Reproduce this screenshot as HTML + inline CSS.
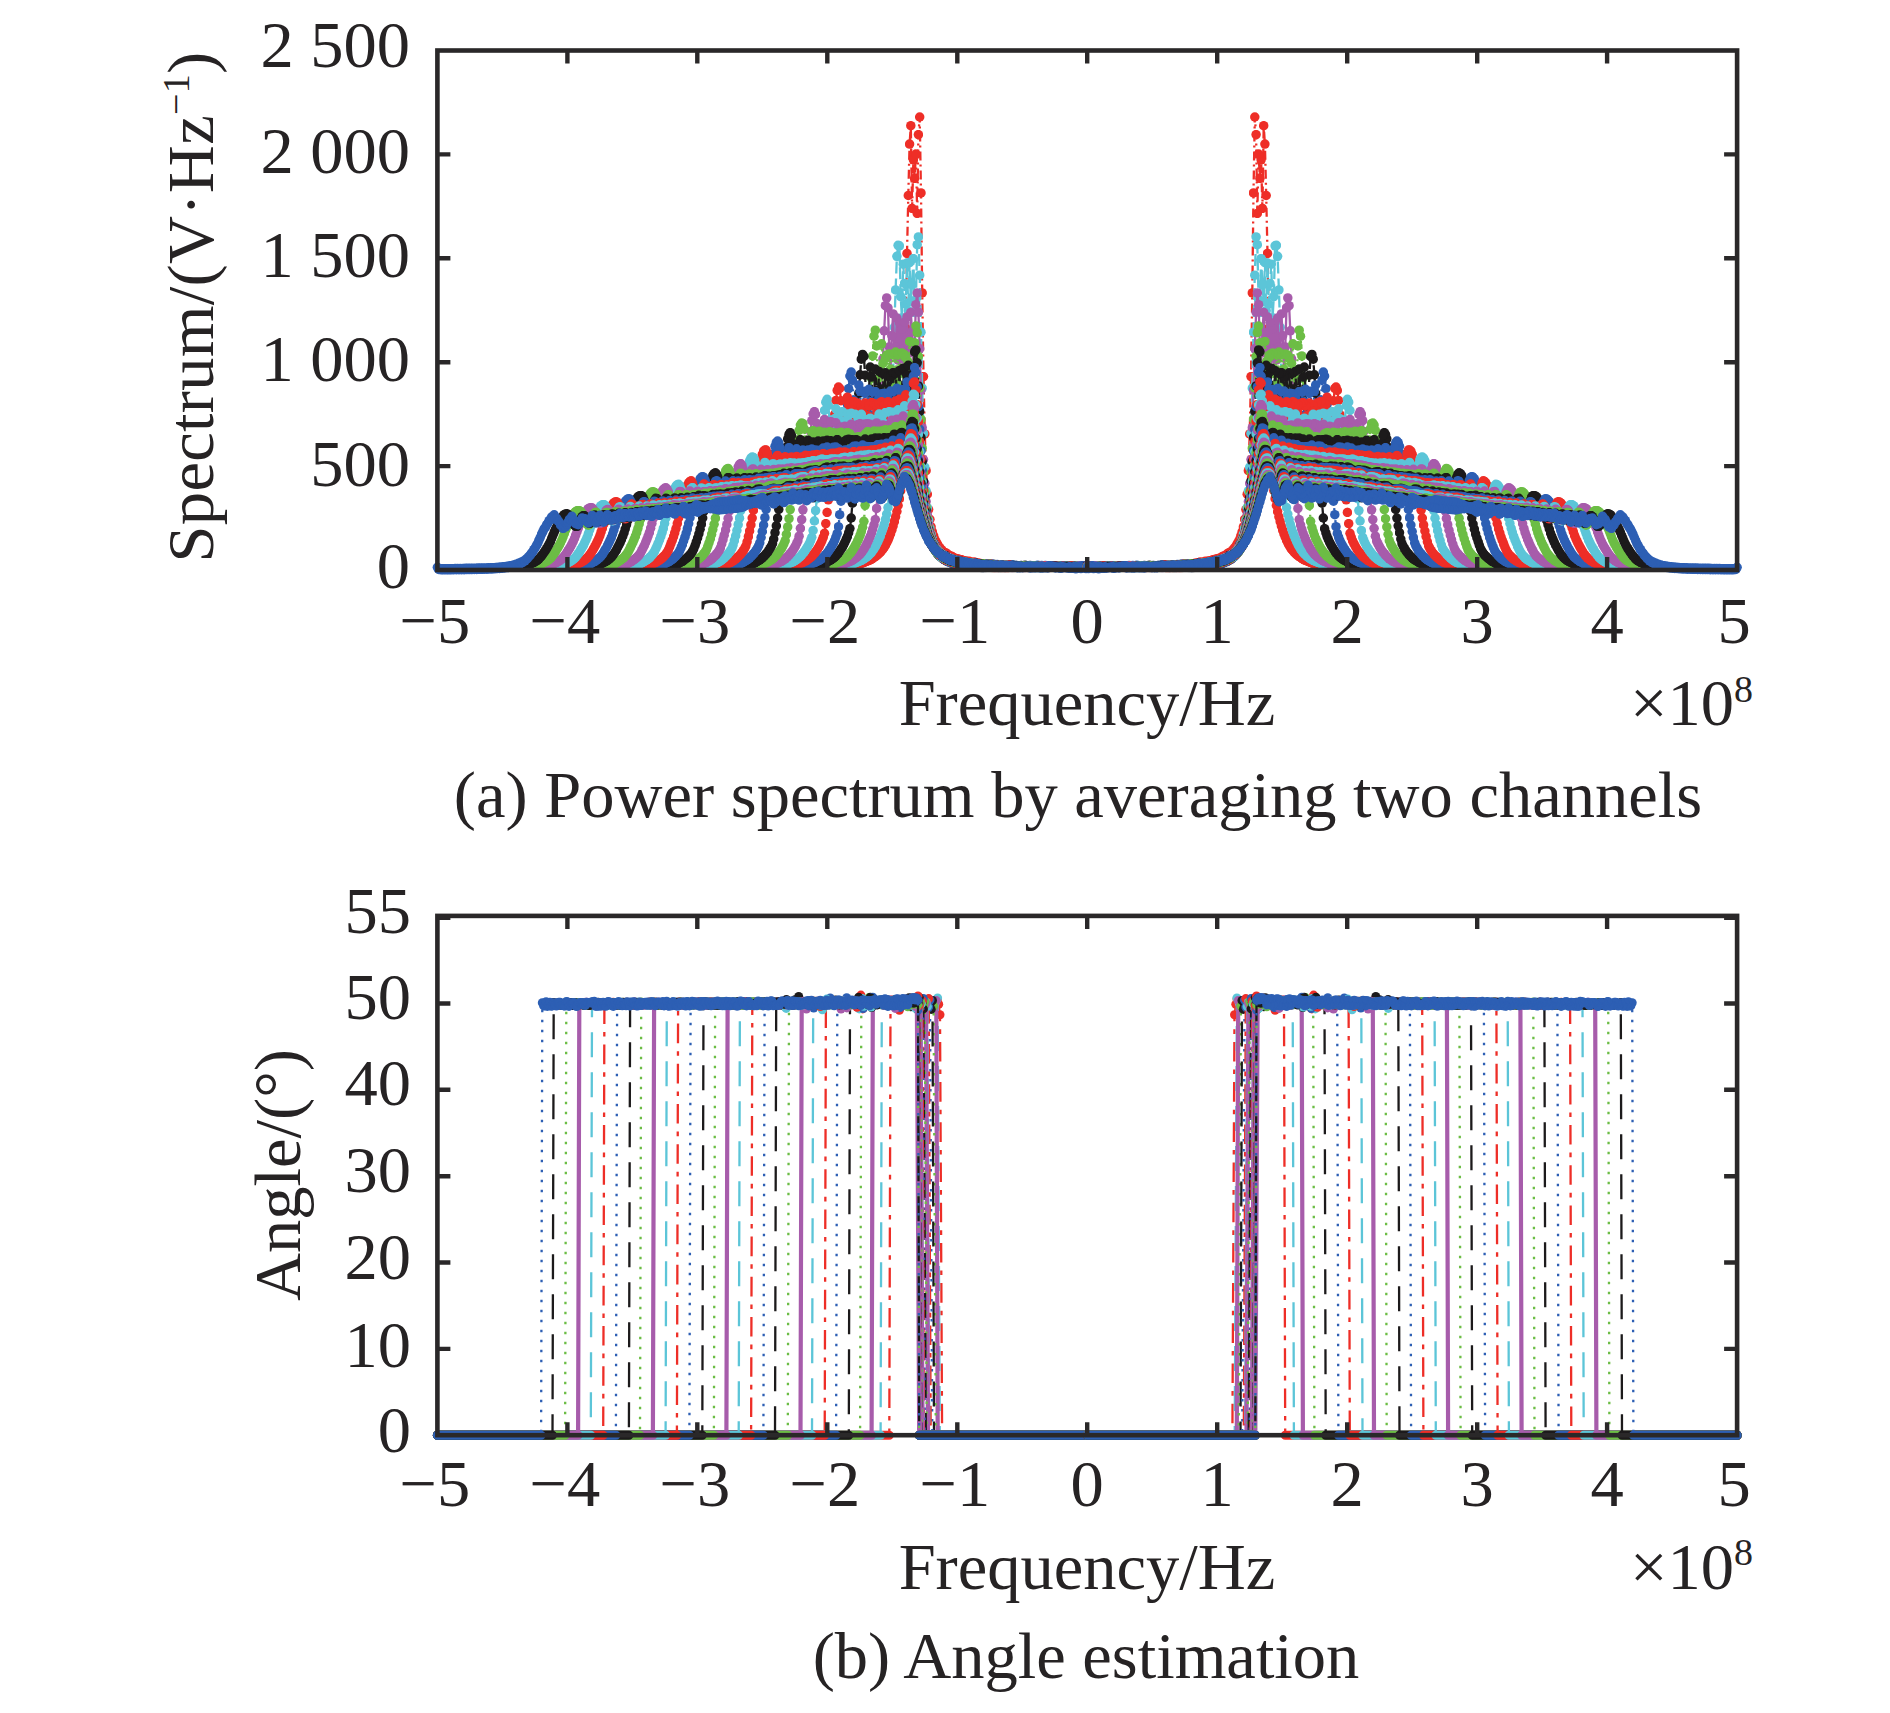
<!DOCTYPE html>
<html><head><meta charset="utf-8"><title>Figure</title>
<style>html,body{margin:0;padding:0;background:#fff}svg{display:block}</style></head>
<body>
<svg width="1890" height="1713" viewBox="0 0 1890 1713">
<rect width="1890" height="1713" fill="#fff"/>
<defs>
<marker id="m0" markerUnits="userSpaceOnUse" markerWidth="10" markerHeight="10" refX="5" refY="5" viewBox="0 0 10 10"><circle cx="5" cy="5" r="4.75" fill="#ee2e27"/></marker>
<marker id="m1" markerUnits="userSpaceOnUse" markerWidth="10" markerHeight="10" refX="5" refY="5" viewBox="0 0 10 10"><circle cx="5" cy="5" r="4.75" fill="#5cc5d8"/></marker>
<marker id="m2" markerUnits="userSpaceOnUse" markerWidth="10" markerHeight="10" refX="5" refY="5" viewBox="0 0 10 10"><circle cx="5" cy="5" r="4.75" fill="#a75cab"/></marker>
<marker id="m3" markerUnits="userSpaceOnUse" markerWidth="10" markerHeight="10" refX="5" refY="5" viewBox="0 0 10 10"><circle cx="5" cy="5" r="4.75" fill="#6cbd45"/></marker>
<marker id="m4" markerUnits="userSpaceOnUse" markerWidth="10" markerHeight="10" refX="5" refY="5" viewBox="0 0 10 10"><circle cx="5" cy="5" r="4.75" fill="#1c1a1b"/></marker>
<marker id="m5" markerUnits="userSpaceOnUse" markerWidth="10" markerHeight="10" refX="5" refY="5" viewBox="0 0 10 10"><circle cx="5" cy="5" r="4.75" fill="#2d5fb4"/></marker>
<clipPath id="ctop"><rect x="429.4" y="50.5" width="1315.6999999999998" height="527.5"/></clipPath>
<clipPath id="ctop2"><rect x="429.4" y="50.5" width="1315.6999999999998" height="521.8"/></clipPath>
</defs>
<g clip-path="url(#ctop)">
<g id="tl" fill="none" stroke-width="2.3" stroke-linejoin="round">
<g clip-path="url(#ctop2)">
<polyline points="843.6,567.1 844.8,566.9 846.1,566.8 847.4,566.6 848.6,566.4 849.9,566.1 851.2,565.9 852.4,565.7 853.7,565.4 855.0,565.1 856.2,564.8 857.5,564.5 858.8,564.1 860.1,563.7 861.3,563.4 862.6,562.9 863.9,562.5 865.1,562.0 866.4,561.5 867.7,561.0 868.9,560.4 870.2,559.8 871.5,559.1 872.7,558.3 874.0,557.5 875.3,556.6 876.6,555.7 877.8,554.6 879.1,553.4 880.4,552.1 881.6,550.7 882.9,549.1 884.2,547.3 885.4,545.2 886.7,542.8 888.0,540.2 889.2,537.2 890.5,533.9 891.8,530.2 893.1,526.1 894.3,521.7 895.6,516.8 896.9,511.5 898.1,505.5 899.4,498.7 900.7,490.7 901.9,477.7 903.2,438.5 904.5,390.9 905.7,328.0 907.0,253.4 908.3,195.5 909.6,144.1 910.8,125.7 912.1,208.4 913.4,159.8 914.6,178.4 915.9,154.0 917.2,213.4 918.4,134.6 919.7,117.0 921.0,192.9 922.2,292.9 923.5,376.6 924.8,433.9 926.1,470.7 927.3,494.2 928.6,509.6 929.9,519.3 931.1,526.9 932.4,531.8 933.7,535.9 934.9,539.6 936.2,541.9 937.5,544.2 938.7,546.5 940.0,547.9 941.3,549.7 942.6,551.2 943.8,552.0 945.1,552.6 946.4,553.2 947.6,554.4 948.9,555.3 950.2,555.9 951.4,556.2 952.7,557.1 954.0,558.0 955.2,558.2 956.5,558.7 957.8,559.0 959.1,559.3 960.3,559.7 961.6,559.7 962.9,560.4 964.1,561.0 965.4,561.1 966.7,561.2 967.9,562.2 969.2,561.3 970.5,562.2 971.7,562.3 973.0,562.6 974.3,562.1 975.6,562.9 976.8,562.9 978.1,563.2 979.4,563.2 980.6,563.5 981.9,563.7 983.2,563.6 984.4,563.7 985.7,564.1 987.0,564.1 988.2,564.5 989.5,564.4 990.8,564.3 992.1,565.1 993.3,565.0 994.6,565.2 995.9,565.1 997.1,564.9 998.4,565.6 999.7,565.7 1000.9,565.6 1002.2,565.7 1003.5,565.9 1004.7,566.2 1006.0,566.2 1007.3,566.4 1008.6,565.8 1009.8,566.3 1011.1,566.2 1012.4,566.3 1013.6,566.2 1014.9,566.6 1016.2,566.9 1017.4,566.8 1018.7,566.5 1020.0,566.7 1021.2,566.8 1022.5,566.8 1023.8,567.8 1025.1,567.1 1026.3,566.6 1027.6,567.7" stroke="#ee2e27" stroke-dasharray="9 4 2 4" marker-start="url(#m0)" marker-mid="url(#m0)" marker-end="url(#m0)"/>
<polyline points="834.7,567.2 835.9,567.0 837.2,566.9 838.5,566.7 839.7,566.5 841.0,566.3 842.3,566.1 843.6,565.8 844.8,565.6 846.1,565.3 847.4,565.0 848.6,564.8 849.9,564.4 851.2,564.1 852.4,563.7 853.7,563.4 855.0,562.9 856.2,562.5 857.5,562.0 858.8,561.5 860.1,560.9 861.3,560.3 862.6,559.6 863.9,558.8 865.1,558.0 866.4,557.1 867.7,556.1 868.9,555.0 870.2,553.7 871.5,552.3 872.7,550.6 874.0,548.8 875.3,546.7 876.6,544.3 877.8,541.7 879.1,538.9 880.4,535.7 881.6,532.3 882.9,528.6 884.2,524.4 885.4,519.6 886.7,514.1 888.0,507.5 889.2,486.5 890.5,457.4 891.8,421.9 893.1,374.4 894.3,327.3 895.6,289.9 896.9,256.3 898.1,245.3 899.4,245.8 900.7,296.6 901.9,317.7 903.2,264.2 904.5,283.4 905.7,304.1 907.0,263.1 908.3,310.7 909.6,262.6 910.8,301.7 912.1,284.3 913.4,258.6 914.6,312.5 915.9,299.7 917.2,244.7 918.4,236.9 919.7,275.2 921.0,332.2 922.2,388.2 923.5,433.4 924.8,467.2 926.1,490.9 927.3,507.6 928.6,519.9 929.9,528.0 931.1,534.0 932.4,538.8 933.7,542.8 934.9,545.2 936.2,547.6 937.5,549.5 938.7,551.2 940.0,552.5 941.3,553.7 942.6,554.6 943.8,556.2 945.1,556.7 946.4,557.4 947.6,557.5 948.9,558.2 950.2,558.7 951.4,559.7 952.7,560.1 954.0,560.1 955.2,560.7 956.5,560.6 957.8,561.2 959.1,561.4 960.3,561.7 961.6,562.3 962.9,562.4 964.1,562.5 965.4,563.1 966.7,563.4 967.9,563.4 969.2,563.7 970.5,563.7 971.7,563.6 973.0,564.2 974.3,564.6 975.6,564.7 976.8,564.6 978.1,564.6 979.4,564.6 980.6,564.8 981.9,565.6 983.2,565.3 984.4,565.0 985.7,565.3 987.0,565.5 988.2,565.3 989.5,565.2 990.8,565.6 992.1,566.0 993.3,566.1 994.6,565.9 995.9,566.6 997.1,566.2 998.4,566.5 999.7,566.2 1000.9,566.1 1002.2,566.1 1003.5,566.5 1004.7,566.2 1006.0,566.5 1007.3,566.7 1008.6,566.5 1009.8,566.7 1011.1,566.5 1012.4,566.8 1013.6,567.2 1014.9,566.6 1016.2,567.0 1017.4,566.6 1018.7,566.8 1020.0,567.3" stroke="#5cc5d8" stroke-dasharray="12 5" marker-start="url(#m1)" marker-mid="url(#m1)" marker-end="url(#m1)"/>
<polyline points="825.8,567.1 827.1,567.0 828.3,566.8 829.6,566.6 830.9,566.4 832.1,566.2 833.4,566.0 834.7,565.8 835.9,565.6 837.2,565.3 838.5,565.0 839.7,564.7 841.0,564.4 842.3,564.1 843.6,563.7 844.8,563.3 846.1,562.9 847.4,562.4 848.6,561.9 849.9,561.4 851.2,560.8 852.4,560.1 853.7,559.4 855.0,558.5 856.2,557.6 857.5,556.6 858.8,555.5 860.1,554.2 861.3,552.7 862.6,551.0 863.9,549.1 865.1,547.0 866.4,544.7 867.7,542.1 868.9,539.4 870.2,536.3 871.5,533.0 872.7,529.2 874.0,524.8 875.3,519.6 876.6,508.4 877.8,487.3 879.1,462.7 880.4,431.9 881.6,392.6 882.9,358.9 884.2,330.8 885.4,305.7 886.7,297.9 888.0,307.9 889.2,346.9 890.5,370.7 891.8,335.6 893.1,313.9 894.3,353.4 895.6,347.2 896.9,318.1 898.1,360.1 899.4,322.7 900.7,349.3 901.9,328.9 903.2,349.3 904.5,322.3 905.7,360.1 907.0,316.9 908.3,344.9 909.6,352.9 910.8,312.4 912.1,331.7 913.4,368.7 914.6,345.7 915.9,304.7 917.2,293.0 918.4,312.2 919.7,348.8 921.0,390.1 922.2,427.7 923.5,459.6 924.8,483.3 926.1,501.6 927.3,514.7 928.6,524.7 929.9,532.3 931.1,538.3 932.4,542.0 933.7,545.4 934.9,548.1 936.2,550.6 937.5,552.1 938.7,553.7 940.0,555.5 941.3,555.7 942.6,557.2 943.8,557.8 945.1,558.1 946.4,558.7 947.6,560.0 948.9,559.9 950.2,561.0 951.4,561.7 952.7,562.0 954.0,562.0 955.2,561.9 956.5,562.8 957.8,563.1 959.1,563.0 960.3,563.3 961.6,563.7 962.9,564.2 964.1,564.1 965.4,564.0 966.7,564.3 967.9,564.4 969.2,564.2 970.5,564.9 971.7,565.3 973.0,565.3 974.3,565.2 975.6,565.1 976.8,565.2 978.1,565.6 979.4,565.6 980.6,566.1 981.9,565.6 983.2,566.2 984.4,566.5 985.7,566.0 987.0,566.7 988.2,566.4 989.5,566.5 990.8,567.1 992.1,566.6 993.3,566.7 994.6,566.7 995.9,567.0 997.1,566.7 998.4,566.9 999.7,566.9 1000.9,566.9 1002.2,567.0 1003.5,567.0 1004.7,567.2 1006.0,566.9 1007.3,566.6 1008.6,566.7 1009.8,566.3 1011.1,566.7 1012.4,567.9" stroke="#a75cab" marker-start="url(#m2)" marker-mid="url(#m2)" marker-end="url(#m2)"/>
<polyline points="815.6,567.2 816.9,567.0 818.2,566.8 819.4,566.7 820.7,566.5 822.0,566.3 823.2,566.1 824.5,565.9 825.8,565.6 827.1,565.4 828.3,565.1 829.6,564.8 830.9,564.5 832.1,564.2 833.4,563.8 834.7,563.4 835.9,563.0 837.2,562.5 838.5,562.0 839.7,561.4 841.0,560.8 842.3,560.1 843.6,559.3 844.8,558.5 846.1,557.5 847.4,556.4 848.6,555.1 849.9,553.7 851.2,552.1 852.4,550.3 853.7,548.4 855.0,546.2 856.2,543.8 857.5,541.2 858.8,538.4 860.1,535.2 861.3,531.5 862.6,527.3 863.9,521.3 865.1,505.3 866.4,486.7 867.7,464.7 868.9,436.4 870.2,404.2 871.5,378.3 872.7,355.9 874.0,336.2 875.3,330.2 876.6,346.0 877.8,378.9 879.1,396.6 880.4,370.4 881.6,343.8 882.9,363.4 884.2,390.2 885.4,358.6 886.7,355.0 888.0,387.8 889.2,354.0 890.5,369.1 891.8,373.6 893.1,355.1 894.3,382.2 895.6,352.0 896.9,382.3 898.1,354.6 899.4,373.6 900.7,369.2 901.9,352.9 903.2,387.4 904.5,354.6 905.7,357.6 907.0,389.7 908.3,362.3 909.6,341.5 910.8,368.0 912.1,394.3 913.4,376.6 914.6,342.7 915.9,326.0 917.2,332.7 918.4,356.3 919.7,387.8 921.0,419.2 922.2,448.2 923.5,472.7 924.8,491.9 926.1,506.9 927.3,518.9 928.6,527.1 929.9,533.9 931.1,539.3 932.4,543.2 933.7,546.8 934.9,549.6 936.2,551.8 937.5,553.5 938.7,554.8 940.0,555.8 941.3,556.9 942.6,558.4 943.8,559.0 945.1,559.3 946.4,560.2 947.6,561.1 948.9,561.3 950.2,562.0 951.4,562.2 952.7,562.5 954.0,563.1 955.2,563.5 956.5,563.6 957.8,563.6 959.1,564.3 960.3,564.4 961.6,564.7 962.9,564.7 964.1,565.3 965.4,565.5 966.7,565.6 967.9,565.4 969.2,565.4 970.5,566.0 971.7,565.9 973.0,565.7 974.3,566.6 975.6,566.5 976.8,566.6 978.1,566.3 979.4,566.3 980.6,566.4 981.9,566.9 983.2,566.8 984.4,566.6 985.7,566.9 987.0,567.2 988.2,567.1 989.5,566.8 990.8,567.3 992.1,567.5 993.3,567.0 994.6,567.1 995.9,567.4" stroke="#6cbd45" stroke-dasharray="2 4" marker-start="url(#m3)" marker-mid="url(#m3)" marker-end="url(#m3)"/>
<polyline points="804.2,567.1 805.5,567.0 806.7,566.8 808.0,566.6 809.3,566.5 810.6,566.3 811.8,566.1 813.1,565.8 814.4,565.6 815.6,565.4 816.9,565.1 818.2,564.8 819.4,564.5 820.7,564.1 822.0,563.7 823.2,563.3 824.5,562.9 825.8,562.4 827.1,561.8 828.3,561.2 829.6,560.6 830.9,559.8 832.1,559.0 833.4,558.1 834.7,557.0 835.9,555.8 837.2,554.4 838.5,552.8 839.7,551.1 841.0,549.2 842.3,547.2 843.6,544.9 844.8,542.4 846.1,539.7 847.4,536.6 848.6,532.9 849.9,528.6 851.2,518.0 852.4,503.2 853.7,486.3 855.0,466.0 856.2,440.0 857.5,414.2 858.8,393.4 860.1,374.8 861.3,359.2 862.6,354.4 863.9,356.5 865.1,375.2 866.4,403.8 867.7,413.6 868.9,390.7 870.2,367.1 871.5,377.1 872.7,405.2 874.0,394.5 875.3,369.1 876.6,390.3 877.8,401.4 879.1,371.4 880.4,392.8 881.6,393.3 882.9,373.7 884.2,403.5 885.4,372.8 886.7,399.4 888.0,376.4 889.2,396.5 890.5,376.5 891.8,399.4 893.1,372.6 894.3,403.3 895.6,373.3 896.9,393.0 898.1,392.2 899.4,370.6 900.7,400.5 901.9,389.4 903.2,368.2 904.5,393.6 905.7,405.0 907.0,375.3 908.3,365.3 909.6,388.6 910.8,411.6 912.1,400.9 913.4,372.5 914.6,351.8 915.9,349.9 917.2,362.8 918.4,385.9 919.7,411.4 921.0,437.5 922.2,461.5 923.5,481.1 924.8,497.5 926.1,510.1 927.3,520.8 928.6,528.9 929.9,534.9 931.1,539.9 932.4,543.9 933.7,546.9 934.9,549.5 936.2,551.7 937.5,553.6 938.7,555.0 940.0,556.4 941.3,557.2 942.6,558.5 943.8,559.5 945.1,560.2 946.4,560.3 947.6,561.6 948.9,561.6 950.2,562.5 951.4,562.9 952.7,563.2 954.0,563.3 955.2,563.5 956.5,564.4 957.8,563.9 959.1,565.0 960.3,564.8 961.6,565.2 962.9,565.4 964.1,565.2 965.4,565.6 966.7,565.9 967.9,566.1 969.2,566.0 970.5,565.9 971.7,566.5 973.0,566.9 974.3,566.6 975.6,566.9 976.8,566.7 978.1,567.2 979.4,567.2 980.6,567.0 981.9,567.8 983.2,567.5 984.4,566.7 985.7,567.6" stroke="#1c1a1b" stroke-dasharray="8 5" marker-start="url(#m4)" marker-mid="url(#m4)" marker-end="url(#m4)"/>
<polyline points="792.8,567.2 794.1,567.1 795.3,566.9 796.6,566.7 797.9,566.6 799.1,566.4 800.4,566.2 801.7,566.0 802.9,565.8 804.2,565.5 805.5,565.2 806.7,565.0 808.0,564.6 809.3,564.3 810.6,563.9 811.8,563.5 813.1,563.1 814.4,562.6 815.6,562.1 816.9,561.5 818.2,560.8 819.4,560.1 820.7,559.3 822.0,558.3 823.2,557.3 824.5,556.1 825.8,554.7 827.1,553.2 828.3,551.5 829.6,549.7 830.9,547.6 832.1,545.4 833.4,543.0 834.7,540.3 835.9,537.1 837.2,533.4 838.5,526.7 839.7,514.7 841.0,501.2 842.3,485.4 843.6,466.1 844.8,442.6 846.1,421.9 847.4,404.5 848.6,388.6 849.9,376.0 851.2,372.0 852.4,380.2 853.7,400.3 855.0,422.4 856.2,425.4 857.5,403.7 858.8,384.9 860.1,391.2 861.3,416.1 862.6,416.2 863.9,391.2 865.1,393.4 866.4,417.9 867.7,403.0 868.9,389.3 870.2,415.2 871.5,402.1 872.7,392.1 874.0,417.0 875.3,391.5 876.6,408.0 877.8,402.5 879.1,398.1 880.4,410.0 881.6,393.8 882.9,412.1 884.2,393.3 885.4,410.2 886.7,397.4 888.0,401.7 889.2,407.5 890.5,391.0 891.8,416.1 893.1,391.6 894.3,401.5 895.6,414.1 896.9,388.3 898.1,401.9 899.4,417.2 900.7,391.7 901.9,389.4 903.2,414.8 904.5,414.8 905.7,389.1 907.0,381.9 908.3,401.2 909.6,422.7 910.8,420.4 912.1,396.9 913.4,376.2 914.6,367.6 915.9,372.3 917.2,386.9 918.4,406.6 919.7,429.3 921.0,450.7 922.2,470.2 923.5,487.0 924.8,500.9 926.1,512.8 927.3,522.3 928.6,529.0 929.9,534.6 931.1,540.1 932.4,543.6 933.7,546.5 934.9,549.4 936.2,551.2 937.5,553.3 938.7,554.7 940.0,556.2 941.3,557.1 942.6,558.6 943.8,559.3 945.1,559.8 946.4,560.1 947.6,561.6 948.9,561.5 950.2,562.4 951.4,563.1 952.7,562.6 954.0,563.5 955.2,563.7 956.5,564.3 957.8,563.8 959.1,564.1 960.3,564.7 961.6,564.9 962.9,565.1 964.1,565.1 965.4,565.2 966.7,565.1 967.9,565.5 969.2,566.3 970.5,566.2 971.7,566.6 973.0,566.4 974.3,566.6 975.6,566.9 976.8,567.2 978.1,566.8 979.4,567.3 980.6,566.9 981.9,566.7 983.2,567.8" stroke="#2d5fb4" stroke-dasharray="2 4" marker-start="url(#m5)" marker-mid="url(#m5)" marker-end="url(#m5)"/>
<polyline points="781.4,567.1 782.6,567.0 783.9,566.8 785.2,566.7 786.4,566.5 787.7,566.3 789.0,566.1 790.2,565.9 791.5,565.6 792.8,565.4 794.1,565.1 795.3,564.8 796.6,564.5 797.9,564.1 799.1,563.7 800.4,563.3 801.7,562.8 802.9,562.3 804.2,561.7 805.5,561.1 806.7,560.3 808.0,559.5 809.3,558.5 810.6,557.5 811.8,556.3 813.1,554.9 814.4,553.4 815.6,551.8 816.9,550.0 818.2,548.0 819.4,545.8 820.7,543.4 822.0,540.6 823.2,537.4 824.5,533.3 825.8,523.6 827.1,512.4 828.3,499.8 829.6,485.0 830.9,466.5 832.1,446.0 833.4,429.1 834.7,414.4 835.9,400.5 837.2,390.4 838.5,387.0 839.7,388.5 841.0,400.7 842.3,419.8 843.6,435.9 844.8,431.2 846.1,411.9 847.4,397.2 848.6,404.4 849.9,424.6 851.2,428.7 852.4,407.4 853.7,401.4 855.0,421.4 856.2,424.9 857.5,403.1 858.8,411.1 860.1,427.0 861.3,405.5 862.6,410.6 863.9,425.0 865.1,403.1 866.4,419.0 867.7,415.7 868.9,405.7 870.2,424.8 871.5,402.5 872.7,424.6 874.0,403.6 875.3,422.3 876.6,404.8 877.8,422.3 879.1,403.4 880.4,424.1 881.6,401.7 882.9,424.2 884.2,405.1 885.4,414.6 886.7,418.2 888.0,401.8 889.2,424.6 890.5,409.3 891.8,404.3 893.1,426.0 894.3,409.5 895.6,401.1 896.9,423.1 898.1,420.4 899.4,399.3 900.7,405.2 901.9,426.6 903.2,423.0 904.5,401.6 905.7,394.8 907.0,409.1 908.3,429.0 909.6,433.2 910.8,416.9 912.1,396.6 913.4,383.3 914.6,381.9 915.9,389.9 917.2,404.6 918.4,421.5 919.7,441.6 921.0,459.1 922.2,476.3 923.5,490.9 924.8,503.4 926.1,514.2 927.3,522.2 928.6,528.7 929.9,534.5 931.1,538.9 932.4,542.8 933.7,545.5 934.9,548.9 936.2,550.7 937.5,552.3 938.7,554.5 940.0,555.4 941.3,556.1 942.6,557.8 943.8,558.1 945.1,559.7 946.4,559.8 947.6,560.6 948.9,560.8 950.2,561.3 951.4,562.2 952.7,561.6 954.0,562.9 955.2,563.0 956.5,563.2 957.8,563.4 959.1,564.1 960.3,563.8 961.6,564.3 962.9,565.0 964.1,564.5 965.4,565.1 966.7,565.0 967.9,565.2 969.2,565.7 970.5,566.2 971.7,565.7 973.0,566.1 974.3,566.4 975.6,566.1 976.8,566.1 978.1,566.6 979.4,566.6 980.6,566.6 981.9,566.7 983.2,566.6 984.4,566.8 985.7,567.0 987.0,566.8 988.2,567.4 989.5,567.2 990.8,567.3 992.1,567.6 993.3,567.4 994.6,567.9 995.9,567.1 997.1,567.2 998.4,567.8 999.7,567.4 1000.9,567.7 1002.2,567.6 1003.5,567.6 1004.7,567.6 1006.0,567.0 1007.3,568.1" stroke="#ee2e27" stroke-dasharray="9 4 2 4" marker-start="url(#m0)" marker-mid="url(#m0)" marker-end="url(#m0)"/>
<polyline points="769.9,567.2 771.2,567.0 772.5,566.9 773.7,566.7 775.0,566.6 776.3,566.4 777.6,566.2 778.8,566.0 780.1,565.7 781.4,565.5 782.6,565.2 783.9,564.9 785.2,564.6 786.4,564.2 787.7,563.8 789.0,563.4 790.2,562.9 791.5,562.4 792.8,561.8 794.1,561.2 795.3,560.4 796.6,559.6 797.9,558.6 799.1,557.5 800.4,556.3 801.7,555.0 802.9,553.5 804.2,551.9 805.5,550.1 806.7,548.1 808.0,546.0 809.3,543.5 810.6,540.7 811.8,537.3 813.1,530.5 814.4,521.0 815.6,510.6 816.9,498.7 818.2,484.5 819.4,467.0 820.7,449.6 822.0,435.4 823.2,422.7 824.5,410.5 825.8,402.2 827.1,399.3 828.3,405.5 829.6,420.1 830.9,436.8 832.1,445.3 833.4,436.5 834.7,418.6 835.9,408.8 837.2,416.8 838.5,434.7 839.7,437.9 841.0,420.7 842.3,411.6 843.6,426.8 844.8,436.7 846.1,420.3 847.4,414.1 848.6,432.3 849.9,429.4 851.2,413.3 852.4,429.0 853.7,429.7 855.0,414.2 856.2,431.7 857.5,423.6 858.8,417.6 860.1,433.9 861.3,414.3 862.6,430.7 863.9,419.7 865.1,423.7 866.4,425.5 867.7,419.6 868.9,428.0 870.2,418.2 871.5,428.2 872.7,419.8 874.0,425.3 875.3,423.9 876.6,419.1 877.8,430.4 879.1,414.1 880.4,432.5 881.6,416.6 882.9,422.2 884.2,430.7 885.4,412.5 886.7,428.0 888.0,427.5 889.2,411.6 890.5,427.4 891.8,430.8 893.1,412.2 894.3,418.3 895.6,434.9 896.9,424.1 898.1,409.8 899.4,418.0 900.7,435.5 901.9,432.4 903.2,414.3 904.5,405.8 905.7,415.3 907.0,433.4 908.3,442.2 909.6,433.2 910.8,416.4 912.1,401.1 913.4,394.2 914.6,395.6 915.9,404.8 917.2,418.3 918.4,434.0 919.7,451.4 921.0,466.9 922.2,481.6 923.5,494.9 924.8,505.6 926.1,514.8 927.3,522.7 928.6,528.9 929.9,534.0 931.1,538.5 932.4,542.5 933.7,545.3 934.9,547.9 936.2,549.9 937.5,551.1 938.7,553.4 940.0,554.5 941.3,555.4 942.6,556.8 943.8,557.0 945.1,558.0 946.4,558.7 947.6,559.8 948.9,560.4 950.2,560.8 951.4,561.4 952.7,561.5 954.0,561.6 955.2,562.0 956.5,562.3 957.8,562.6 959.1,563.1 960.3,563.5 961.6,563.7 962.9,563.3 964.1,563.9 965.4,564.2 966.7,564.0 967.9,564.5 969.2,565.0 970.5,564.6 971.7,565.2 973.0,565.0 974.3,565.3 975.6,565.2 976.8,565.6 978.1,565.3 979.4,565.2 980.6,565.3 981.9,565.9 983.2,566.0 984.4,566.0 985.7,566.3 987.0,565.5 988.2,565.8 989.5,566.2 990.8,566.2 992.1,566.4 993.3,566.3 994.6,566.4 995.9,566.5 997.1,566.5 998.4,566.5 999.7,567.1 1000.9,566.5 1002.2,566.5 1003.5,566.4 1004.7,567.1 1006.0,567.0 1007.3,566.6 1008.6,566.7 1009.8,567.2 1011.1,567.0 1012.4,567.2 1013.6,566.7 1014.9,566.7 1016.2,567.2 1017.4,566.9 1018.7,567.3 1020.0,567.5 1021.2,566.8 1022.5,567.4 1023.8,567.5 1025.1,567.4 1026.3,567.1 1027.6,567.3 1028.9,567.0 1030.1,567.3 1031.4,567.3 1032.7,567.0 1033.9,567.6 1035.2,567.4 1036.5,568.1 1037.7,567.5 1039.0,567.2 1040.3,567.9 1041.6,568.0 1042.8,567.3 1044.1,567.1 1045.4,567.0 1046.6,567.7 1047.9,567.5 1049.2,566.9 1050.4,567.4 1051.7,567.0 1053.0,567.6" stroke="#5cc5d8" stroke-dasharray="12 5" marker-start="url(#m1)" marker-mid="url(#m1)" marker-end="url(#m1)"/>
<polyline points="758.5,567.1 759.8,567.0 761.1,566.8 762.3,566.6 763.6,566.5 764.9,566.3 766.1,566.0 767.4,565.8 768.7,565.6 769.9,565.3 771.2,565.0 772.5,564.7 773.7,564.4 775.0,564.0 776.3,563.5 777.6,563.1 778.8,562.6 780.1,562.0 781.4,561.3 782.6,560.6 783.9,559.7 785.2,558.8 786.4,557.7 787.7,556.5 789.0,555.1 790.2,553.7 791.5,552.1 792.8,550.3 794.1,548.4 795.3,546.2 796.6,543.7 797.9,540.8 799.1,536.2 800.4,528.3 801.7,519.6 802.9,509.8 804.2,498.6 805.5,484.9 806.7,469.0 808.0,454.6 809.3,442.5 810.6,431.5 811.8,420.7 813.1,414.0 814.4,411.6 815.6,414.4 816.9,423.5 818.2,437.6 819.4,450.6 820.7,451.7 822.0,440.0 823.2,425.1 824.5,419.4 825.8,428.0 827.1,443.7 828.3,445.0 829.6,430.0 830.9,421.6 832.1,432.5 833.4,444.4 834.7,433.8 835.9,422.8 837.2,433.8 838.5,442.6 839.7,427.6 841.0,427.1 842.3,441.9 843.6,430.3 844.8,426.3 846.1,441.9 847.4,427.9 848.6,429.4 849.9,440.3 851.2,424.2 852.4,437.4 853.7,430.5 855.0,429.3 856.2,437.9 857.5,424.7 858.8,440.2 860.1,423.6 861.3,440.0 862.6,424.7 863.9,439.5 865.1,424.1 866.4,439.4 867.7,423.8 868.9,440.0 870.2,424.3 871.5,437.1 872.7,428.6 874.0,430.2 875.3,436.8 876.6,422.9 877.8,438.9 879.1,428.3 880.4,427.3 881.6,440.0 882.9,424.9 884.2,428.7 885.4,440.4 886.7,425.4 888.0,425.7 889.2,440.7 890.5,431.5 891.8,420.2 893.1,432.2 894.3,441.9 895.6,429.7 896.9,419.2 898.1,427.5 899.4,442.1 900.7,440.3 901.9,425.4 903.2,416.1 904.5,421.5 905.7,436.2 907.0,447.4 908.3,445.0 909.6,432.3 910.8,417.3 912.1,406.9 913.4,404.5 914.6,408.2 915.9,417.6 917.2,430.2 918.4,444.9 919.7,458.8 921.0,473.3 922.2,486.3 923.5,497.8 924.8,507.6 926.1,516.1 927.3,522.8 928.6,529.4 929.9,533.8 931.1,538.1 932.4,541.4 933.7,544.5 934.9,547.2 936.2,548.6 937.5,550.6 938.7,551.9 940.0,553.9 941.3,554.9 942.6,555.3 943.8,556.3 945.1,557.4 946.4,557.7 947.6,558.6 948.9,559.1 950.2,559.7 951.4,560.3 952.7,560.6 954.0,560.8 955.2,560.7 956.5,561.3 957.8,561.8 959.1,562.1 960.3,562.6 961.6,562.8 962.9,562.4 964.1,562.5 965.4,563.2 966.7,563.5 967.9,563.8 969.2,563.3 970.5,563.8 971.7,564.3 973.0,563.9 974.3,563.9 975.6,564.6 976.8,564.7 978.1,564.5 979.4,565.0 980.6,564.6 981.9,564.7 983.2,565.0 984.4,564.8 985.7,564.9 987.0,565.0 988.2,565.4 989.5,565.6 990.8,565.4 992.1,565.6 993.3,565.2 994.6,565.5 995.9,565.3 997.1,565.4 998.4,565.8 999.7,565.9 1000.9,565.9 1002.2,565.4 1003.5,565.7 1004.7,566.4 1006.0,566.1 1007.3,566.2 1008.6,566.4 1009.8,565.7 1011.1,566.2 1012.4,566.0 1013.6,565.8 1014.9,566.2 1016.2,566.1 1017.4,566.4 1018.7,566.5 1020.0,565.6 1021.2,566.3 1022.5,566.5 1023.8,566.5 1025.1,566.5 1026.3,566.4 1027.6,566.3 1028.9,566.5 1030.1,566.5 1031.4,567.0 1032.7,566.6 1033.9,566.5 1035.2,566.5 1036.5,566.8 1037.7,566.8 1039.0,566.6 1040.3,566.8 1041.6,566.6 1042.8,566.5 1044.1,567.0 1045.4,566.8 1046.6,566.9 1047.9,566.8 1049.2,566.0 1050.4,566.4 1051.7,566.9 1053.0,567.0 1054.2,566.4 1055.5,566.6 1056.8,567.0 1058.1,566.8 1059.3,566.9 1060.6,567.0 1061.9,566.9 1063.1,566.7 1064.4,566.2 1065.7,566.7 1066.9,566.5 1068.2,566.8 1069.5,566.9 1070.7,566.9 1072.0,567.4 1073.3,566.8 1074.6,566.9 1075.8,567.1 1077.1,566.8 1078.4,566.8 1079.6,566.9 1080.9,566.8 1082.2,566.8 1083.4,566.6 1084.7,566.9 1086.0,566.7 1087.2,566.8" stroke="#a75cab" marker-start="url(#m2)" marker-mid="url(#m2)" marker-end="url(#m2)"/>
<polyline points="745.8,567.2 747.1,567.0 748.4,566.9 749.6,566.7 750.9,566.5 752.2,566.3 753.4,566.1 754.7,565.9 756.0,565.7 757.2,565.4 758.5,565.1 759.8,564.8 761.1,564.5 762.3,564.1 763.6,563.7 764.9,563.2 766.1,562.7 767.4,562.1 768.7,561.4 769.9,560.7 771.2,559.8 772.5,558.9 773.7,557.8 775.0,556.6 776.3,555.3 777.6,553.8 778.8,552.3 780.1,550.5 781.4,548.6 782.6,546.4 783.9,543.8 785.2,540.7 786.4,534.3 787.7,526.9 789.0,518.7 790.2,509.6 791.5,499.0 792.8,485.9 794.1,471.9 795.3,459.9 796.6,449.5 797.9,439.9 799.1,430.5 800.4,425.0 801.7,423.0 802.9,423.6 804.2,428.9 805.5,439.9 806.7,452.2 808.0,459.8 809.3,456.0 810.6,443.5 811.8,432.6 813.1,430.6 814.4,440.5 815.6,452.4 816.9,451.9 818.2,438.5 819.4,431.2 820.7,439.1 822.0,450.8 823.2,444.8 824.5,432.3 825.8,436.8 827.1,449.4 828.3,441.3 829.6,431.7 830.9,443.2 832.1,446.1 833.4,432.8 834.7,439.8 835.9,446.4 837.2,432.9 838.5,440.9 839.7,444.7 841.0,432.2 842.3,445.3 843.6,438.1 844.8,436.4 846.1,445.6 847.4,432.5 848.6,445.8 849.9,433.8 851.2,442.4 852.4,437.5 853.7,438.9 855.0,440.6 856.2,437.2 857.5,440.6 858.8,436.6 860.1,439.7 861.3,438.6 862.6,437.8 863.9,441.6 865.1,434.1 866.4,445.4 867.7,431.5 868.9,444.7 870.2,435.9 871.5,436.9 872.7,444.0 874.0,431.1 875.3,442.6 876.6,439.5 877.8,431.3 879.1,445.2 880.4,438.1 881.6,431.1 882.9,444.5 884.2,440.7 885.4,429.7 886.7,439.1 888.0,446.3 889.2,434.7 890.5,429.6 891.8,441.7 893.1,447.4 894.3,435.7 895.6,426.6 896.9,434.7 898.1,447.3 899.4,446.9 900.7,435.0 901.9,425.0 903.2,426.9 904.5,438.8 905.7,450.1 907.0,453.5 908.3,444.8 909.6,431.4 910.8,420.4 912.1,414.2 913.4,414.2 914.6,419.2 915.9,428.0 917.2,440.2 918.4,452.9 919.7,466.2 921.0,478.4 922.2,490.5 923.5,500.2 924.8,509.3 926.1,516.9 927.3,523.8 928.6,529.2 929.9,533.9 931.1,537.3 932.4,541.1 933.7,543.9 934.9,546.2 936.2,548.3 937.5,549.8 938.7,551.8 940.0,553.0 941.3,553.9 942.6,554.3 943.8,556.2 945.1,556.4 946.4,557.6 947.6,557.5 948.9,558.1 950.2,558.7 951.4,559.3 952.7,560.0 954.0,560.2 955.2,560.5 956.5,561.1 957.8,561.3 959.1,561.6 960.3,561.6 961.6,561.6 962.9,562.3 964.1,562.0 965.4,562.7 966.7,562.9 967.9,562.5 969.2,563.3 970.5,563.3 971.7,563.4 973.0,563.8 974.3,563.6 975.6,564.0 976.8,563.9 978.1,564.2 979.4,564.0 980.6,564.1 981.9,564.2 983.2,564.1 984.4,563.9 985.7,564.4 987.0,564.6 988.2,564.6 989.5,564.7 990.8,564.9 992.1,564.7 993.3,565.2 994.6,564.8 995.9,564.7 997.1,564.9 998.4,565.5 999.7,565.2 1000.9,565.1 1002.2,565.6 1003.5,565.1 1004.7,565.5 1006.0,564.9 1007.3,565.5 1008.6,565.5 1009.8,565.9 1011.1,565.5 1012.4,565.4 1013.6,565.4 1014.9,565.6 1016.2,565.5 1017.4,566.0 1018.7,565.7 1020.0,565.5 1021.2,565.7 1022.5,565.9 1023.8,566.1 1025.1,565.9 1026.3,565.9 1027.6,565.9 1028.9,565.5 1030.1,566.2 1031.4,566.3 1032.7,565.8 1033.9,566.2 1035.2,565.5 1036.5,565.8 1037.7,566.2 1039.0,566.7 1040.3,566.5 1041.6,565.9 1042.8,566.1 1044.1,566.3 1045.4,565.9 1046.6,566.0 1047.9,565.9 1049.2,566.1 1050.4,566.0 1051.7,566.4 1053.0,566.7 1054.2,566.3 1055.5,566.5 1056.8,566.0 1058.1,566.2 1059.3,566.3 1060.6,566.4 1061.9,565.9 1063.1,566.3 1064.4,566.4 1065.7,566.1 1066.9,566.7 1068.2,566.5 1069.5,565.9 1070.7,566.1 1072.0,567.2 1073.3,566.0 1074.6,566.4 1075.8,566.4 1077.1,566.2 1078.4,566.1 1079.6,566.3 1080.9,566.4 1082.2,566.2 1083.4,566.4 1084.7,566.4 1086.0,566.4 1087.2,566.6" stroke="#6cbd45" stroke-dasharray="2 4" marker-start="url(#m3)" marker-mid="url(#m3)" marker-end="url(#m3)"/>
<polyline points="734.4,567.2 735.7,567.1 736.9,566.9 738.2,566.8 739.5,566.6 740.7,566.4 742.0,566.2 743.3,566.0 744.6,565.8 745.8,565.5 747.1,565.2 748.4,564.9 749.6,564.6 750.9,564.2 752.2,563.8 753.4,563.3 754.7,562.8 756.0,562.2 757.2,561.5 758.5,560.7 759.8,559.9 761.1,558.9 762.3,557.8 763.6,556.6 764.9,555.3 766.1,553.9 767.4,552.4 768.7,550.6 769.9,548.7 771.2,546.4 772.5,543.7 773.7,539.1 775.0,532.7 776.3,525.8 777.6,518.1 778.8,509.5 780.1,499.2 781.4,487.0 782.6,474.8 783.9,464.7 785.2,455.6 786.4,447.2 787.7,438.9 789.0,434.3 790.2,432.6 791.5,435.5 792.8,443.5 794.1,454.6 795.3,463.8 796.6,465.8 797.9,458.3 799.1,447.4 800.4,439.6 801.7,441.4 802.9,450.6 804.2,459.5 805.5,457.5 806.7,445.8 808.0,440.3 809.3,446.8 810.6,457.6 811.8,453.6 813.1,441.9 814.4,443.0 815.6,454.1 816.9,451.7 818.2,441.1 819.4,444.7 820.7,454.7 822.0,445.5 823.2,440.9 824.5,452.2 825.8,447.8 827.1,440.3 828.3,450.7 829.6,446.8 830.9,440.7 832.1,452.4 833.4,442.5 834.7,444.7 835.9,450.9 837.2,439.5 838.5,451.0 839.7,442.5 841.0,445.9 842.3,447.5 843.6,441.6 844.8,450.3 846.1,440.0 847.4,451.2 848.6,439.2 849.9,450.8 851.2,439.5 852.4,450.6 853.7,440.1 855.0,450.6 856.2,439.6 857.5,450.2 858.8,440.9 860.1,447.2 861.3,444.9 862.6,442.0 863.9,449.5 865.1,439.1 866.4,449.2 867.7,442.7 868.9,442.0 870.2,450.4 871.5,439.0 872.7,445.5 874.0,448.5 875.3,438.0 876.6,446.1 877.8,449.2 879.1,438.0 880.4,443.0 881.6,450.8 882.9,440.8 884.2,437.6 885.4,448.7 886.7,449.3 888.0,438.0 889.2,437.6 890.5,449.1 891.8,451.7 893.1,440.8 894.3,434.2 895.6,441.0 896.9,451.6 898.1,452.9 899.4,442.7 900.7,433.1 901.9,432.4 903.2,440.7 904.5,452.1 905.7,458.4 907.0,454.6 908.3,444.0 909.6,432.6 910.8,424.5 912.1,421.4 913.4,422.7 914.6,428.9 915.9,438.6 917.2,448.8 918.4,460.6 919.7,471.8 921.0,483.4 922.2,493.9 923.5,503.2 924.8,511.0 926.1,518.4 927.3,524.2 928.6,529.7 929.9,534.3 931.1,537.6 932.4,540.8 933.7,543.7 934.9,545.7 936.2,548.0 937.5,549.8 938.7,551.5 940.0,552.9 941.3,553.6 942.6,554.1 943.8,555.4 945.1,556.0 946.4,556.1 947.6,557.4 948.9,557.9 950.2,559.1 951.4,559.2 952.7,559.8 954.0,559.8 955.2,560.2 956.5,560.3 957.8,560.8 959.1,560.8 960.3,560.9 961.6,561.6 962.9,561.9 964.1,562.2 965.4,561.9 966.7,562.5 967.9,562.6 969.2,562.7 970.5,563.0 971.7,563.0 973.0,562.9 974.3,563.5 975.6,563.1 976.8,563.6 978.1,563.7 979.4,563.9 980.6,563.5 981.9,564.1 983.2,564.3 984.4,564.2 985.7,564.7 987.0,564.5 988.2,564.2 989.5,564.2 990.8,564.5 992.1,564.7 993.3,564.4 994.6,564.4 995.9,564.7 997.1,565.2 998.4,564.5 999.7,564.8 1000.9,564.7 1002.2,565.3 1003.5,565.2 1004.7,565.1 1006.0,565.0 1007.3,564.8 1008.6,564.8 1009.8,565.4 1011.1,565.4 1012.4,564.9 1013.6,565.5 1014.9,565.6 1016.2,565.4 1017.4,566.0 1018.7,565.6 1020.0,565.7 1021.2,565.4 1022.5,565.5 1023.8,565.6 1025.1,565.3 1026.3,565.6 1027.6,565.7 1028.9,565.6 1030.1,565.4 1031.4,566.1 1032.7,566.1 1033.9,565.8 1035.2,566.2 1036.5,565.9 1037.7,565.7 1039.0,565.6 1040.3,565.7 1041.6,565.9 1042.8,565.8 1044.1,565.6 1045.4,566.0 1046.6,565.6 1047.9,566.0 1049.2,565.7 1050.4,566.0 1051.7,565.9 1053.0,566.4 1054.2,565.7 1055.5,565.8 1056.8,565.8 1058.1,565.9 1059.3,565.6 1060.6,566.2 1061.9,565.9 1063.1,565.6 1064.4,566.5 1065.7,566.7 1066.9,566.3 1068.2,566.3 1069.5,566.0 1070.7,566.1 1072.0,566.6 1073.3,566.3 1074.6,566.2 1075.8,566.1 1077.1,566.2 1078.4,566.0 1079.6,565.9 1080.9,566.1 1082.2,565.9 1083.4,566.0 1084.7,566.0 1086.0,566.0 1087.2,565.7" stroke="#1c1a1b" stroke-dasharray="8 5" marker-start="url(#m4)" marker-mid="url(#m4)" marker-end="url(#m4)"/>
<polyline points="723.0,567.1 724.2,567.0 725.5,566.8 726.8,566.6 728.1,566.5 729.3,566.3 730.6,566.0 731.9,565.8 733.1,565.6 734.4,565.3 735.7,565.0 736.9,564.6 738.2,564.2 739.5,563.8 740.7,563.4 742.0,562.8 743.3,562.2 744.6,561.5 745.8,560.7 747.1,559.9 748.4,558.9 749.6,557.8 750.9,556.6 752.2,555.3 753.4,553.9 754.7,552.4 756.0,550.6 757.2,548.6 758.5,546.2 759.8,542.8 761.1,537.5 762.3,531.5 763.6,525.0 764.9,517.7 766.1,509.5 767.4,499.5 768.7,488.3 769.9,477.9 771.2,469.2 772.5,461.2 773.7,453.7 775.0,446.3 776.3,442.6 777.6,441.1 778.8,442.8 780.1,447.9 781.4,456.6 782.6,465.8 783.9,471.4 785.2,469.2 786.4,461.1 787.7,451.8 789.0,447.6 790.2,451.2 791.5,460.0 792.8,466.3 794.1,462.2 795.3,452.9 796.6,448.8 797.9,454.8 799.1,462.8 800.4,460.1 801.7,450.8 802.9,450.0 804.2,459.1 805.5,460.5 806.7,451.5 808.0,449.9 809.3,458.7 810.6,456.9 811.8,449.0 813.1,453.6 814.4,458.4 815.6,449.9 816.9,450.8 818.2,458.3 819.4,450.2 820.7,450.4 822.0,457.0 823.2,448.1 824.5,451.9 825.8,455.0 827.1,447.1 828.3,455.2 829.6,450.0 830.9,449.9 832.1,454.1 833.4,447.2 834.7,455.7 835.9,447.0 837.2,454.5 838.5,448.7 839.7,452.1 841.0,450.8 842.3,450.7 843.6,450.9 844.8,450.1 846.1,451.6 847.4,449.9 848.6,450.2 849.9,451.5 851.2,448.3 852.4,453.4 853.7,446.3 855.0,454.6 856.2,445.9 857.5,453.6 858.8,448.9 860.1,448.9 861.3,453.8 862.6,445.1 863.9,453.4 865.1,449.5 866.4,446.4 867.7,455.0 868.9,446.6 870.2,447.5 871.5,454.6 872.7,446.5 874.0,446.8 875.3,454.8 876.6,448.5 877.8,444.5 879.1,453.6 880.4,452.6 881.6,444.2 882.9,446.4 884.2,455.3 885.4,451.5 886.7,443.2 888.0,445.2 889.2,454.9 890.5,455.4 891.8,446.4 893.1,440.2 894.3,446.0 895.6,455.2 896.9,457.7 898.1,450.0 899.4,440.4 900.7,437.8 901.9,443.6 903.2,454.0 904.5,461.3 905.7,461.6 907.0,454.6 908.3,443.4 909.6,434.2 910.8,428.7 912.1,427.9 913.4,431.4 914.6,437.3 915.9,446.0 917.2,455.9 918.4,467.3 919.7,477.7 921.0,487.6 922.2,497.2 923.5,505.2 924.8,513.4 926.1,520.0 927.3,525.0 928.6,530.5 929.9,534.7 931.1,538.0 932.4,541.1 933.7,543.9 934.9,545.7 936.2,548.1 937.5,549.7 938.7,551.0 940.0,552.2 941.3,553.4 942.6,554.4 943.8,555.3 945.1,556.0 946.4,556.8 947.6,557.0 948.9,557.9 950.2,558.2 951.4,559.1 952.7,559.3 954.0,559.7 955.2,559.8 956.5,560.5 957.8,560.3 959.1,560.9 960.3,561.5 961.6,562.0 962.9,561.7 964.1,562.2 965.4,561.7 966.7,562.6 967.9,562.6 969.2,562.8 970.5,563.1 971.7,562.9 973.0,563.4 974.3,563.2 975.6,563.4 976.8,563.7 978.1,563.8 979.4,563.8 980.6,564.4 981.9,564.1 983.2,564.1 984.4,564.0 985.7,564.2 987.0,563.8 988.2,564.4 989.5,564.2 990.8,564.6 992.1,564.1 993.3,564.8 994.6,564.5 995.9,564.6 997.1,564.4 998.4,564.9 999.7,565.3 1000.9,565.0 1002.2,565.7 1003.5,565.3 1004.7,565.1 1006.0,564.9 1007.3,565.3 1008.6,565.2 1009.8,565.5 1011.1,565.2 1012.4,565.3 1013.6,565.2 1014.9,565.7 1016.2,565.4 1017.4,565.6 1018.7,565.6 1020.0,565.9 1021.2,565.8 1022.5,566.0 1023.8,565.8 1025.1,565.9 1026.3,566.2 1027.6,565.5 1028.9,566.2 1030.1,565.7 1031.4,566.1 1032.7,566.1 1033.9,565.6 1035.2,565.8 1036.5,566.0 1037.7,565.3 1039.0,565.8 1040.3,566.2 1041.6,565.4 1042.8,566.0 1044.1,566.1 1045.4,565.4 1046.6,566.4 1047.9,565.8 1049.2,566.2 1050.4,566.2 1051.7,565.9 1053.0,566.1 1054.2,566.4 1055.5,565.9 1056.8,566.1 1058.1,565.6 1059.3,565.8 1060.6,566.2 1061.9,566.1 1063.1,566.1 1064.4,566.0 1065.7,566.6 1066.9,566.6 1068.2,566.3 1069.5,566.2 1070.7,566.7 1072.0,566.4 1073.3,566.5 1074.6,566.2 1075.8,565.9 1077.1,566.1 1078.4,566.0 1079.6,565.9 1080.9,565.8 1082.2,566.1 1083.4,566.0 1084.7,566.0 1086.0,565.9 1087.2,565.8" stroke="#2d5fb4" stroke-dasharray="2 4" marker-start="url(#m5)" marker-mid="url(#m5)" marker-end="url(#m5)"/>
<polyline points="710.3,567.2 711.6,567.0 712.8,566.9 714.1,566.7 715.4,566.5 716.6,566.3 717.9,566.1 719.2,565.9 720.4,565.6 721.7,565.4 723.0,565.1 724.2,564.7 725.5,564.3 726.8,563.9 728.1,563.4 729.3,562.9 730.6,562.3 731.9,561.6 733.1,560.8 734.4,559.9 735.7,559.0 736.9,557.9 738.2,556.7 739.5,555.5 740.7,554.1 742.0,552.5 743.3,550.7 744.6,548.6 745.8,546.1 747.1,541.8 748.4,536.6 749.6,531.0 750.9,524.9 752.2,518.1 753.4,510.2 754.7,500.8 756.0,490.8 757.2,482.1 758.5,474.4 759.8,467.4 761.1,460.8 762.3,454.4 763.6,451.2 764.9,450.0 766.1,450.0 767.4,453.7 768.7,460.4 769.9,467.8 771.2,474.1 772.5,475.4 773.7,471.3 775.0,463.2 776.3,457.0 777.6,455.4 778.8,460.4 780.1,467.8 781.4,471.0 782.6,466.1 783.9,458.2 785.2,456.7 786.4,462.1 787.7,468.1 789.0,465.3 790.2,458.6 791.5,457.1 792.8,463.6 794.1,465.8 795.3,459.8 796.6,456.4 797.9,462.3 799.1,464.6 800.4,457.8 801.7,457.0 802.9,463.4 804.2,460.5 805.5,455.2 806.7,461.0 808.0,461.3 809.3,455.6 810.6,459.4 811.8,460.9 813.1,455.0 814.4,459.8 815.6,458.9 816.9,454.4 818.2,460.2 819.4,455.8 820.7,456.1 822.0,459.0 823.2,453.5 824.5,459.2 825.8,454.7 827.1,456.2 828.3,456.2 829.6,454.1 830.9,458.0 832.1,453.3 833.4,458.8 834.7,453.2 835.9,458.6 837.2,452.9 838.5,458.5 839.7,451.9 841.0,458.2 842.3,452.4 843.6,458.3 844.8,452.0 846.1,458.0 847.4,453.1 848.6,456.2 849.9,455.0 851.2,453.4 852.4,457.6 853.7,451.5 855.0,458.0 856.2,453.1 857.5,454.1 858.8,457.5 860.1,451.0 861.3,457.0 862.6,455.5 863.9,450.8 865.1,457.8 866.4,454.0 867.7,450.7 868.9,458.5 870.2,454.3 871.5,450.1 872.7,456.9 874.0,457.0 875.3,449.6 876.6,453.1 877.8,459.3 879.1,453.7 880.4,448.4 881.6,454.7 882.9,459.6 884.2,454.0 885.4,447.2 886.7,451.4 888.0,460.0 889.2,458.5 890.5,450.6 891.8,446.1 893.1,450.9 894.3,459.5 895.6,462.1 896.9,455.4 898.1,447.2 899.4,443.4 900.7,446.6 901.9,455.3 903.2,463.5 904.5,466.8 905.7,462.6 907.0,453.1 908.3,443.9 909.6,436.9 910.8,433.5 912.1,434.6 913.4,438.7 914.6,444.9 915.9,453.6 917.2,463.0 918.4,472.9 919.7,482.9 921.0,492.0 922.2,500.8 923.5,508.3 924.8,515.6 926.1,521.6 927.3,526.9 928.6,531.2 929.9,534.8 931.1,538.6 932.4,541.1 933.7,544.3 934.9,546.1 936.2,547.9 937.5,549.2 938.7,551.3 940.0,552.5 941.3,553.1 942.6,554.2 943.8,555.8 945.1,556.4 946.4,556.8 947.6,556.9 948.9,557.7 950.2,558.8 951.4,559.3 952.7,559.9 954.0,559.7 955.2,560.5 956.5,560.0 957.8,560.9 959.1,560.6 960.3,561.6 961.6,561.4 962.9,561.9 964.1,562.2 965.4,562.3 966.7,562.3 967.9,562.6 969.2,562.9 970.5,562.8 971.7,563.4 973.0,563.1 974.3,563.3 975.6,564.0 976.8,564.1 978.1,564.1 979.4,564.1 980.6,564.0 981.9,564.4 983.2,564.3 984.4,564.5 985.7,564.9 987.0,564.4 988.2,564.4 989.5,564.8 990.8,564.3 992.1,564.7 993.3,565.1 994.6,565.2 995.9,565.7 997.1,564.9 998.4,565.4 999.7,565.2 1000.9,565.3 1002.2,565.3 1003.5,565.6 1004.7,565.5 1006.0,565.2 1007.3,565.4 1008.6,565.3 1009.8,565.2 1011.1,565.6 1012.4,565.6 1013.6,565.8 1014.9,566.0 1016.2,565.6 1017.4,565.8 1018.7,565.8 1020.0,566.3 1021.2,566.0 1022.5,566.3 1023.8,566.2 1025.1,565.8 1026.3,566.2 1027.6,566.2 1028.9,566.1 1030.1,566.0 1031.4,566.0 1032.7,566.3 1033.9,566.6 1035.2,566.0 1036.5,565.9 1037.7,566.1 1039.0,566.3 1040.3,565.7 1041.6,566.5 1042.8,566.5 1044.1,565.8 1045.4,566.8 1046.6,566.5 1047.9,566.5 1049.2,566.9 1050.4,566.6 1051.7,566.8 1053.0,566.6 1054.2,566.7 1055.5,566.2 1056.8,566.6 1058.1,566.2 1059.3,566.9 1060.6,566.7 1061.9,566.7 1063.1,566.2 1064.4,567.0 1065.7,567.1 1066.9,566.8 1068.2,566.8 1069.5,566.2 1070.7,566.4 1072.0,566.0 1073.3,566.8 1074.6,566.5 1075.8,566.5 1077.1,566.7 1078.4,566.9 1079.6,566.9 1080.9,566.6 1082.2,567.1 1083.4,566.7 1084.7,566.4 1086.0,566.8 1087.2,566.7" stroke="#ee2e27" stroke-dasharray="9 4 2 4" marker-start="url(#m0)" marker-mid="url(#m0)" marker-end="url(#m0)"/>
<polyline points="697.6,567.2 698.9,567.1 700.1,566.9 701.4,566.8 702.7,566.6 703.9,566.4 705.2,566.2 706.5,565.9 707.7,565.7 709.0,565.4 710.3,565.1 711.6,564.8 712.8,564.4 714.1,564.0 715.4,563.5 716.6,562.9 717.9,562.3 719.2,561.6 720.4,560.8 721.7,559.9 723.0,558.9 724.2,557.9 725.5,556.7 726.8,555.4 728.1,554.0 729.3,552.4 730.6,550.6 731.9,548.4 733.1,545.1 734.4,540.6 735.7,535.8 736.9,530.5 738.2,524.7 739.5,518.2 740.7,510.6 742.0,501.7 743.3,492.9 744.6,485.4 745.8,478.7 747.1,472.5 748.4,466.5 749.6,460.9 750.9,458.2 752.2,457.1 753.4,457.4 754.7,459.9 756.0,464.4 757.2,471.2 758.5,477.0 759.8,480.3 761.1,478.3 762.3,472.4 763.6,466.1 764.9,462.4 766.1,464.2 767.4,469.5 768.7,474.2 769.9,474.2 771.2,469.4 772.5,464.1 773.7,464.1 775.0,469.2 776.3,472.3 777.6,469.5 778.8,464.5 780.1,464.1 781.4,468.7 782.6,470.8 783.9,466.0 785.2,463.3 786.4,466.8 787.7,469.1 789.0,465.2 790.2,462.7 791.5,466.9 792.8,467.1 794.1,463.1 795.3,464.4 796.6,466.9 797.9,464.0 799.1,462.9 800.4,466.1 801.7,463.6 802.9,462.8 804.2,465.5 805.5,462.6 806.7,462.2 808.0,464.4 809.3,461.5 810.6,462.6 811.8,463.2 813.1,460.5 814.4,463.5 815.6,461.3 816.9,461.5 818.2,462.5 819.4,459.9 820.7,462.4 822.0,459.1 823.2,461.8 824.5,459.8 825.8,460.6 827.1,459.9 828.3,459.8 829.6,460.4 830.9,459.1 832.1,460.8 833.4,458.9 834.7,460.8 835.9,459.1 837.2,460.3 838.5,460.1 839.7,459.1 841.0,460.3 842.3,457.8 843.6,461.2 844.8,457.3 846.1,461.2 847.4,457.7 848.6,459.3 849.9,460.2 851.2,456.4 852.4,461.8 853.7,457.2 855.0,458.7 856.2,461.2 857.5,456.0 858.8,460.1 860.1,460.1 861.3,455.3 862.6,461.0 863.9,460.6 865.1,455.0 866.4,460.4 867.7,461.1 868.9,454.4 870.2,458.0 871.5,462.6 872.7,457.0 874.0,454.5 875.3,460.3 876.6,462.0 877.8,455.0 879.1,453.9 880.4,461.0 881.6,463.6 882.9,456.4 884.2,452.2 885.4,456.9 886.7,464.1 888.0,462.4 889.2,454.3 890.5,450.2 891.8,455.0 893.1,463.0 894.3,466.4 895.6,461.0 896.9,452.5 898.1,448.4 899.4,449.7 900.7,457.0 901.9,464.8 903.2,469.9 904.5,468.2 905.7,461.5 907.0,452.3 908.3,444.1 909.6,439.8 910.8,438.1 912.1,440.2 913.4,445.0 914.6,452.1 915.9,460.3 917.2,469.3 918.4,478.8 919.7,487.5 921.0,496.3 922.2,503.9 923.5,511.6 924.8,517.7 926.1,522.9 927.3,527.8 928.6,532.2 929.9,535.8 931.1,539.4 932.4,542.3 933.7,544.6 934.9,547.0 936.2,548.5 937.5,550.3 938.7,551.6 940.0,552.9 941.3,553.9 942.6,554.6 943.8,555.6 945.1,556.9 946.4,557.0 947.6,557.4 948.9,557.8 950.2,558.9 951.4,558.9 952.7,559.8 954.0,559.7 955.2,560.7 956.5,561.1 957.8,561.4 959.1,561.4 960.3,561.5 961.6,562.2 962.9,562.4 964.1,562.4 965.4,562.1 966.7,562.6 967.9,562.8 969.2,563.3 970.5,563.5 971.7,563.2 973.0,563.8 974.3,563.7 975.6,563.9 976.8,564.1 978.1,564.5 979.4,564.6 980.6,564.7 981.9,564.4 983.2,564.8 984.4,564.9 985.7,565.5 987.0,565.0 988.2,565.0 989.5,565.1 990.8,564.7 992.1,565.4 993.3,565.2 994.6,565.1 995.9,565.7 997.1,565.7 998.4,565.6 999.7,565.6 1000.9,565.2 1002.2,566.2 1003.5,566.4 1004.7,566.1 1006.0,566.0 1007.3,566.6 1008.6,565.7 1009.8,566.4 1011.1,566.2 1012.4,566.8 1013.6,566.5 1014.9,566.4 1016.2,566.2 1017.4,566.6 1018.7,566.7 1020.0,566.8 1021.2,566.9 1022.5,566.2 1023.8,566.6 1025.1,566.7 1026.3,566.7 1027.6,566.7 1028.9,566.9 1030.1,567.3 1031.4,566.4 1032.7,567.0 1033.9,566.5 1035.2,566.8 1036.5,567.0 1037.7,566.9 1039.0,566.4 1040.3,566.8 1041.6,566.8 1042.8,567.1 1044.1,567.5 1045.4,566.7 1046.6,567.5 1047.9,566.8 1049.2,567.5 1050.4,567.4 1051.7,567.2 1053.0,567.0 1054.2,567.1 1055.5,567.1 1056.8,567.2 1058.1,566.9 1059.3,567.3 1060.6,566.8 1061.9,567.1 1063.1,567.2 1064.4,567.3 1065.7,567.3 1066.9,567.2 1068.2,567.0 1069.5,567.7 1070.7,567.3 1072.0,567.3 1073.3,567.5 1074.6,567.6 1075.8,567.9 1077.1,567.6 1078.4,567.4 1079.6,567.8 1080.9,567.3 1082.2,567.2 1083.4,566.8 1084.7,567.2" stroke="#5cc5d8" stroke-dasharray="12 5" marker-start="url(#m1)" marker-mid="url(#m1)" marker-end="url(#m1)"/>
<polyline points="687.4,567.1 688.7,566.9 690.0,566.8 691.2,566.6 692.5,566.4 693.8,566.2 695.1,566.0 696.3,565.7 697.6,565.4 698.9,565.1 700.1,564.8 701.4,564.4 702.7,564.0 703.9,563.5 705.2,562.9 706.5,562.3 707.7,561.5 709.0,560.8 710.3,559.9 711.6,558.9 712.8,557.8 714.1,556.7 715.4,555.4 716.6,553.9 717.9,552.3 719.2,550.4 720.4,547.8 721.7,544.0 723.0,539.7 724.2,535.2 725.5,530.2 726.8,524.7 728.1,518.4 729.3,511.0 730.6,502.9 731.9,495.2 733.1,488.6 734.4,482.7 735.7,477.1 736.9,471.7 738.2,466.8 739.5,464.5 740.7,463.5 742.0,465.3 743.3,469.7 744.6,475.3 745.8,481.1 747.1,483.9 748.4,483.4 749.6,479.1 750.9,473.1 752.2,469.3 753.4,469.1 754.7,471.9 756.0,477.4 757.2,479.3 758.5,476.9 759.8,471.9 761.1,469.3 762.3,471.2 763.6,475.3 764.9,476.9 766.1,473.2 767.4,469.8 768.7,470.4 769.9,473.9 771.2,474.6 772.5,471.0 773.7,469.4 775.0,472.3 776.3,473.4 777.6,470.4 778.8,469.1 780.1,471.7 781.4,471.9 782.6,469.0 783.9,469.5 785.2,471.6 786.4,469.8 787.7,468.2 789.0,470.4 790.2,469.9 791.5,467.8 792.8,469.3 794.1,468.9 795.3,468.2 796.6,469.2 797.9,468.1 799.1,467.8 800.4,467.9 801.7,467.6 802.9,467.3 804.2,467.4 805.5,466.5 806.7,466.6 808.0,466.9 809.3,465.9 810.6,465.6 811.8,466.1 813.1,465.0 814.4,466.1 815.6,465.1 816.9,465.8 818.2,464.6 819.4,465.4 820.7,463.8 822.0,464.6 823.2,464.5 824.5,464.1 825.8,464.3 827.1,463.7 828.3,463.6 829.6,463.9 830.9,462.9 832.1,465.1 833.4,462.0 834.7,465.1 835.9,461.6 837.2,465.0 838.5,461.9 839.7,463.9 841.0,463.3 842.3,461.7 843.6,465.0 844.8,460.6 846.1,464.5 847.4,463.1 848.6,461.4 849.9,465.3 851.2,460.9 852.4,462.2 853.7,465.2 855.0,459.8 856.2,463.4 857.5,464.8 858.8,459.2 860.1,463.0 861.3,464.8 862.6,459.5 863.9,461.3 865.1,466.3 866.4,460.8 867.7,459.1 868.9,465.4 870.2,464.3 871.5,457.6 872.7,460.4 874.0,466.8 875.3,463.2 876.6,456.6 877.8,459.3 879.1,466.4 880.4,465.7 881.6,457.9 882.9,456.0 884.2,461.7 885.4,467.7 886.7,465.8 888.0,457.8 889.2,454.1 890.5,457.9 891.8,466.0 893.1,469.9 894.3,465.8 895.6,457.5 896.9,452.3 898.1,452.7 899.4,458.4 900.7,465.8 901.9,472.9 903.2,473.2 904.5,468.4 905.7,460.3 907.0,452.0 908.3,446.2 909.6,443.2 910.8,442.3 912.1,445.6 913.4,451.4 914.6,458.8 915.9,466.2 917.2,474.6 918.4,483.6 919.7,492.0 921.0,499.8 922.2,507.2 923.5,514.1 924.8,519.6 926.1,525.2 927.3,529.5 928.6,533.6 929.9,537.2 931.1,540.4 932.4,543.2 933.7,545.4 934.9,547.1 936.2,548.6 937.5,550.4 938.7,552.5 940.0,552.9 941.3,554.8 942.6,555.5 943.8,555.6 945.1,557.1 946.4,557.6 947.6,558.0 948.9,558.5 950.2,559.8 951.4,559.6 952.7,560.3 954.0,560.8 955.2,560.9 956.5,561.7 957.8,561.5 959.1,561.9 960.3,562.2 961.6,562.1 962.9,562.3 964.1,563.0 965.4,563.5 966.7,563.3 967.9,563.2 969.2,563.4 970.5,564.2 971.7,564.0 973.0,564.2 974.3,563.9 975.6,564.2 976.8,564.6 978.1,564.5 979.4,564.5 980.6,564.9 981.9,564.9 983.2,564.7 984.4,565.2 985.7,565.1 987.0,565.4 988.2,565.1 989.5,565.2 990.8,565.8 992.1,566.0 993.3,566.0 994.6,566.1 995.9,566.3 997.1,566.2 998.4,566.0 999.7,566.1 1000.9,566.7 1002.2,566.3 1003.5,566.9 1004.7,566.3 1006.0,566.6 1007.3,566.7 1008.6,566.7 1009.8,566.8 1011.1,567.0 1012.4,566.7 1013.6,566.6 1014.9,567.1 1016.2,566.7 1017.4,566.9 1018.7,566.9 1020.0,567.0 1021.2,567.3 1022.5,567.4 1023.8,567.3 1025.1,566.9 1026.3,567.4" stroke="#a75cab" marker-start="url(#m2)" marker-mid="url(#m2)" marker-end="url(#m2)"/>
<polyline points="674.7,567.1 676.0,567.0 677.3,566.8 678.6,566.6 679.8,566.4 681.1,566.2 682.4,566.0 683.6,565.7 684.9,565.4 686.2,565.1 687.4,564.8 688.7,564.4 690.0,563.9 691.2,563.4 692.5,562.8 693.8,562.1 695.1,561.4 696.3,560.6 697.6,559.7 698.9,558.7 700.1,557.6 701.4,556.5 702.7,555.1 703.9,553.6 705.2,551.9 706.5,549.8 707.7,546.6 709.0,542.8 710.3,538.8 711.6,534.4 712.8,529.6 714.1,524.3 715.4,518.2 716.6,511.0 717.9,503.5 719.2,496.8 720.4,491.0 721.7,485.6 723.0,480.5 724.2,475.5 725.5,471.2 726.8,469.2 728.1,468.4 729.3,470.4 730.6,473.8 731.9,479.2 733.1,484.5 734.4,488.2 735.7,488.8 736.9,485.0 738.2,479.8 739.5,474.9 740.7,473.2 742.0,475.7 743.3,480.0 744.6,484.0 745.8,483.6 747.1,478.7 748.4,474.4 749.6,473.9 750.9,478.3 752.2,481.6 753.4,480.8 754.7,476.3 756.0,473.6 757.2,476.9 758.5,479.8 759.8,478.4 761.1,474.7 762.3,474.3 763.6,478.2 764.9,478.6 766.1,474.0 767.4,473.9 768.7,477.0 769.9,477.1 771.2,473.2 772.5,474.6 773.7,476.6 775.0,474.2 776.3,472.6 777.6,475.7 778.8,474.5 780.1,472.1 781.4,474.4 782.6,474.0 783.9,471.7 785.2,473.9 786.4,473.3 787.7,471.1 789.0,474.1 790.2,472.1 791.5,471.7 792.8,473.3 794.1,470.3 795.3,472.4 796.6,471.7 797.9,470.5 799.1,472.6 800.4,469.5 801.7,471.3 802.9,469.7 804.2,470.5 805.5,471.0 806.7,468.7 808.0,471.4 809.3,468.1 810.6,470.9 811.8,468.0 813.1,470.6 814.4,467.3 815.6,470.3 816.9,467.1 818.2,469.7 819.4,466.5 820.7,469.5 822.0,466.0 823.2,469.6 824.5,465.0 825.8,469.6 827.1,464.6 828.3,468.8 829.6,465.7 830.9,467.5 832.1,467.2 833.4,465.1 834.7,468.7 835.9,463.7 837.2,468.8 838.5,465.2 839.7,466.3 841.0,468.6 842.3,463.5 843.6,468.6 844.8,465.6 846.1,464.0 847.4,469.4 848.6,464.2 849.9,465.5 851.2,469.2 852.4,463.1 853.7,465.5 855.0,469.6 856.2,463.0 857.5,464.4 858.8,469.6 860.1,464.5 861.3,462.3 862.6,469.5 863.9,467.2 865.1,461.5 866.4,465.7 867.7,470.1 868.9,464.4 870.2,461.0 871.5,466.8 872.7,470.3 874.0,464.4 875.3,459.6 876.6,464.3 877.8,470.9 879.1,467.9 880.4,460.8 881.6,459.7 882.9,466.2 884.2,472.0 885.4,469.1 886.7,461.1 888.0,457.5 889.2,461.5 890.5,468.9 891.8,473.4 893.1,470.4 894.3,462.6 895.6,456.3 896.9,455.0 898.1,459.7 899.4,467.2 900.7,474.2 901.9,477.1 903.2,474.1 904.5,467.7 905.7,459.2 907.0,452.6 908.3,447.9 909.6,446.1 910.8,447.2 912.1,451.2 913.4,456.6 914.6,463.8 915.9,471.9 917.2,480.0 918.4,488.2 919.7,496.1 921.0,503.5 922.2,510.2 923.5,516.8 924.8,521.9 926.1,526.7 927.3,531.0 928.6,535.3 929.9,538.2 931.1,540.8 932.4,544.0 933.7,546.3 934.9,548.0 936.2,550.3 937.5,551.1 938.7,552.3 940.0,553.7 941.3,555.0 942.6,555.6 943.8,556.4 945.1,557.2 946.4,558.0 947.6,558.8 948.9,559.3 950.2,559.7 951.4,560.3 952.7,560.5 954.0,561.3 955.2,561.4 956.5,561.4 957.8,561.9 959.1,562.4 960.3,562.5 961.6,562.9 962.9,562.7 964.1,563.3 965.4,563.2 966.7,563.7 967.9,564.2 969.2,564.0 970.5,564.0 971.7,564.1 973.0,564.5 974.3,564.6 975.6,564.9 976.8,565.0 978.1,565.1 979.4,565.7 980.6,565.5 981.9,565.5 983.2,565.3 984.4,565.9 985.7,566.1 987.0,565.7 988.2,566.4 989.5,566.0 990.8,566.3 992.1,566.0 993.3,566.6 994.6,566.4 995.9,566.5 997.1,566.8 998.4,566.4 999.7,566.7 1000.9,567.1 1002.2,567.0 1003.5,567.0 1004.7,566.7 1006.0,566.9 1007.3,566.7 1008.6,567.5 1009.8,567.1 1011.1,567.1 1012.4,567.4 1013.6,567.0 1014.9,567.5" stroke="#6cbd45" stroke-dasharray="2 4" marker-start="url(#m3)" marker-mid="url(#m3)" marker-end="url(#m3)"/>
<polyline points="662.1,567.1 663.3,566.9 664.6,566.8 665.9,566.6 667.1,566.4 668.4,566.2 669.7,565.9 670.9,565.7 672.2,565.4 673.5,565.1 674.7,564.7 676.0,564.3 677.3,563.8 678.6,563.3 679.8,562.7 681.1,562.0 682.4,561.3 683.6,560.4 684.9,559.5 686.2,558.5 687.4,557.4 688.7,556.2 690.0,554.8 691.2,553.3 692.5,551.4 693.8,548.8 695.1,545.5 696.3,541.8 697.6,538.0 698.9,533.8 700.1,529.2 701.4,524.0 702.7,518.0 703.9,511.2 705.2,504.4 706.5,498.5 707.7,493.2 709.0,488.3 710.3,483.7 711.6,479.1 712.8,475.4 714.1,473.6 715.4,472.8 716.6,474.2 717.9,477.6 719.2,482.8 720.4,488.4 721.7,492.7 723.0,493.9 724.2,491.0 725.5,485.6 726.8,480.1 728.1,477.5 729.3,477.9 730.6,482.2 731.9,487.5 733.1,489.2 734.4,486.3 735.7,480.6 736.9,477.9 738.2,479.5 739.5,484.4 740.7,486.9 742.0,484.3 743.3,478.8 744.6,477.6 745.8,481.6 747.1,485.5 748.4,482.7 749.6,477.8 750.9,478.8 752.2,483.0 753.4,483.2 754.7,478.3 756.0,477.0 757.2,481.8 758.5,482.5 759.8,477.5 761.1,477.3 762.3,481.8 763.6,480.2 764.9,475.6 766.1,479.0 767.4,481.3 768.7,476.2 769.9,476.6 771.2,481.3 772.5,476.1 773.7,475.8 775.0,480.3 776.3,476.0 777.6,475.3 778.8,479.2 780.1,474.7 781.4,475.7 782.6,478.4 783.9,473.3 785.2,477.4 786.4,475.8 787.7,474.3 789.0,478.1 790.2,472.8 791.5,476.6 792.8,474.8 794.1,473.2 795.3,477.1 796.6,471.5 797.9,476.7 799.1,471.9 800.4,475.7 801.7,472.8 802.9,473.8 804.2,473.6 805.5,472.1 806.7,474.5 808.0,471.1 809.3,474.5 810.6,470.2 811.8,474.3 813.1,470.3 814.4,473.6 815.6,469.8 816.9,472.7 818.2,470.4 819.4,471.7 820.7,471.0 822.0,469.7 823.2,472.3 824.5,468.0 825.8,473.4 827.1,466.9 828.3,472.4 829.6,468.7 830.9,469.2 832.1,471.8 833.4,466.5 834.7,473.3 835.9,467.6 837.2,469.1 838.5,472.1 839.7,466.2 841.0,472.3 842.3,470.0 843.6,466.1 844.8,472.8 846.1,468.0 847.4,467.0 848.6,473.3 849.9,467.3 851.2,466.7 852.4,473.0 853.7,468.0 855.0,465.3 856.2,472.4 857.5,470.4 858.8,464.3 860.1,469.5 861.3,474.0 862.6,466.4 863.9,464.7 865.1,471.6 866.4,472.0 867.7,465.0 868.9,464.9 870.2,472.4 871.5,473.1 872.7,465.2 874.0,462.7 875.3,468.9 876.6,474.5 877.8,470.5 879.1,463.3 880.4,462.4 881.6,469.6 882.9,475.2 884.2,472.4 885.4,464.8 886.7,460.4 888.0,463.4 889.2,471.1 890.5,476.7 891.8,474.9 893.1,467.5 894.3,460.6 895.6,457.5 896.9,460.8 898.1,467.2 899.4,475.0 900.7,479.8 901.9,479.7 903.2,473.9 904.5,466.6 905.7,458.7 907.0,452.8 908.3,449.7 909.6,449.4 910.8,451.7 912.1,456.6 913.4,461.8 914.6,469.3 915.9,476.6 917.2,484.4 918.4,491.9 919.7,499.5 921.0,505.9 922.2,512.8 923.5,518.3 924.8,523.6 926.1,528.2 927.3,532.3 928.6,536.3 929.9,539.2 931.1,542.3 932.4,544.5 933.7,546.6 934.9,549.1 936.2,550.3 937.5,551.6 938.7,553.4 940.0,554.0 941.3,555.1 942.6,556.4 943.8,557.0 945.1,557.6 946.4,558.2 947.6,559.4 948.9,559.3 950.2,560.3 951.4,560.6 952.7,561.1 954.0,561.7 955.2,561.4 956.5,562.0 957.8,561.7 959.1,562.9 960.3,563.1 961.6,563.3 962.9,563.1 964.1,563.8 965.4,563.8 966.7,564.0 967.9,564.1 969.2,564.4 970.5,564.9 971.7,564.4 973.0,565.4 974.3,565.0 975.6,565.1 976.8,565.3 978.1,565.5 979.4,565.1 980.6,565.8 981.9,565.8 983.2,565.5 984.4,566.3 985.7,566.1 987.0,566.2 988.2,566.4 989.5,566.1 990.8,566.8 992.1,566.8 993.3,567.1 994.6,566.6 995.9,567.3 997.1,567.1 998.4,567.0 999.7,567.3 1000.9,566.9 1002.2,567.1 1003.5,567.2 1004.7,566.8 1006.0,567.4" stroke="#1c1a1b" stroke-dasharray="8 5" marker-start="url(#m4)" marker-mid="url(#m4)" marker-end="url(#m4)"/>
<polyline points="648.1,567.2 649.4,567.1 650.6,566.9 651.9,566.8 653.2,566.6 654.4,566.4 655.7,566.2 657.0,565.9 658.2,565.6 659.5,565.3 660.8,565.0 662.1,564.6 663.3,564.2 664.6,563.7 665.9,563.1 667.1,562.5 668.4,561.8 669.7,561.1 670.9,560.2 672.2,559.3 673.5,558.3 674.7,557.1 676.0,555.9 677.3,554.4 678.6,552.8 679.8,550.6 681.1,547.7 682.4,544.4 683.6,541.0 684.9,537.2 686.2,533.1 687.4,528.7 688.7,523.6 690.0,517.7 691.2,511.3 692.5,505.2 693.8,499.9 695.1,495.2 696.3,490.7 697.6,486.4 698.9,482.1 700.1,478.9 701.4,477.3 702.7,476.6 703.9,477.5 705.2,480.5 706.5,485.3 707.7,491.1 709.0,495.9 710.3,498.4 711.6,497.3 712.8,492.4 714.1,486.1 715.4,481.5 716.6,480.7 717.9,483.5 719.2,488.8 720.4,493.9 721.7,493.4 723.0,488.5 724.2,482.8 725.5,481.0 726.8,484.2 728.1,489.9 729.3,491.9 730.6,487.2 731.9,482.1 733.1,480.8 734.4,486.7 735.7,490.4 736.9,487.0 738.2,481.1 739.5,481.7 740.7,487.1 742.0,488.6 743.3,482.7 744.6,479.7 745.8,485.0 747.1,488.1 748.4,482.4 749.6,479.7 750.9,485.4 752.2,486.4 753.4,480.1 754.7,480.5 756.0,486.1 757.2,482.4 758.5,478.3 759.8,484.0 761.1,484.0 762.3,478.3 763.6,482.7 764.9,484.0 766.1,477.8 767.4,481.6 768.7,483.6 769.9,477.2 771.2,481.9 772.5,481.7 773.7,476.5 775.0,482.8 776.3,479.5 777.6,477.5 778.8,483.0 780.1,476.2 781.4,480.9 782.6,479.2 783.9,476.3 785.2,481.8 786.4,474.5 787.7,480.8 789.0,477.0 790.2,477.9 791.5,479.1 792.8,475.5 794.1,480.9 795.3,473.7 796.6,480.5 797.9,473.6 799.1,479.7 800.4,473.5 801.7,478.9 802.9,473.4 804.2,478.4 805.5,473.6 806.7,477.9 808.0,473.1 809.3,477.5 810.6,472.1 811.8,478.0 813.1,471.3 814.4,477.8 815.6,470.6 816.9,477.3 818.2,471.4 819.4,475.2 820.7,473.4 822.0,472.0 823.2,475.9 824.5,469.6 825.8,476.8 827.1,470.2 828.3,473.1 829.6,474.5 830.9,469.0 832.1,476.8 833.4,470.7 834.7,471.8 835.9,475.9 837.2,468.3 838.5,474.0 839.7,474.3 841.0,468.0 842.3,475.5 843.6,473.1 844.8,467.7 846.1,475.6 847.4,473.3 848.6,467.4 849.9,474.0 851.2,474.5 852.4,467.3 853.7,471.4 855.0,476.7 856.2,468.9 857.5,468.0 858.8,475.8 860.1,474.1 861.3,466.5 862.6,469.7 863.9,477.2 865.1,473.3 866.4,465.7 867.7,468.7 868.9,476.6 870.2,475.2 871.5,467.1 872.7,465.6 874.0,473.0 875.3,478.0 876.6,472.7 877.8,465.3 879.1,464.8 880.4,472.4 881.6,478.2 882.9,475.9 884.2,467.8 885.4,462.5 886.7,464.5 888.0,472.1 889.2,478.9 890.5,479.1 891.8,473.1 893.1,465.8 894.3,460.8 895.6,461.2 896.9,466.7 898.1,475.0 899.4,481.4 900.7,483.4 901.9,480.1 903.2,473.6 904.5,465.7 905.7,459.2 907.0,454.0 908.3,452.1 909.6,453.1 910.8,455.7 912.1,460.3 913.4,466.7 914.6,473.1 915.9,480.0 917.2,487.8 918.4,495.5 919.7,502.2 921.0,509.2 922.2,515.5 923.5,520.3 924.8,525.3 926.1,529.8 927.3,533.9 928.6,537.1 929.9,540.7 931.1,542.8 932.4,545.2 933.7,547.3 934.9,549.1 936.2,550.6 937.5,552.5 938.7,553.5 940.0,555.2 941.3,555.5 942.6,556.2 943.8,557.4 945.1,557.9 946.4,558.7 947.6,559.5 948.9,559.4 950.2,560.7 951.4,560.5 952.7,561.3 954.0,561.6 955.2,562.3 956.5,562.3 957.8,562.3 959.1,562.9 960.3,563.3 961.6,563.9 962.9,563.6 964.1,563.7 965.4,564.3 966.7,564.6 967.9,564.6 969.2,564.7 970.5,564.9 971.7,565.2 973.0,565.3 974.3,565.6 975.6,565.4 976.8,565.1 978.1,565.6 979.4,566.1 980.6,565.9 981.9,566.1 983.2,566.0 984.4,566.4 985.7,566.0 987.0,566.5 988.2,566.5 989.5,567.1 990.8,566.7 992.1,566.5 993.3,566.5 994.6,567.0 995.9,566.6 997.1,567.1" stroke="#2d5fb4" stroke-dasharray="2 4" marker-start="url(#m5)" marker-mid="url(#m5)" marker-end="url(#m5)"/>
<polyline points="636.7,567.2 637.9,567.1 639.2,566.9 640.5,566.8 641.7,566.6 643.0,566.4 644.3,566.1 645.6,565.9 646.8,565.6 648.1,565.3 649.4,565.0 650.6,564.6 651.9,564.1 653.2,563.6 654.4,563.0 655.7,562.4 657.0,561.7 658.2,560.9 659.5,560.0 660.8,559.1 662.1,558.1 663.3,556.9 664.6,555.6 665.9,554.1 667.1,552.3 668.4,549.8 669.7,546.9 670.9,543.7 672.2,540.4 673.5,536.8 674.7,532.9 676.0,528.6 677.3,523.6 678.6,517.9 679.8,512.0 681.1,506.6 682.4,502.0 683.6,497.6 684.9,493.5 686.2,489.7 687.4,485.7 688.7,482.9 690.0,481.4 691.2,480.8 692.5,483.0 693.8,487.2 695.1,492.7 696.3,498.3 697.6,501.9 698.9,502.1 700.1,498.9 701.4,492.7 702.7,487.3 703.9,484.1 705.2,485.2 706.5,489.3 707.7,495.0 709.0,498.4 710.3,496.3 711.6,490.1 712.8,485.3 714.1,484.7 715.4,489.1 716.6,495.1 717.9,495.9 719.2,490.6 720.4,484.7 721.7,484.7 723.0,491.0 724.2,494.8 725.5,490.9 726.8,484.7 728.1,484.7 729.3,490.7 730.6,493.0 731.9,487.2 733.1,482.5 734.4,487.7 735.7,492.1 736.9,487.7 738.2,482.7 739.5,486.9 740.7,491.8 742.0,485.8 743.3,482.9 744.6,488.1 745.8,489.7 747.1,482.6 748.4,484.5 749.6,489.9 750.9,484.3 752.2,482.0 753.4,488.7 754.7,484.7 756.0,481.3 757.2,487.8 758.5,485.2 759.8,480.6 761.1,487.5 762.3,483.8 763.6,480.6 764.9,487.3 766.1,481.3 767.4,482.1 768.7,486.7 769.9,479.3 771.2,484.8 772.5,482.8 773.7,480.1 775.0,486.0 776.3,478.6 777.6,484.1 778.8,481.4 780.1,480.1 781.4,484.7 782.6,477.9 783.9,485.0 785.2,477.6 786.4,483.4 787.7,478.8 789.0,481.4 790.2,480.4 791.5,478.8 792.8,481.4 794.1,477.4 795.3,482.0 796.6,476.5 797.9,482.2 799.1,476.2 800.4,481.6 801.7,476.0 802.9,481.3 804.2,476.0 805.5,479.9 806.7,476.7 808.0,478.0 809.3,477.9 810.6,475.3 811.8,480.2 813.1,473.7 814.4,481.0 815.6,472.6 816.9,479.9 818.2,474.8 819.4,475.9 820.7,478.4 822.0,471.9 823.2,480.4 824.5,472.7 825.8,476.1 827.1,477.5 828.3,471.8 829.6,479.2 830.9,473.6 832.1,473.0 833.4,479.2 834.7,471.2 835.9,474.8 837.2,478.9 838.5,470.5 839.7,475.6 841.0,478.5 842.3,470.2 843.6,474.5 844.8,479.8 846.1,470.3 847.4,473.1 848.6,479.6 849.9,472.4 851.2,470.2 852.4,478.2 853.7,476.5 855.0,469.4 856.2,473.4 857.5,479.4 858.8,473.9 860.1,468.3 861.3,474.4 862.6,480.1 863.9,473.6 865.1,467.6 866.4,472.8 867.7,479.7 868.9,476.6 870.2,468.5 871.5,468.4 872.7,475.8 874.0,481.2 875.3,475.4 876.6,467.9 877.8,467.7 879.1,474.0 880.4,480.9 881.6,479.5 882.9,472.6 884.2,466.3 885.4,466.7 886.7,473.1 888.0,480.1 889.2,482.7 890.5,478.1 891.8,470.1 893.1,463.8 894.3,463.2 895.6,467.0 896.9,474.0 898.1,481.3 899.4,486.1 900.7,485.0 901.9,480.5 903.2,472.9 904.5,465.4 905.7,459.5 907.0,456.0 908.3,455.0 909.6,456.4 910.8,459.6 912.1,464.5 913.4,470.4 914.6,477.4 915.9,484.3 917.2,491.1 918.4,498.3 919.7,505.3 921.0,511.1 922.2,516.8 923.5,522.0 924.8,526.3 926.1,531.0 927.3,534.4 928.6,537.9 929.9,540.6 931.1,544.0 932.4,546.1 933.7,547.9 934.9,549.6 936.2,551.5 937.5,552.5 938.7,553.9 940.0,555.2 941.3,556.1 942.6,556.6 943.8,557.3 945.1,558.3 946.4,559.6 947.6,559.5 948.9,560.2 950.2,560.6 951.4,561.1 952.7,561.9 954.0,562.1 955.2,562.0 956.5,562.7 957.8,562.9 959.1,563.1 960.3,563.6 961.6,563.7 962.9,563.4 964.1,563.8 965.4,564.4 966.7,564.3 967.9,565.0 969.2,564.9 970.5,565.0 971.7,564.8 973.0,565.3 974.3,565.1 975.6,565.5 976.8,565.9 978.1,566.0 979.4,566.4 980.6,565.9 981.9,566.1 983.2,566.0 984.4,566.6 985.7,566.5 987.0,566.5 988.2,567.3 989.5,567.0 990.8,566.7 992.1,566.7 993.3,567.2 994.6,567.1 995.9,567.3 997.1,566.9 998.4,567.5" stroke="#ee2e27" stroke-dasharray="9 4 2 4" marker-start="url(#m0)" marker-mid="url(#m0)" marker-end="url(#m0)"/>
<polyline points="624.0,567.2 625.2,567.1 626.5,566.9 627.8,566.7 629.1,566.5 630.3,566.3 631.6,566.1 632.9,565.9 634.1,565.6 635.4,565.2 636.7,564.9 637.9,564.5 639.2,564.0 640.5,563.5 641.7,562.9 643.0,562.2 644.3,561.5 645.6,560.7 646.8,559.8 648.1,558.9 649.4,557.8 650.6,556.6 651.9,555.2 653.2,553.6 654.4,551.5 655.7,548.9 657.0,546.1 658.2,543.1 659.5,539.9 660.8,536.4 662.1,532.6 663.3,528.4 664.6,523.4 665.9,518.0 667.1,512.6 668.4,507.8 669.7,503.6 670.9,499.6 672.2,495.9 673.5,492.3 674.7,488.6 676.0,486.1 677.3,484.8 678.6,484.3 679.8,485.9 681.1,489.3 682.4,494.6 683.6,499.7 684.9,504.3 686.2,506.0 687.4,504.3 688.7,498.9 690.0,493.2 691.2,488.7 692.5,487.5 693.8,489.5 695.1,494.9 696.3,500.5 697.6,502.3 698.9,498.4 700.1,492.1 701.4,488.0 702.7,488.8 703.9,494.2 705.2,499.2 706.5,498.7 707.7,492.3 709.0,487.7 710.3,489.0 711.6,494.7 712.8,498.3 714.1,494.2 715.4,488.0 716.6,488.1 717.9,493.9 719.2,497.0 720.4,491.6 721.7,486.6 723.0,489.8 724.2,496.3 725.5,493.1 726.8,486.3 728.1,488.4 729.3,494.8 730.6,491.7 731.9,485.6 733.1,489.1 734.4,494.5 735.7,488.7 736.9,485.5 738.2,491.9 739.5,491.7 740.7,484.9 742.0,488.7 743.3,492.7 744.6,485.5 745.8,486.7 747.1,492.5 748.4,485.7 749.6,485.5 750.9,492.0 752.2,485.1 753.4,485.8 754.7,491.2 756.0,483.4 757.2,486.7 758.5,489.4 759.8,482.4 761.1,489.2 762.3,485.7 763.6,483.2 764.9,490.1 766.1,481.9 767.4,487.6 768.7,485.8 769.9,483.1 771.2,488.7 772.5,480.8 773.7,488.2 775.0,482.3 776.3,484.5 777.6,484.9 778.8,481.9 780.1,487.1 781.4,479.8 782.6,487.8 783.9,479.4 785.2,486.8 786.4,479.4 787.7,486.0 789.0,479.7 790.2,485.6 791.5,479.1 792.8,485.0 794.1,479.5 795.3,484.8 796.6,478.8 797.9,484.9 799.1,477.4 800.4,485.5 801.7,476.8 802.9,485.4 804.2,476.5 805.5,483.7 806.7,478.0 808.0,481.2 809.3,480.6 810.6,477.8 811.8,483.0 813.1,474.9 814.4,483.5 815.6,476.6 816.9,478.8 818.2,481.1 819.4,474.5 820.7,482.9 822.0,475.6 823.2,477.9 824.5,481.6 825.8,473.4 827.1,480.6 828.3,477.8 829.6,473.7 830.9,482.2 832.1,475.7 833.4,474.9 834.7,482.2 835.9,474.7 837.2,474.8 838.5,482.2 839.7,475.1 841.0,473.4 842.3,481.6 843.6,476.8 844.8,472.3 846.1,480.3 847.4,480.1 848.6,472.2 849.9,476.1 851.2,482.0 852.4,475.7 853.7,471.5 855.0,478.8 856.2,481.9 857.5,473.4 858.8,471.4 860.1,479.2 861.3,482.3 862.6,474.7 863.9,470.4 865.1,476.4 866.4,482.2 867.7,478.7 868.9,470.8 870.2,470.6 871.5,478.6 872.7,483.3 874.0,478.4 875.3,470.6 876.6,468.9 877.8,475.5 879.1,482.4 880.4,483.2 881.6,475.9 882.9,468.9 884.2,467.8 885.4,473.4 886.7,480.2 888.0,485.2 889.2,482.7 890.5,475.4 891.8,468.5 893.1,465.0 894.3,467.0 895.6,472.3 896.9,479.7 898.1,486.1 899.4,488.0 900.7,485.5 901.9,479.4 903.2,472.3 904.5,466.1 905.7,460.7 907.0,458.0 908.3,458.2 909.6,459.8 910.8,463.6 912.1,468.1 913.4,473.9 914.6,480.7 915.9,486.8 917.2,494.2 918.4,500.4 919.7,506.8 921.0,512.5 922.2,518.1 923.5,523.2 924.8,527.8 926.1,531.2 927.3,535.5 928.6,538.8 929.9,541.1 931.1,543.6 932.4,546.2 933.7,548.3 934.9,549.4 936.2,551.5 937.5,552.4 938.7,554.2 940.0,555.6 941.3,557.1 942.6,557.1 943.8,557.6 945.1,558.3 946.4,559.0 947.6,560.0 948.9,560.0 950.2,560.9 951.4,560.8 952.7,561.3 954.0,562.1 955.2,562.3 956.5,562.5 957.8,563.3 959.1,563.2 960.3,563.4 961.6,563.7 962.9,563.9 964.1,564.6 965.4,564.1 966.7,564.9 967.9,564.4 969.2,564.7 970.5,565.3 971.7,565.1 973.0,565.6 974.3,565.3 975.6,565.7 976.8,565.7 978.1,566.2 979.4,566.5 980.6,566.2 981.9,566.2 983.2,566.2 984.4,566.1 985.7,566.7 987.0,566.5 988.2,567.0 989.5,567.0 990.8,567.2 992.1,566.8 993.3,567.2 994.6,566.8 995.9,567.5 997.1,567.1 998.4,567.5 999.7,567.9 1000.9,567.0 1002.2,567.3" stroke="#5cc5d8" stroke-dasharray="12 5" marker-start="url(#m1)" marker-mid="url(#m1)" marker-end="url(#m1)"/>
<polyline points="611.3,567.2 612.6,567.1 613.8,566.9 615.1,566.7 616.4,566.5 617.6,566.3 618.9,566.1 620.2,565.8 621.4,565.5 622.7,565.2 624.0,564.8 625.2,564.4 626.5,563.9 627.8,563.3 629.1,562.7 630.3,562.1 631.6,561.3 632.9,560.5 634.1,559.6 635.4,558.6 636.7,557.5 637.9,556.3 639.2,554.8 640.5,553.0 641.7,550.7 643.0,548.2 644.3,545.5 645.6,542.6 646.8,539.5 648.1,536.1 649.4,532.5 650.6,528.3 651.9,523.5 653.2,518.4 654.4,513.5 655.7,509.3 657.0,505.4 658.2,501.8 659.5,498.3 660.8,495.0 662.1,491.6 663.3,489.5 664.6,488.3 665.9,487.8 667.1,489.2 668.4,491.9 669.7,496.0 670.9,501.1 672.2,505.5 673.5,508.5 674.7,508.4 676.0,504.8 677.3,499.5 678.6,494.2 679.8,491.4 681.1,491.8 682.4,495.1 683.6,500.4 684.9,504.6 686.2,504.8 687.4,499.3 688.7,494.1 690.0,491.0 691.2,493.4 692.5,498.8 693.8,503.0 695.1,501.0 696.3,495.1 697.6,491.2 698.9,492.8 700.1,498.4 701.4,500.8 702.7,496.9 703.9,491.5 705.2,491.5 706.5,497.0 707.7,500.6 709.0,495.5 710.3,490.6 711.6,492.7 712.8,498.8 714.1,497.2 715.4,490.8 716.6,490.7 717.9,497.1 719.2,496.8 720.4,490.0 721.7,490.4 723.0,497.2 724.2,494.7 725.5,488.6 726.8,492.6 728.1,496.7 729.3,490.5 730.6,488.9 731.9,495.8 733.1,493.1 734.4,487.5 735.7,493.8 736.9,494.3 738.2,487.3 739.5,492.0 740.7,493.7 742.0,487.0 743.3,491.7 744.6,493.0 745.8,486.2 747.1,492.4 748.4,491.1 749.6,486.1 750.9,493.0 752.2,488.0 753.4,487.6 754.7,492.3 756.0,485.3 757.2,491.5 758.5,488.9 759.8,486.1 761.1,491.7 762.3,484.4 763.6,490.8 764.9,487.0 766.1,486.5 767.4,489.4 768.7,483.6 769.9,491.2 771.2,483.0 772.5,490.5 773.7,484.3 775.0,487.7 776.3,485.8 777.6,485.9 778.8,487.1 780.1,483.8 781.4,487.8 782.6,482.9 783.9,488.1 785.2,482.3 786.4,487.8 787.7,482.4 789.0,487.7 790.2,482.4 791.5,486.5 792.8,482.4 794.1,485.1 795.3,483.2 796.6,483.0 797.9,484.8 799.1,481.1 800.4,486.7 801.7,479.2 802.9,487.2 804.2,479.0 805.5,485.3 806.7,481.4 808.0,481.3 809.3,485.3 810.6,478.0 811.8,486.1 813.1,479.0 814.4,481.3 815.6,484.1 816.9,477.0 818.2,484.8 819.4,478.7 820.7,478.8 822.0,484.9 823.2,476.2 824.5,481.3 825.8,482.9 827.1,475.6 828.3,483.2 829.6,481.7 830.9,475.7 832.1,482.8 833.4,480.9 834.7,475.0 835.9,482.3 837.2,481.7 838.5,474.4 839.7,480.6 841.0,483.3 842.3,475.6 843.6,477.6 844.8,484.6 846.1,478.6 847.4,473.9 848.6,481.4 849.9,483.9 851.2,475.3 852.4,474.8 853.7,483.1 855.0,483.0 856.2,474.5 857.5,474.5 858.8,482.7 860.1,483.7 861.3,475.9 862.6,472.8 863.9,479.0 865.1,484.7 866.4,481.0 867.7,473.1 868.9,473.0 870.2,480.5 871.5,485.0 872.7,481.4 874.0,474.2 875.3,471.4 876.6,476.4 877.8,483.5 879.1,485.8 880.4,480.3 881.6,472.9 882.9,469.7 884.2,473.0 885.4,480.7 886.7,486.6 888.0,486.3 889.2,480.9 890.5,473.8 891.8,468.9 893.1,468.4 894.3,471.7 895.6,478.7 896.9,485.1 898.1,489.7 899.4,490.0 900.7,485.7 901.9,479.9 903.2,472.2 904.5,466.8 905.7,462.8 907.0,460.9 908.3,460.6 909.6,463.1 910.8,466.4 912.1,471.4 913.4,477.8 914.6,483.1 915.9,489.4 917.2,496.1 918.4,502.6 919.7,508.5 921.0,514.0 922.2,519.7 923.5,524.5 924.8,528.6 926.1,531.8 927.3,535.7 928.6,539.0 929.9,541.5 931.1,543.9 932.4,546.0 933.7,548.4 934.9,549.9 936.2,551.6 937.5,553.0 938.7,554.3 940.0,555.2 941.3,556.2 942.6,556.7 943.8,558.2 945.1,558.5 946.4,559.2 947.6,559.8 948.9,560.4 950.2,560.7 951.4,561.1 952.7,561.5 954.0,561.9 955.2,562.4 956.5,562.8 957.8,563.0 959.1,563.2 960.3,563.5 961.6,563.6 962.9,564.3 964.1,564.7 965.4,564.4 966.7,564.5 967.9,565.0 969.2,565.3 970.5,564.9 971.7,565.5 973.0,565.1 974.3,565.5 975.6,566.0 976.8,565.9 978.1,565.9 979.4,566.3 980.6,566.5 981.9,566.4 983.2,566.5 984.4,566.7 985.7,566.5 987.0,566.4 988.2,566.8 989.5,566.7 990.8,567.2 992.1,567.0 993.3,567.4 994.6,567.4 995.9,567.1 997.1,567.6" stroke="#a75cab" marker-start="url(#m2)" marker-mid="url(#m2)" marker-end="url(#m2)"/>
<polyline points="598.6,567.2 599.9,567.1 601.1,566.9 602.4,566.7 603.7,566.5 604.9,566.3 606.2,566.1 607.5,565.8 608.7,565.5 610.0,565.1 611.3,564.8 612.6,564.3 613.8,563.8 615.1,563.3 616.4,562.6 617.6,561.9 618.9,561.2 620.2,560.4 621.4,559.5 622.7,558.5 624.0,557.3 625.2,556.0 626.5,554.4 627.8,552.5 629.1,550.2 630.3,547.7 631.6,545.1 632.9,542.4 634.1,539.4 635.4,536.2 636.7,532.7 637.9,528.6 639.2,524.0 640.5,519.3 641.7,515.0 643.0,511.2 644.3,507.6 645.6,504.3 646.8,501.2 648.1,498.1 649.4,495.0 650.6,493.2 651.9,492.1 653.2,491.7 654.4,492.4 655.7,494.7 657.0,498.2 658.2,502.6 659.5,507.0 660.8,510.5 662.1,511.4 663.3,509.4 664.6,504.9 665.9,499.6 667.1,495.8 668.4,494.6 669.7,496.4 670.9,500.4 672.2,505.6 673.5,507.8 674.7,505.6 676.0,500.4 677.3,495.8 678.6,494.5 679.8,498.0 681.1,503.2 682.4,506.0 683.6,502.9 684.9,497.4 686.2,494.5 687.4,496.7 688.7,502.0 690.0,504.2 691.2,500.0 692.5,495.0 693.8,494.8 695.1,500.6 696.3,502.8 697.6,498.9 698.9,493.9 700.1,495.7 701.4,501.1 702.7,500.9 703.9,495.2 705.2,493.3 706.5,499.5 707.7,500.8 709.0,494.8 710.3,492.8 711.6,498.6 712.8,499.5 714.1,493.4 715.4,493.3 716.6,499.4 717.9,496.9 719.2,491.8 720.4,495.7 721.7,498.8 723.0,492.6 724.2,492.7 725.5,498.4 726.8,493.0 728.1,491.4 729.3,497.7 730.6,493.9 731.9,490.7 733.1,497.0 734.4,493.5 735.7,490.4 736.9,497.3 738.2,492.2 739.5,490.8 740.7,496.1 742.0,489.5 743.3,492.7 744.6,494.8 745.8,488.4 747.1,494.3 748.4,491.0 749.6,489.7 750.9,494.7 752.2,488.0 753.4,493.6 754.7,490.7 756.0,489.3 757.2,493.4 758.5,487.0 759.8,493.7 761.1,487.3 762.3,491.4 763.6,489.5 764.9,488.5 766.1,491.4 767.4,486.5 768.7,492.4 769.9,485.5 771.2,492.1 772.5,485.4 773.7,491.6 775.0,485.1 776.3,491.1 777.6,485.0 778.8,490.5 780.1,484.9 781.4,490.8 782.6,484.6 783.9,490.2 785.2,483.4 786.4,490.0 787.7,483.5 789.0,490.8 790.2,482.9 791.5,489.6 792.8,483.4 794.1,488.3 795.3,484.7 796.6,485.2 797.9,486.9 799.1,482.7 800.4,489.2 801.7,481.7 802.9,488.1 804.2,483.3 805.5,484.3 806.7,487.2 808.0,480.3 809.3,487.6 810.6,482.0 811.8,483.2 813.1,486.7 814.4,479.7 815.6,486.2 816.9,483.0 818.2,479.7 819.4,487.3 820.7,480.4 822.0,481.1 823.2,486.7 824.5,479.0 825.8,481.8 827.1,485.6 828.3,478.1 829.6,481.2 830.9,485.6 832.1,478.1 833.4,480.7 834.7,486.5 835.9,479.5 837.2,478.6 838.5,485.8 839.7,482.3 841.0,476.7 842.3,482.5 843.6,485.7 844.8,478.1 846.1,477.6 847.4,485.0 848.6,484.2 849.9,476.3 851.2,478.7 852.4,486.3 853.7,483.4 855.0,476.6 856.2,477.8 857.5,485.3 858.8,485.3 860.1,477.9 861.3,475.3 862.6,481.0 863.9,486.8 865.1,483.0 866.4,476.3 867.7,475.5 868.9,481.2 870.2,487.3 871.5,484.2 872.7,477.8 874.0,473.5 875.3,476.9 876.6,484.1 877.8,487.8 879.1,484.3 880.4,477.6 881.6,472.6 882.9,474.0 884.2,479.4 885.4,486.0 886.7,488.7 888.0,485.9 889.2,479.2 890.5,473.4 891.8,470.0 893.1,471.9 894.3,477.2 895.6,483.3 896.9,489.5 898.1,491.7 899.4,490.8 900.7,486.0 901.9,479.2 903.2,473.0 904.5,467.9 905.7,464.4 907.0,463.0 908.3,463.6 909.6,465.8 910.8,469.5 912.1,474.2 913.4,480.2 914.6,485.7 915.9,492.2 917.2,497.9 918.4,503.7 919.7,510.1 921.0,515.1 922.2,519.9 923.5,524.7 924.8,529.0 926.1,532.3 927.3,536.1 928.6,538.9 929.9,541.3 931.1,543.8 932.4,546.0 933.7,548.0 934.9,550.3 936.2,551.4 937.5,553.1 938.7,554.1 940.0,554.9 941.3,555.8 942.6,556.8 943.8,557.9 945.1,558.8 946.4,559.1 947.6,559.1 948.9,560.3 950.2,560.8 951.4,561.2 952.7,561.6 954.0,562.3 955.2,562.2 956.5,562.4 957.8,562.4 959.1,562.7 960.3,563.5 961.6,564.1 962.9,564.0 964.1,563.9 965.4,564.2 966.7,564.7 967.9,564.6 969.2,564.8 970.5,565.1 971.7,565.2 973.0,564.8 974.3,565.6 975.6,565.7 976.8,565.8 978.1,565.7 979.4,566.1 980.6,566.0 981.9,566.8 983.2,566.5 984.4,566.3 985.7,567.0 987.0,566.6 988.2,566.7 989.5,566.4 990.8,566.7 992.1,566.7 993.3,567.0 994.6,567.2 995.9,566.7 997.1,567.0 998.4,567.3 999.7,566.7 1000.9,567.5 1002.2,567.1 1003.5,567.4" stroke="#6cbd45" stroke-dasharray="2 4" marker-start="url(#m3)" marker-mid="url(#m3)" marker-end="url(#m3)"/>
<polyline points="585.9,567.2 587.2,567.1 588.4,566.9 589.7,566.7 591.0,566.5 592.2,566.3 593.5,566.1 594.8,565.8 596.1,565.5 597.3,565.1 598.6,564.7 599.9,564.2 601.1,563.7 602.4,563.2 603.7,562.5 604.9,561.8 606.2,561.1 607.5,560.3 608.7,559.3 610.0,558.3 611.3,557.1 612.6,555.7 613.8,554.0 615.1,552.0 616.4,549.8 617.6,547.5 618.9,545.0 620.2,542.4 621.4,539.5 622.7,536.4 624.0,533.0 625.2,529.0 626.5,524.8 627.8,520.5 629.1,516.6 630.3,513.2 631.6,510.0 632.9,507.0 634.1,504.1 635.4,501.2 636.7,498.5 637.9,496.9 639.2,495.9 640.5,495.5 641.7,495.7 643.0,497.3 644.3,500.6 645.6,504.0 646.8,508.6 648.1,512.4 649.4,513.6 650.6,512.8 651.9,509.0 653.2,505.0 654.4,500.6 655.7,498.3 657.0,498.5 658.2,501.3 659.5,506.2 660.8,509.7 662.1,509.9 663.3,506.2 664.6,501.8 665.9,498.3 667.1,498.8 668.4,502.7 669.7,507.2 670.9,508.2 672.2,503.8 673.5,499.7 674.7,497.9 676.0,501.2 677.3,505.8 678.6,506.4 679.8,502.0 681.1,497.8 682.4,498.6 683.6,503.3 684.9,505.4 686.2,501.4 687.4,497.3 688.7,498.8 690.0,503.8 691.2,503.9 692.5,498.9 693.8,496.5 695.1,501.3 696.3,503.9 697.6,499.4 698.9,495.3 700.1,500.3 701.4,503.0 702.7,497.7 703.9,495.5 705.2,500.5 706.5,501.6 707.7,496.2 709.0,496.8 710.3,501.8 711.6,498.2 712.8,494.4 714.1,499.4 715.4,500.1 716.6,494.3 717.9,497.4 719.2,500.4 720.4,494.0 721.7,496.3 723.0,500.1 724.2,494.3 725.5,495.6 726.8,499.3 728.1,493.0 729.3,495.6 730.6,498.3 731.9,492.8 733.1,497.2 734.4,496.0 735.7,491.9 736.9,498.1 738.2,493.2 739.5,493.9 740.7,497.1 742.0,491.1 743.3,496.3 744.6,493.0 745.8,492.7 747.1,496.3 748.4,490.4 749.6,496.6 750.9,491.5 752.2,493.4 753.4,493.6 754.7,490.9 756.0,495.2 757.2,489.3 758.5,495.5 759.8,489.0 761.1,494.5 762.3,490.5 763.6,492.7 764.9,491.3 766.1,491.4 767.4,491.8 768.7,490.3 769.9,492.2 771.2,488.9 772.5,492.1 773.7,488.2 775.0,491.8 776.3,488.5 777.6,491.3 778.8,488.6 780.1,490.2 781.4,489.0 782.6,488.8 783.9,490.4 785.2,487.4 786.4,490.9 787.7,485.8 789.0,491.8 790.2,485.4 791.5,491.4 792.8,485.6 794.1,488.8 795.3,488.3 796.6,485.9 797.9,490.1 799.1,484.0 800.4,490.0 801.7,485.6 802.9,485.9 804.2,489.7 805.5,482.9 806.7,489.4 808.0,485.4 809.3,484.4 810.6,489.4 811.8,482.6 813.1,486.8 814.4,487.6 815.6,481.7 816.9,488.1 818.2,485.2 819.4,481.6 820.7,488.2 822.0,483.8 823.2,481.3 824.5,488.1 825.8,483.1 827.1,480.7 828.3,487.3 829.6,483.8 830.9,479.6 832.1,486.3 833.4,485.5 834.7,479.6 835.9,483.7 837.2,487.5 838.5,481.0 839.7,480.0 841.0,486.8 842.3,485.2 843.6,478.9 844.8,481.8 846.1,487.8 847.4,484.2 848.6,478.4 849.9,482.0 851.2,488.0 852.4,484.4 853.7,478.4 855.0,480.2 856.2,487.3 857.5,487.2 858.8,480.4 860.1,477.5 861.3,483.1 862.6,488.3 863.9,484.9 865.1,478.8 866.4,476.8 867.7,482.0 868.9,488.7 870.2,487.0 871.5,480.4 872.7,475.9 874.0,478.1 875.3,484.0 876.6,489.0 877.8,487.5 879.1,481.0 880.4,476.7 881.6,475.0 882.9,478.9 884.2,485.6 885.4,490.3 886.7,489.3 888.0,484.7 889.2,478.2 890.5,473.9 891.8,473.0 893.1,475.4 894.3,481.6 895.6,487.8 896.9,492.4 898.1,493.7 899.4,491.1 900.7,485.6 901.9,479.5 903.2,473.9 904.5,469.2 905.7,466.7 907.0,466.1 908.3,466.2 909.6,468.6 910.8,472.7 912.1,477.3 913.4,482.7 914.6,488.4 915.9,493.5 917.2,499.3 918.4,505.4 919.7,510.7 921.0,516.1 922.2,520.9 923.5,525.0 924.8,528.9 926.1,533.2 927.3,535.7 928.6,538.9 929.9,541.9 931.1,543.6 932.4,546.2 933.7,548.0 934.9,549.6 936.2,551.1 937.5,552.0 938.7,553.6 940.0,554.7 941.3,555.8 942.6,556.3 943.8,557.3 945.1,558.0 946.4,558.8 947.6,559.4 948.9,559.8 950.2,560.9 951.4,560.3 952.7,561.1 954.0,561.8 955.2,561.7 956.5,562.3 957.8,562.7 959.1,563.4 960.3,563.2 961.6,563.4 962.9,563.6 964.1,563.8 965.4,564.1 966.7,564.2 967.9,564.5 969.2,564.9 970.5,564.7 971.7,565.0 973.0,565.0 974.3,565.3 975.6,564.9 976.8,565.3 978.1,565.8 979.4,565.6 980.6,565.8 981.9,566.3 983.2,565.9 984.4,565.9 985.7,566.3 987.0,566.1 988.2,566.4 989.5,566.1 990.8,566.1 992.1,566.1 993.3,566.8 994.6,566.9 995.9,567.0 997.1,567.1 998.4,567.1 999.7,567.1 1000.9,567.2 1002.2,567.5 1003.5,567.4 1004.7,567.7 1006.0,567.1 1007.3,567.2" stroke="#1c1a1b" stroke-dasharray="8 5" marker-start="url(#m4)" marker-mid="url(#m4)" marker-end="url(#m4)"/>
<polyline points="575.7,567.1 577.0,567.0 578.3,566.8 579.6,566.6 580.8,566.4 582.1,566.1 583.4,565.9 584.6,565.6 585.9,565.2 587.2,564.8 588.4,564.4 589.7,563.9 591.0,563.3 592.2,562.7 593.5,562.0 594.8,561.3 596.1,560.5 597.3,559.6 598.6,558.5 599.9,557.4 601.1,556.0 602.4,554.3 603.7,552.3 604.9,550.2 606.2,548.0 607.5,545.6 608.7,543.1 610.0,540.4 611.3,537.4 612.6,534.1 613.8,530.3 615.1,526.2 616.4,522.2 617.6,518.6 618.9,515.4 620.2,512.3 621.4,509.5 622.7,506.8 624.0,504.1 625.2,501.5 626.5,500.0 627.8,499.0 629.1,498.7 630.3,500.3 631.6,502.9 632.9,506.1 634.1,510.4 635.4,513.7 636.7,515.6 637.9,515.9 639.2,513.4 640.5,509.2 641.7,505.4 643.0,502.3 644.3,501.6 645.6,503.0 646.8,506.8 648.1,510.5 649.4,512.8 650.6,511.2 651.9,507.0 653.2,502.9 654.4,501.2 655.7,503.0 657.0,507.2 658.2,510.8 659.5,509.6 660.8,505.6 662.1,501.3 663.3,501.3 664.6,504.8 665.9,509.0 667.1,508.2 668.4,504.0 669.7,500.4 670.9,502.3 672.2,506.8 673.5,507.9 674.7,504.0 676.0,500.0 677.3,501.2 678.6,506.7 679.8,506.4 681.1,501.3 682.4,499.6 683.6,503.6 684.9,506.3 686.2,502.8 687.4,499.2 688.7,502.1 690.0,506.1 691.2,502.3 692.5,498.1 693.8,501.8 695.1,504.9 696.3,500.4 697.6,498.4 698.9,502.9 700.1,503.0 701.4,497.8 702.7,500.1 703.9,503.5 705.2,499.0 706.5,497.5 707.7,503.2 709.0,500.0 710.3,496.8 711.6,501.7 712.8,500.4 714.1,496.2 715.4,500.6 716.6,500.2 717.9,496.0 719.2,500.4 720.4,499.2 721.7,495.5 723.0,501.1 724.2,497.2 725.5,496.1 726.8,500.9 728.1,495.5 729.3,498.1 730.6,499.0 731.9,494.3 733.1,499.3 734.4,495.4 735.7,495.7 736.9,498.8 738.2,493.6 739.5,498.8 740.7,494.3 742.0,495.4 743.3,497.5 744.6,493.3 745.8,498.1 747.1,492.3 748.4,497.4 749.6,493.1 750.9,495.7 752.2,495.2 753.4,493.1 754.7,496.0 756.0,492.0 757.2,496.5 758.5,490.9 759.8,496.5 761.1,490.7 762.3,496.1 763.6,490.4 764.9,495.9 766.1,490.4 767.4,495.7 768.7,489.9 769.9,495.3 771.2,489.3 772.5,495.1 773.7,489.1 775.0,495.0 776.3,489.0 777.6,494.4 778.8,488.9 780.1,493.1 781.4,490.3 782.6,491.3 783.9,491.4 785.2,489.2 786.4,493.4 787.7,487.2 789.0,493.4 790.2,487.4 791.5,491.3 792.8,489.9 794.1,488.1 795.3,492.0 796.6,486.0 797.9,491.8 799.1,488.1 800.4,487.1 801.7,491.8 802.9,485.1 804.2,490.6 805.5,488.7 806.7,485.5 808.0,491.3 809.3,485.5 810.6,486.8 811.8,490.9 813.1,483.8 814.4,487.7 815.6,489.8 816.9,482.9 818.2,488.1 819.4,488.8 820.7,482.9 822.0,487.4 823.2,488.9 824.5,481.8 825.8,486.4 827.1,489.2 828.3,482.7 829.6,483.9 830.9,489.3 832.1,484.8 833.4,481.6 834.7,488.0 835.9,487.8 837.2,481.5 838.5,483.8 839.7,489.2 841.0,485.6 842.3,480.8 843.6,485.0 844.8,489.6 846.1,484.4 847.4,480.4 848.6,484.8 849.9,489.7 851.2,485.6 852.4,480.2 853.7,482.4 855.0,488.6 856.2,487.8 857.5,481.7 858.8,479.6 860.1,484.8 861.3,489.8 862.6,487.6 863.9,481.3 865.1,478.8 866.4,483.3 867.7,488.6 868.9,489.4 870.2,483.8 871.5,478.4 872.7,478.8 874.0,484.1 875.3,489.8 876.6,490.6 877.8,485.5 879.1,479.9 880.4,477.1 881.6,479.0 882.9,484.5 884.2,490.4 885.4,492.1 886.7,488.9 888.0,483.0 889.2,477.7 890.5,474.6 891.8,476.0 893.1,479.8 894.3,485.4 895.6,491.5 896.9,494.4 898.1,494.9 899.4,491.2 900.7,486.0 901.9,480.3 903.2,475.0 904.5,470.8 905.7,468.8 907.0,467.7 908.3,468.8 909.6,471.5 910.8,475.0 912.1,479.8 913.4,484.4 914.6,489.5 915.9,495.8 917.2,500.9 918.4,506.4 919.7,512.2 921.0,516.0 922.2,521.1 923.5,525.6 924.8,529.7 926.1,532.9 927.3,536.5 928.6,538.9 929.9,541.5 931.1,543.7 932.4,545.7 933.7,547.4 934.9,549.4 936.2,550.5 937.5,552.1 938.7,553.6 940.0,554.4 941.3,555.6 942.6,556.2 943.8,556.6 945.1,557.5 946.4,558.6 947.6,558.5 948.9,559.3 950.2,560.1 951.4,560.3 952.7,560.9 954.0,561.2 955.2,561.6 956.5,562.1 957.8,561.8 959.1,562.5 960.3,562.7 961.6,562.7 962.9,562.9 964.1,563.4 965.4,563.4 966.7,564.1 967.9,564.0 969.2,564.1 970.5,564.2 971.7,564.4 973.0,564.4 974.3,565.3 975.6,564.7 976.8,565.2 978.1,565.4 979.4,565.2 980.6,565.4 981.9,565.2 983.2,565.7 984.4,566.3 985.7,566.1 987.0,565.8 988.2,566.4 989.5,566.2 990.8,566.0 992.1,566.5 993.3,565.9 994.6,566.4 995.9,565.9 997.1,566.5 998.4,566.5 999.7,567.1 1000.9,566.4 1002.2,566.3 1003.5,566.6 1004.7,566.2 1006.0,566.6 1007.3,567.0 1008.6,566.7 1009.8,566.7 1011.1,566.4 1012.4,567.1 1013.6,567.0 1014.9,566.6 1016.2,567.1 1017.4,567.4 1018.7,567.9 1020.0,567.3 1021.2,567.3 1022.5,567.2 1023.8,567.2 1025.1,567.7 1026.3,567.4 1027.6,567.5 1028.9,567.7 1030.1,567.3 1031.4,567.2 1032.7,567.3 1033.9,567.4 1035.2,567.4 1036.5,567.7 1037.7,567.1 1039.0,567.6" stroke="#2d5fb4" stroke-dasharray="2 4" marker-start="url(#m5)" marker-mid="url(#m5)" marker-end="url(#m5)"/>
<polyline points="563.1,567.2 564.3,567.1 565.6,566.9 566.9,566.7 568.1,566.5 569.4,566.3 570.7,566.0 571.9,565.7 573.2,565.4 574.5,565.0 575.7,564.6 577.0,564.1 578.3,563.6 579.6,563.0 580.8,562.3 582.1,561.6 583.4,560.8 584.6,560.0 585.9,559.0 587.2,557.9 588.4,556.5 589.7,554.9 591.0,553.1 592.2,551.0 593.5,548.9 594.8,546.6 596.1,544.2 597.3,541.6 598.6,538.8 599.9,535.6 601.1,531.9 602.4,528.0 603.7,524.2 604.9,520.7 606.2,517.6 607.5,514.8 608.7,512.0 610.0,509.4 611.3,506.8 612.6,504.3 613.8,502.9 615.1,502.0 616.4,501.7 617.6,502.9 618.9,505.0 620.2,508.2 621.4,512.0 622.7,515.4 624.0,518.0 625.2,518.8 626.5,517.0 627.8,513.1 629.1,509.0 630.3,505.8 631.6,504.0 632.9,504.7 634.1,507.2 635.4,511.3 636.7,514.7 637.9,515.1 639.2,512.1 640.5,507.9 641.7,504.5 643.0,504.4 644.3,507.4 645.6,511.2 646.8,513.4 648.1,511.1 649.4,506.6 650.6,503.9 651.9,505.0 653.2,508.7 654.4,511.6 655.7,510.3 657.0,505.6 658.2,503.0 659.5,505.3 660.8,509.9 662.1,510.1 663.3,506.1 664.6,502.7 665.9,504.2 667.1,509.1 668.4,509.1 669.7,504.1 670.9,502.4 672.2,505.9 673.5,509.1 674.7,505.6 676.0,501.3 677.3,504.0 678.6,508.1 679.8,505.7 681.1,501.7 682.4,503.1 683.6,507.6 684.9,504.4 686.2,500.7 687.4,504.2 688.7,506.7 690.0,501.9 691.2,500.9 692.5,505.5 693.8,504.1 695.1,499.9 696.3,503.7 697.6,505.4 698.9,499.8 700.1,501.1 701.4,505.4 702.7,500.3 703.9,500.3 705.2,504.8 706.5,500.0 707.7,500.0 709.0,504.3 710.3,499.7 711.6,499.6 712.8,503.8 714.1,498.2 715.4,500.3 716.6,502.9 717.9,497.2 719.2,501.6 720.4,500.7 721.7,497.4 723.0,502.3 724.2,497.8 725.5,499.7 726.8,501.1 728.1,496.2 729.3,501.7 730.6,496.8 731.9,498.2 733.1,499.5 734.4,495.8 735.7,500.8 736.9,495.2 738.2,499.3 739.5,497.0 740.7,496.9 742.0,498.5 743.3,494.8 744.6,499.6 745.8,494.0 747.1,499.0 748.4,494.0 749.6,498.4 750.9,494.9 752.2,497.3 753.4,495.4 754.7,496.0 756.0,495.4 757.2,495.3 758.5,495.8 759.8,494.4 761.1,495.7 762.3,494.4 763.6,495.2 764.9,494.3 766.1,494.2 767.4,494.5 768.7,493.2 769.9,495.4 771.2,492.5 772.5,495.9 773.7,491.1 775.0,496.6 776.3,490.8 777.6,496.0 778.8,490.6 780.1,494.5 781.4,492.5 782.6,492.0 783.9,494.3 785.2,489.5 786.4,495.1 787.7,489.1 789.0,493.6 790.2,491.8 791.5,490.2 792.8,494.6 794.1,487.9 795.3,492.9 796.6,490.7 797.9,488.6 799.1,493.6 800.4,487.6 801.7,490.9 802.9,491.8 804.2,486.8 805.5,492.1 806.7,489.9 808.0,486.9 809.3,493.1 810.6,487.7 811.8,487.5 813.1,492.6 814.4,487.0 815.6,486.9 816.9,491.7 818.2,486.5 819.4,486.3 820.7,491.3 822.0,487.2 823.2,484.9 824.5,490.7 825.8,488.7 827.1,483.8 828.3,488.9 829.6,490.3 830.9,484.6 832.1,485.1 833.4,490.8 834.7,487.4 835.9,483.5 837.2,487.5 838.5,491.2 839.7,486.0 841.0,482.9 842.3,488.1 843.6,490.6 844.8,485.1 846.1,482.4 847.4,486.6 848.6,491.0 849.9,487.0 851.2,482.6 852.4,484.3 853.7,490.2 855.0,489.9 856.2,484.6 857.5,481.4 858.8,485.7 860.1,491.1 861.3,489.6 862.6,483.9 863.9,481.1 865.1,484.0 866.4,490.1 867.7,491.2 868.9,487.5 870.2,481.3 871.5,480.2 872.7,484.1 874.0,489.5 875.3,492.7 876.6,488.8 877.8,483.7 879.1,479.4 880.4,479.5 881.6,483.6 882.9,489.4 884.2,493.1 885.4,492.7 886.7,488.1 888.0,482.7 889.2,478.4 890.5,476.7 891.8,479.6 893.1,483.0 894.3,489.4 895.6,493.9 896.9,496.1 898.1,494.8 899.4,491.5 900.7,486.2 901.9,481.1 903.2,475.9 904.5,472.4 905.7,470.9 907.0,470.5 908.3,472.0 909.6,474.2 910.8,477.5 912.1,481.9 913.4,486.4 914.6,491.7 915.9,496.7 917.2,502.1 918.4,507.7 919.7,512.1 921.0,517.3 922.2,521.6 923.5,525.8 924.8,529.8 926.1,533.1 927.3,535.7 928.6,538.7 929.9,541.1 931.1,543.6 932.4,545.9 933.7,547.4 934.9,548.6 936.2,550.6 937.5,551.9 938.7,552.7 940.0,554.8 941.3,554.8 942.6,555.7 943.8,556.5 945.1,557.6 946.4,557.9 947.6,558.6 948.9,558.6 950.2,559.6 951.4,560.3 952.7,560.2 954.0,560.8 955.2,560.9 956.5,561.3 957.8,562.0 959.1,561.9 960.3,562.4 961.6,562.5 962.9,563.0 964.1,562.8 965.4,563.5 966.7,564.0 967.9,563.7 969.2,564.1 970.5,563.7 971.7,563.9 973.0,564.2 974.3,564.7 975.6,563.9 976.8,564.4 978.1,564.4 979.4,564.5 980.6,564.4 981.9,565.2 983.2,565.0 984.4,564.9 985.7,565.6 987.0,565.4 988.2,565.3 989.5,565.6 990.8,565.9 992.1,565.0 993.3,565.9 994.6,566.0 995.9,565.7 997.1,566.0 998.4,566.1 999.7,566.2 1000.9,565.9 1002.2,566.1 1003.5,566.0 1004.7,566.1 1006.0,566.1 1007.3,566.2 1008.6,566.4 1009.8,566.4 1011.1,566.9 1012.4,566.7 1013.6,566.8 1014.9,566.7 1016.2,566.7 1017.4,567.0 1018.7,567.0 1020.0,566.8 1021.2,566.7 1022.5,566.5 1023.8,566.8 1025.1,567.1 1026.3,566.9 1027.6,566.4 1028.9,567.0 1030.1,566.8 1031.4,567.3 1032.7,567.5 1033.9,567.4 1035.2,567.1 1036.5,567.0 1037.7,566.7 1039.0,566.5 1040.3,566.9 1041.6,566.9 1042.8,567.0 1044.1,567.0 1045.4,567.5 1046.6,566.9 1047.9,567.7 1049.2,567.4 1050.4,567.6 1051.7,567.1 1053.0,567.2 1054.2,567.2 1055.5,567.6 1056.8,567.2 1058.1,567.1 1059.3,567.2 1060.6,567.4 1061.9,567.3 1063.1,567.3 1064.4,567.5 1065.7,567.6 1066.9,567.1 1068.2,567.5 1069.5,567.8 1070.7,567.6 1072.0,567.3 1073.3,567.6 1074.6,567.2 1075.8,567.0 1077.1,567.3 1078.4,567.5 1079.6,567.0 1080.9,567.3 1082.2,567.3 1083.4,566.8 1084.7,567.8" stroke="#ee2e27" stroke-dasharray="9 4 2 4" marker-start="url(#m0)" marker-mid="url(#m0)" marker-end="url(#m0)"/>
<polyline points="551.6,567.2 552.9,567.0 554.2,566.8 555.4,566.6 556.7,566.4 558.0,566.1 559.2,565.9 560.5,565.5 561.8,565.2 563.1,564.8 564.3,564.3 565.6,563.8 566.9,563.2 568.1,562.6 569.4,561.9 570.7,561.2 571.9,560.4 573.2,559.4 574.5,558.4 575.7,557.1 577.0,555.5 578.3,553.7 579.6,551.8 580.8,549.7 582.1,547.6 583.4,545.3 584.6,542.8 585.9,540.0 587.2,537.0 588.4,533.5 589.7,529.8 591.0,526.1 592.2,522.7 593.5,519.8 594.8,517.0 596.1,514.4 597.3,511.9 598.6,509.4 599.9,507.0 601.1,505.7 602.4,504.8 603.7,504.5 604.9,505.3 606.2,507.1 607.5,510.3 608.7,513.4 610.0,517.0 611.3,519.8 612.6,520.9 613.8,520.3 615.1,517.1 616.4,513.4 617.6,509.8 618.9,507.3 620.2,506.7 621.4,508.9 622.7,512.2 624.0,515.9 625.2,517.6 626.5,516.7 627.8,512.7 629.1,508.7 630.3,506.4 631.6,507.7 632.9,511.0 634.1,515.0 635.4,515.9 636.7,512.7 637.9,508.1 639.2,506.1 640.5,508.3 641.7,512.2 643.0,514.5 644.3,512.1 645.6,507.3 646.8,506.0 648.1,508.3 649.4,512.5 650.6,512.6 651.9,508.2 653.2,504.9 654.4,507.0 655.7,511.6 657.0,511.5 658.2,506.7 659.5,504.8 660.8,508.0 662.1,511.2 663.3,508.9 664.6,504.4 665.9,505.8 667.1,510.3 668.4,509.0 669.7,504.3 670.9,505.1 672.2,509.7 673.5,508.5 674.7,503.4 676.0,505.4 677.3,509.6 678.6,506.3 679.8,503.0 681.1,506.5 682.4,508.2 683.6,503.6 684.9,503.8 686.2,508.4 687.4,505.2 688.7,502.1 690.0,506.7 691.2,506.1 692.5,501.7 693.8,505.9 695.1,506.2 696.3,501.2 697.6,504.3 698.9,506.3 700.1,501.2 701.4,504.3 702.7,505.0 703.9,500.2 705.2,504.5 706.5,503.8 707.7,500.0 709.0,505.0 710.3,501.6 711.6,501.2 712.8,504.6 714.1,499.6 715.4,502.7 716.6,502.8 717.9,499.2 719.2,503.9 720.4,499.4 721.7,501.3 723.0,502.6 724.2,498.3 725.5,503.8 726.8,498.0 728.1,501.7 729.3,499.8 730.6,498.6 731.9,502.0 733.1,497.3 734.4,502.4 735.7,497.2 736.9,501.3 738.2,498.2 739.5,499.2 740.7,499.1 742.0,497.9 743.3,500.2 744.6,496.5 745.8,500.3 747.1,495.6 748.4,500.7 749.6,495.2 750.9,500.6 752.2,494.7 753.4,499.9 754.7,494.6 756.0,499.7 757.2,494.0 758.5,499.5 759.8,493.8 761.1,499.3 762.3,494.0 763.6,498.5 764.9,494.1 766.1,497.6 767.4,494.6 768.7,495.9 769.9,495.7 771.2,493.9 772.5,496.9 773.7,492.7 775.0,497.9 776.3,492.2 777.6,497.1 778.8,492.9 780.1,494.0 781.4,495.5 782.6,491.8 783.9,496.9 785.2,491.0 786.4,494.8 787.7,493.5 789.0,491.1 790.2,495.9 791.5,490.4 792.8,494.2 794.1,494.0 795.3,489.6 796.6,495.0 797.9,490.7 799.1,491.4 800.4,494.6 801.7,489.3 802.9,492.8 804.2,493.2 805.5,488.4 806.7,493.4 808.0,492.0 809.3,488.0 810.6,493.6 811.8,491.4 813.1,487.3 814.4,492.4 815.6,491.7 816.9,486.7 818.2,491.1 819.4,491.7 820.7,486.1 822.0,489.4 823.2,492.7 824.5,487.2 825.8,486.5 827.1,492.5 828.3,489.9 829.6,485.5 830.9,489.5 832.1,492.8 833.4,487.1 834.7,484.8 835.9,490.4 837.2,491.9 838.5,486.0 839.7,485.1 841.0,490.8 842.3,492.4 843.6,486.2 844.8,484.4 846.1,489.3 847.4,492.7 848.6,488.3 849.9,484.1 851.2,486.1 852.4,492.0 853.7,492.1 855.0,486.4 856.2,483.3 857.5,486.5 858.8,491.8 860.1,491.7 861.3,486.5 862.6,482.5 863.9,484.6 865.1,490.1 866.4,492.8 867.7,490.1 868.9,484.8 870.2,482.4 871.5,484.5 872.7,489.7 874.0,493.5 875.3,492.2 876.6,487.4 877.8,482.5 879.1,481.0 880.4,483.2 881.6,488.6 882.9,493.7 884.2,494.4 885.4,492.2 886.7,487.2 888.0,482.1 889.2,479.3 890.5,479.3 891.8,483.0 893.1,487.1 894.3,492.2 895.6,495.8 896.9,497.3 898.1,495.3 899.4,491.6 900.7,486.5 901.9,481.8 903.2,477.2 904.5,474.2 905.7,473.0 907.0,473.1 908.3,473.3 909.6,476.2 910.8,479.8 912.1,484.0 913.4,488.8 914.6,494.0 915.9,498.7 917.2,504.1 918.4,508.8 919.7,513.5 921.0,518.0 922.2,522.1 923.5,525.7 924.8,529.9 926.1,533.1 927.3,536.3 928.6,538.6 929.9,541.0 931.1,543.2 932.4,545.2 933.7,547.2 934.9,548.7 936.2,549.7 937.5,551.2 938.7,552.5 940.0,553.8 941.3,554.5 942.6,555.7 943.8,556.1 945.1,557.1 946.4,557.6 947.6,558.4 948.9,558.4 950.2,559.4 951.4,559.6 952.7,559.8 954.0,560.2 955.2,560.7 956.5,561.2 957.8,561.4 959.1,561.7 960.3,562.5 961.6,562.4 962.9,562.6 964.1,563.0 965.4,562.5 966.7,563.1 967.9,563.0 969.2,563.2 970.5,563.8 971.7,564.0 973.0,563.5 974.3,563.7 975.6,564.5 976.8,564.2 978.1,564.3 979.4,564.2 980.6,564.6 981.9,564.3 983.2,564.8 984.4,564.8 985.7,564.8 987.0,565.0 988.2,565.2 989.5,565.2 990.8,565.0 992.1,565.6 993.3,566.0 994.6,565.4 995.9,565.5 997.1,565.8 998.4,565.4 999.7,566.1 1000.9,565.7 1002.2,565.8 1003.5,565.3 1004.7,566.2 1006.0,566.2 1007.3,566.1 1008.6,565.7 1009.8,566.1 1011.1,566.3 1012.4,566.6 1013.6,566.4 1014.9,566.3 1016.2,566.2 1017.4,566.2 1018.7,566.2 1020.0,566.1 1021.2,566.5 1022.5,566.4 1023.8,566.8 1025.1,566.8 1026.3,566.8 1027.6,566.6 1028.9,566.6 1030.1,566.1 1031.4,566.3 1032.7,567.0 1033.9,566.9 1035.2,565.8 1036.5,566.2 1037.7,566.8 1039.0,566.5 1040.3,567.2 1041.6,566.5 1042.8,566.4 1044.1,566.9 1045.4,566.8 1046.6,567.0 1047.9,566.6 1049.2,567.2 1050.4,566.9 1051.7,566.9 1053.0,567.0 1054.2,566.8 1055.5,567.0 1056.8,566.6 1058.1,566.9 1059.3,566.7 1060.6,567.0 1061.9,566.7 1063.1,566.8 1064.4,566.8 1065.7,566.9 1066.9,567.1 1068.2,566.8 1069.5,566.7 1070.7,566.9 1072.0,567.0 1073.3,566.6 1074.6,566.7 1075.8,567.3 1077.1,566.9 1078.4,566.8 1079.6,567.0 1080.9,567.3 1082.2,567.0 1083.4,567.4 1084.7,566.7 1086.0,567.4" stroke="#5cc5d8" stroke-dasharray="12 5" marker-start="url(#m1)" marker-mid="url(#m1)" marker-end="url(#m1)"/>
<polyline points="540.2,567.1 541.5,566.9 542.7,566.7 544.0,566.5 545.3,566.3 546.6,566.0 547.8,565.7 549.1,565.4 550.4,565.0 551.6,564.5 552.9,564.1 554.2,563.5 555.4,562.9 556.7,562.3 558.0,561.6 559.2,560.8 560.5,559.9 561.8,558.9 563.1,557.6 564.3,556.2 565.6,554.5 566.9,552.6 568.1,550.7 569.4,548.6 570.7,546.4 571.9,544.0 573.2,541.4 574.5,538.5 575.7,535.2 577.0,531.7 578.3,528.1 579.6,525.0 580.8,522.2 582.1,519.5 583.4,517.0 584.6,514.7 585.9,512.3 587.2,510.0 588.4,508.7 589.7,507.9 591.0,507.6 592.2,508.1 593.5,509.5 594.8,511.8 596.1,514.7 597.3,518.1 598.6,521.1 599.9,523.2 601.1,523.0 602.4,521.2 603.7,517.6 604.9,513.9 606.2,510.4 607.5,509.4 608.7,509.8 610.0,512.5 611.3,516.6 612.6,519.4 613.8,519.9 615.1,517.8 616.4,513.7 617.6,510.2 618.9,509.3 620.2,511.1 621.4,515.1 622.7,517.9 624.0,517.5 625.2,513.7 626.5,509.8 627.8,509.1 629.1,511.1 630.3,515.4 631.6,516.7 632.9,513.6 634.1,509.3 635.4,508.4 636.7,511.3 637.9,515.1 639.2,514.6 640.5,510.5 641.7,507.8 643.0,509.9 644.3,513.6 645.6,513.8 646.8,509.6 648.1,507.2 649.4,509.7 650.6,513.3 651.9,511.8 653.2,507.6 654.4,507.7 655.7,512.3 657.0,512.3 658.2,507.4 659.5,506.9 660.8,510.8 662.1,511.8 663.3,507.4 664.6,506.5 665.9,511.0 667.1,510.2 668.4,505.9 669.7,507.1 670.9,510.8 672.2,507.8 673.5,504.8 674.7,508.8 676.0,509.8 677.3,505.0 678.6,506.5 679.8,509.9 681.1,505.9 682.4,504.5 683.6,509.6 684.9,506.1 686.2,504.0 687.4,508.7 688.7,506.5 690.0,503.6 691.2,508.0 692.5,506.0 693.8,503.2 695.1,507.9 696.3,504.7 697.6,503.3 698.9,507.7 700.1,503.0 701.4,504.3 702.7,507.1 703.9,501.6 705.2,505.8 706.5,504.4 707.7,502.0 709.0,506.5 710.3,501.5 711.6,503.7 712.8,504.5 714.1,501.3 715.4,505.9 716.6,500.5 717.9,503.7 719.2,503.4 720.4,500.6 721.7,504.9 723.0,499.8 724.2,504.6 725.5,500.7 726.8,502.2 728.1,502.2 729.3,500.0 730.6,503.5 731.9,498.6 733.1,503.8 734.4,498.3 735.7,503.0 736.9,498.2 738.2,502.1 739.5,498.7 740.7,501.3 742.0,499.2 743.3,500.5 744.6,499.5 745.8,499.9 747.1,499.6 748.4,499.5 749.6,499.3 750.9,499.3 752.2,498.8 753.4,499.1 754.7,497.5 756.0,499.8 757.2,497.1 758.5,499.8 759.8,495.9 761.1,500.3 762.3,495.0 763.6,500.2 764.9,494.9 766.1,499.1 767.4,495.9 768.7,497.6 769.9,497.4 771.2,494.7 772.5,498.9 773.7,493.6 775.0,498.8 776.3,494.2 777.6,496.5 778.8,497.0 780.1,493.8 781.4,497.9 782.6,493.1 783.9,496.7 785.2,495.3 786.4,493.1 787.7,497.9 789.0,492.5 790.2,495.0 791.5,496.0 792.8,491.6 794.1,496.5 795.3,493.4 796.6,491.9 797.9,496.6 799.1,491.7 800.4,492.4 801.7,495.9 802.9,491.1 804.2,493.1 805.5,494.9 806.7,489.6 808.0,493.1 809.3,495.4 810.6,489.9 811.8,491.4 813.1,495.0 814.4,489.9 815.6,490.3 816.9,495.3 818.2,490.7 819.4,488.4 820.7,493.6 822.0,493.0 823.2,487.6 824.5,490.7 825.8,493.9 827.1,489.0 828.3,487.3 829.6,492.4 830.9,492.5 832.1,487.8 833.4,487.9 834.7,492.9 835.9,491.4 837.2,486.9 838.5,487.5 839.7,492.7 841.0,492.4 842.3,487.3 843.6,486.7 844.8,491.4 846.1,493.8 847.4,489.2 848.6,486.0 849.9,488.4 851.2,492.9 852.4,492.2 853.7,488.0 855.0,485.3 856.2,488.1 857.5,493.0 858.8,493.9 860.1,488.9 861.3,484.9 862.6,486.0 863.9,490.6 865.1,494.2 866.4,492.8 867.7,487.5 868.9,483.8 870.2,485.1 871.5,489.3 872.7,493.5 874.0,494.3 875.3,490.5 876.6,485.8 877.8,483.1 879.1,483.6 880.4,488.3 881.6,492.9 882.9,496.0 884.2,495.0 885.4,490.7 886.7,485.9 888.0,482.4 889.2,481.1 890.5,482.3 891.8,486.5 893.1,490.8 894.3,495.7 895.6,498.6 896.9,498.3 898.1,495.5 899.4,491.3 900.7,486.5 901.9,481.9 903.2,477.6 904.5,475.9 905.7,474.8 907.0,474.6 908.3,476.4 909.6,479.2 910.8,482.0 912.1,486.7 913.4,490.8 914.6,495.5 915.9,500.2 917.2,505.2 918.4,510.0 919.7,514.8 921.0,518.7 922.2,523.2 923.5,526.6 924.8,530.5 926.1,533.0 927.3,536.4 928.6,539.1 929.9,541.5 931.1,543.4 932.4,545.5 933.7,547.0 934.9,548.3 936.2,550.2 937.5,551.5 938.7,552.4 940.0,553.2 941.3,554.8 942.6,555.9 943.8,555.8 945.1,556.8 946.4,557.1 947.6,558.4 948.9,558.2 950.2,559.0 951.4,559.6 952.7,560.2 954.0,560.6 955.2,561.2 956.5,560.9 957.8,560.7 959.1,561.3 960.3,561.7 961.6,562.2 962.9,562.3 964.1,562.7 965.4,562.7 966.7,563.0 967.9,563.2 969.2,563.1 970.5,563.5 971.7,563.3 973.0,563.9 974.3,564.2 975.6,563.7 976.8,564.1 978.1,564.3 979.4,564.6 980.6,564.5 981.9,564.5 983.2,564.7 984.4,565.0 985.7,564.8 987.0,564.5 988.2,565.3 989.5,565.0 990.8,565.1 992.1,565.2 993.3,565.3 994.6,565.5 995.9,565.0 997.1,565.8 998.4,566.0 999.7,565.3 1000.9,565.6 1002.2,566.0 1003.5,565.9 1004.7,565.9 1006.0,565.1 1007.3,566.4 1008.6,565.8 1009.8,566.0 1011.1,566.1 1012.4,566.0 1013.6,566.5 1014.9,566.1 1016.2,565.9 1017.4,566.3 1018.7,566.1 1020.0,566.5 1021.2,565.8 1022.5,565.7 1023.8,565.9 1025.1,566.2 1026.3,565.9 1027.6,565.9 1028.9,566.3 1030.1,566.3 1031.4,566.4 1032.7,566.2 1033.9,566.4 1035.2,566.6 1036.5,566.7 1037.7,566.2 1039.0,566.6 1040.3,565.9 1041.6,566.7 1042.8,566.4 1044.1,566.9 1045.4,566.2 1046.6,566.5 1047.9,566.7 1049.2,566.8 1050.4,566.7 1051.7,567.3 1053.0,566.4 1054.2,566.7 1055.5,566.9 1056.8,566.5 1058.1,566.4 1059.3,566.7 1060.6,566.9 1061.9,566.7 1063.1,566.6 1064.4,566.7 1065.7,566.7 1066.9,566.7 1068.2,566.4 1069.5,566.9 1070.7,566.6 1072.0,567.0 1073.3,567.3 1074.6,566.3 1075.8,566.6 1077.1,566.9 1078.4,565.9 1079.6,566.9 1080.9,566.5 1082.2,566.6 1083.4,567.1 1084.7,567.1 1086.0,566.9 1087.2,566.4" stroke="#a75cab" marker-start="url(#m2)" marker-mid="url(#m2)" marker-end="url(#m2)"/>
<polyline points="527.5,567.2 528.8,567.0 530.1,566.9 531.3,566.7 532.6,566.4 533.9,566.2 535.1,565.9 536.4,565.6 537.7,565.2 538.9,564.8 540.2,564.3 541.5,563.8 542.7,563.2 544.0,562.6 545.3,561.9 546.6,561.2 547.8,560.4 549.1,559.4 550.4,558.2 551.6,556.8 552.9,555.2 554.2,553.4 555.4,551.6 556.7,549.6 558.0,547.5 559.2,545.2 560.5,542.8 561.8,540.0 563.1,536.8 564.3,533.5 565.6,530.1 566.9,527.1 568.1,524.4 569.4,521.9 570.7,519.5 571.9,517.3 573.2,515.0 574.5,512.8 575.7,511.6 577.0,510.8 578.3,510.6 579.6,510.8 580.8,511.6 582.1,513.6 583.4,516.3 584.6,519.3 585.9,522.1 587.2,524.4 588.4,525.2 589.7,524.2 591.0,521.7 592.2,517.9 593.5,514.8 594.8,512.8 596.1,512.2 597.3,513.9 598.6,516.7 599.9,519.7 601.1,521.4 602.4,521.4 603.7,518.1 604.9,514.8 606.2,512.4 607.5,512.4 608.7,514.7 610.0,518.0 611.3,520.0 612.6,518.5 613.8,515.2 615.1,512.1 616.4,511.7 617.6,514.3 618.9,517.6 620.2,518.2 621.4,515.6 622.7,511.8 624.0,511.3 625.2,513.8 626.5,517.1 627.8,516.6 629.1,512.8 630.3,510.5 631.6,512.1 632.9,515.5 634.1,515.7 635.4,512.4 636.7,509.8 637.9,511.9 639.2,515.6 640.5,514.6 641.7,510.1 643.0,509.8 644.3,513.7 645.6,514.9 646.8,511.1 648.1,509.2 649.4,512.2 650.6,514.5 651.9,510.6 653.2,508.5 654.4,512.0 655.7,513.2 657.0,509.6 658.2,508.4 659.5,512.4 660.8,512.2 662.1,508.0 663.3,509.1 664.6,512.5 665.9,509.6 667.1,507.4 668.4,511.1 669.7,510.5 670.9,506.7 672.2,509.2 673.5,511.1 674.7,507.0 676.0,507.8 677.3,511.0 678.6,507.0 679.8,507.4 681.1,510.5 682.4,506.4 683.6,506.7 684.9,509.8 686.2,505.8 687.4,507.1 688.7,509.5 690.0,505.1 691.2,507.7 692.5,508.5 693.8,504.2 695.1,508.5 696.3,506.5 697.6,504.7 698.9,508.2 700.1,504.1 701.4,506.4 702.7,506.7 703.9,503.7 705.2,507.9 706.5,503.8 707.7,505.3 709.0,506.3 710.3,502.8 711.6,506.8 712.8,502.2 714.1,505.8 715.4,503.9 716.6,503.4 717.9,505.3 719.2,501.9 720.4,505.8 721.7,501.3 723.0,505.5 724.2,502.1 725.5,503.8 726.8,503.1 728.1,502.2 729.3,503.5 730.6,501.1 731.9,504.0 733.1,500.4 734.4,504.2 735.7,499.7 736.9,503.9 738.2,499.6 739.5,504.2 740.7,499.3 742.0,503.9 743.3,498.9 744.6,503.1 745.8,498.7 747.1,503.2 748.4,498.1 749.6,502.6 750.9,498.4 752.2,501.9 753.4,498.6 754.7,501.0 756.0,499.3 757.2,499.3 758.5,500.1 759.8,498.0 761.1,501.4 762.3,496.7 763.6,501.2 764.9,496.8 766.1,500.2 767.4,497.7 768.7,498.1 769.9,499.7 771.2,495.9 772.5,500.3 773.7,495.9 775.0,498.5 776.3,497.5 777.6,495.9 778.8,500.0 780.1,494.9 781.4,498.0 782.6,497.5 783.9,494.2 785.2,499.3 786.4,494.3 787.7,495.8 789.0,497.9 790.2,493.2 791.5,497.3 792.8,496.5 794.1,493.6 795.3,497.4 796.6,494.8 797.9,493.1 799.1,497.8 800.4,493.8 801.7,493.0 802.9,497.4 804.2,493.5 805.5,492.3 806.7,497.0 808.0,493.1 809.3,491.2 810.6,496.3 811.8,494.4 813.1,490.4 814.4,494.6 815.6,494.9 816.9,490.1 818.2,492.3 819.4,495.9 820.7,491.7 822.0,489.4 823.2,493.9 824.5,494.0 825.8,489.5 827.1,490.3 828.3,494.8 829.6,493.0 830.9,488.5 832.1,490.5 833.4,495.0 834.7,492.6 835.9,488.3 837.2,490.5 838.5,494.6 839.7,493.2 841.0,488.7 842.3,488.5 843.6,493.1 844.8,495.0 846.1,489.9 847.4,487.5 848.6,489.6 849.9,494.7 851.2,494.3 852.4,489.5 853.7,486.9 855.0,489.3 856.2,494.3 857.5,495.0 858.8,490.1 860.1,486.8 861.3,487.3 862.6,491.5 863.9,495.3 865.1,495.0 866.4,490.1 867.7,485.9 868.9,485.9 870.2,489.8 871.5,494.4 872.7,496.4 874.0,493.8 875.3,489.0 876.6,485.2 877.8,484.7 879.1,487.6 880.4,492.2 881.6,496.1 882.9,496.9 884.2,494.3 885.4,489.3 886.7,484.7 888.0,482.9 889.2,483.1 890.5,485.4 891.8,489.5 893.1,494.8 894.3,498.0 895.6,499.7 896.9,498.9 898.1,495.3 899.4,491.0 900.7,486.0 901.9,482.5 903.2,479.1 904.5,476.6 905.7,476.0 907.0,476.7 908.3,478.4 909.6,480.9 910.8,484.3 912.1,488.5 913.4,492.9 914.6,497.4 915.9,502.2 917.2,506.9 918.4,511.9 919.7,515.6 921.0,520.0 922.2,523.7 923.5,527.5 924.8,530.9 926.1,533.8 927.3,536.4 928.6,539.1 929.9,541.6 931.1,543.8 932.4,545.3 933.7,547.2 934.9,548.5 936.2,550.0 937.5,551.2 938.7,552.2 940.0,553.8 941.3,554.6 942.6,555.5 943.8,556.3 945.1,557.0 946.4,557.3 947.6,558.2 948.9,558.5 950.2,559.0 951.4,559.7 952.7,560.1 954.0,559.9 955.2,560.5 956.5,560.4 957.8,561.5 959.1,561.3 960.3,562.1 961.6,561.9 962.9,561.8 964.1,563.1 965.4,562.5 966.7,563.0 967.9,563.0 969.2,563.0 970.5,563.1 971.7,563.2 973.0,563.7 974.3,564.1 975.6,563.9 976.8,564.4 978.1,564.4 979.4,564.1 980.6,564.4 981.9,564.3 983.2,563.9 984.4,564.2 985.7,564.5 987.0,565.1 988.2,565.2 989.5,564.2 990.8,565.1 992.1,564.9 993.3,565.2 994.6,565.4 995.9,565.5 997.1,565.9 998.4,565.7 999.7,565.3 1000.9,565.6 1002.2,565.8 1003.5,565.6 1004.7,565.6 1006.0,565.3 1007.3,565.8 1008.6,566.3 1009.8,566.0 1011.1,566.3 1012.4,565.9 1013.6,565.9 1014.9,566.2 1016.2,565.8 1017.4,566.5 1018.7,565.8 1020.0,566.2 1021.2,565.8 1022.5,566.6 1023.8,566.1 1025.1,566.7 1026.3,566.0 1027.6,566.3 1028.9,565.9 1030.1,566.4 1031.4,566.0 1032.7,566.7 1033.9,565.9 1035.2,566.0 1036.5,566.6 1037.7,566.3 1039.0,566.8 1040.3,566.4 1041.6,566.7 1042.8,566.7 1044.1,566.5 1045.4,567.1 1046.6,566.8 1047.9,566.9 1049.2,566.8 1050.4,566.5 1051.7,566.8 1053.0,567.0 1054.2,567.1 1055.5,566.5 1056.8,566.8 1058.1,566.5 1059.3,566.2 1060.6,566.6 1061.9,567.0 1063.1,566.6 1064.4,566.9 1065.7,566.4 1066.9,567.1 1068.2,566.4 1069.5,567.0 1070.7,566.9 1072.0,566.7 1073.3,566.6 1074.6,566.7 1075.8,566.2 1077.1,566.8 1078.4,566.7 1079.6,567.1 1080.9,566.9 1082.2,566.7 1083.4,566.6 1084.7,566.7 1086.0,567.0 1087.2,566.8" stroke="#6cbd45" stroke-dasharray="2 4" marker-start="url(#m3)" marker-mid="url(#m3)" marker-end="url(#m3)"/>
<polyline points="517.4,567.2 518.6,567.0 519.9,566.8 521.2,566.6 522.4,566.3 523.7,566.1 525.0,565.8 526.2,565.4 527.5,565.0 528.8,564.6 530.1,564.1 531.3,563.5 532.6,563.0 533.9,562.3 535.1,561.6 536.4,560.8 537.7,559.9 538.9,558.8 540.2,557.5 541.5,555.9 542.7,554.3 544.0,552.5 545.3,550.6 546.6,548.7 547.8,546.5 549.1,544.2 550.4,541.5 551.6,538.6 552.9,535.3 554.2,532.2 555.4,529.3 556.7,526.8 558.0,524.4 559.2,522.2 560.5,520.0 561.8,517.9 563.1,515.8 564.3,514.7 565.6,513.9 566.9,513.7 568.1,514.8 569.4,515.9 570.7,518.3 571.9,520.4 573.2,523.3 574.5,525.1 575.7,526.4 577.0,526.3 578.3,524.4 579.6,521.8 580.8,518.8 582.1,516.7 583.4,515.5 584.6,515.8 585.9,517.5 587.2,520.1 588.4,522.6 589.7,523.3 591.0,521.9 592.2,519.2 593.5,516.5 594.8,515.1 596.1,515.8 597.3,518.1 598.6,520.6 599.9,521.5 601.1,520.0 602.4,517.0 603.7,514.8 604.9,515.0 606.2,517.4 607.5,520.0 608.7,519.6 610.0,517.1 611.3,514.3 612.6,514.1 613.8,516.8 615.1,519.0 616.4,518.3 617.6,515.4 618.9,513.3 620.2,514.8 621.4,517.7 622.7,517.8 624.0,515.2 625.2,512.6 626.5,514.2 627.8,517.3 629.1,516.8 630.3,513.6 631.6,512.4 632.9,514.8 634.1,516.6 635.4,514.3 636.7,511.5 637.9,513.6 639.2,516.1 640.5,514.2 641.7,511.2 643.0,512.8 644.3,515.5 645.6,513.4 646.8,510.8 648.1,512.7 649.4,514.6 650.6,512.0 651.9,510.4 653.2,513.4 654.4,513.7 655.7,510.2 657.0,511.2 658.2,513.6 659.5,510.8 660.8,509.7 662.1,512.7 663.3,511.5 664.6,509.1 665.9,511.7 667.1,512.0 668.4,508.4 669.7,510.7 670.9,511.5 672.2,508.5 673.5,510.4 674.7,511.3 676.0,507.6 677.3,510.1 678.6,510.6 679.8,507.5 681.1,510.2 682.4,509.6 683.6,507.1 684.9,510.6 686.2,508.3 687.4,507.5 688.7,510.4 690.0,506.6 691.2,508.6 692.5,508.9 693.8,506.1 695.1,509.3 696.3,506.6 697.6,507.2 698.9,508.1 700.1,504.9 701.4,508.5 702.7,505.1 703.9,507.5 705.2,506.7 706.5,505.3 707.7,508.3 709.0,504.5 710.3,507.5 711.6,504.6 712.8,506.4 714.1,506.0 715.4,504.7 716.6,506.9 717.9,503.4 719.2,507.1 720.4,503.0 721.7,506.2 723.0,503.3 724.2,505.7 725.5,503.2 726.8,504.7 728.1,503.2 729.3,503.9 730.6,503.6 731.9,503.4 733.1,503.3 734.4,503.2 735.7,503.7 736.9,502.9 738.2,503.4 739.5,502.7 740.7,502.2 742.0,502.6 743.3,501.9 744.6,503.1 745.8,500.9 747.1,503.3 748.4,500.0 749.6,503.3 750.9,499.2 752.2,503.5 753.4,499.6 754.7,502.5 756.0,500.0 757.2,501.4 758.5,501.1 759.8,499.3 761.1,502.1 762.3,498.4 763.6,502.3 764.9,498.7 766.1,500.0 767.4,499.9 768.7,497.8 769.9,501.4 771.2,497.3 772.5,500.4 773.7,499.2 775.0,497.2 776.3,500.6 777.6,496.5 778.8,499.4 780.1,499.0 781.4,496.2 782.6,500.2 783.9,496.9 785.2,497.0 786.4,499.6 787.7,495.3 789.0,497.9 790.2,498.5 791.5,494.5 792.8,498.4 794.1,497.5 795.3,494.3 796.6,498.0 797.9,496.8 799.1,493.9 800.4,498.1 801.7,496.3 802.9,493.2 804.2,497.5 805.5,496.7 806.7,492.8 808.0,495.7 809.3,497.8 810.6,492.6 811.8,493.7 813.1,497.7 814.4,494.0 815.6,492.1 816.9,495.8 818.2,495.9 819.4,491.3 820.7,493.1 822.0,496.5 823.2,493.9 824.5,490.4 825.8,493.7 827.1,496.1 828.3,492.3 829.6,489.7 830.9,493.9 832.1,496.0 833.4,492.4 834.7,489.6 835.9,492.4 837.2,495.8 838.5,493.5 839.7,489.2 841.0,491.0 842.3,495.2 843.6,495.9 844.8,491.1 846.1,489.1 847.4,492.0 848.6,496.0 849.9,495.2 851.2,491.3 852.4,488.6 853.7,491.2 855.0,495.2 856.2,496.1 857.5,492.7 858.8,488.2 860.1,488.2 861.3,492.3 862.6,496.6 863.9,496.4 865.1,492.7 866.4,488.1 867.7,487.1 868.9,490.4 870.2,494.7 871.5,497.3 872.7,496.0 874.0,491.9 875.3,487.3 876.6,486.0 877.8,488.1 879.1,491.9 880.4,496.2 881.6,498.6 882.9,497.2 884.2,493.2 885.4,488.4 886.7,485.3 888.0,484.7 889.2,485.7 890.5,489.1 891.8,493.0 893.1,497.5 894.3,500.6 895.6,501.1 896.9,499.1 898.1,495.5 899.4,490.8 900.7,485.3 901.9,482.2 903.2,479.9 904.5,477.9 905.7,478.2 907.0,478.8 908.3,481.0 909.6,483.3 910.8,486.5 912.1,491.0 913.4,495.1 914.6,499.2 915.9,504.3 917.2,508.5 918.4,513.4 919.7,517.2 921.0,521.7 922.2,524.9 923.5,528.5 924.8,531.5 926.1,534.8 927.3,537.2 928.6,539.4 929.9,541.8 931.1,543.8 932.4,545.7 933.7,547.3 934.9,549.0 936.2,550.4 937.5,551.8 938.7,553.0 940.0,553.4 941.3,554.5 942.6,555.5 943.8,556.5 945.1,556.8 946.4,557.1 947.6,558.6 948.9,558.4 950.2,559.5 951.4,559.7 952.7,560.1 954.0,560.0 955.2,561.0 956.5,560.6 957.8,561.6 959.1,561.3 960.3,562.0 961.6,562.5 962.9,562.2 964.1,562.8 965.4,562.6 966.7,562.4 967.9,563.4 969.2,563.7 970.5,563.5 971.7,563.7 973.0,564.3 974.3,564.3 975.6,564.0 976.8,564.6 978.1,564.6 979.4,564.0 980.6,564.8 981.9,564.3 983.2,564.9 984.4,564.8 985.7,565.0 987.0,565.0 988.2,565.3 989.5,565.1 990.8,565.1 992.1,565.9 993.3,565.4 994.6,565.4 995.9,565.7 997.1,565.2 998.4,565.8 999.7,565.5 1000.9,565.8 1002.2,565.3 1003.5,565.7 1004.7,566.2 1006.0,565.9 1007.3,566.2 1008.6,566.1 1009.8,565.6 1011.1,566.0 1012.4,566.6 1013.6,565.9 1014.9,566.1 1016.2,566.2 1017.4,566.0 1018.7,566.8 1020.0,566.6 1021.2,566.2 1022.5,566.6 1023.8,566.7 1025.1,566.9 1026.3,566.2 1027.6,566.4 1028.9,566.6 1030.1,566.6 1031.4,566.7 1032.7,566.8 1033.9,567.2 1035.2,566.5 1036.5,567.0 1037.7,566.2 1039.0,566.7 1040.3,566.5 1041.6,566.6 1042.8,567.2 1044.1,566.9 1045.4,566.6 1046.6,566.8 1047.9,566.7 1049.2,567.1 1050.4,567.3 1051.7,566.7 1053.0,566.4 1054.2,566.7 1055.5,566.2 1056.8,566.6 1058.1,566.7 1059.3,567.0 1060.6,566.6 1061.9,566.7 1063.1,567.3 1064.4,566.7 1065.7,567.0 1066.9,566.9 1068.2,566.7 1069.5,567.1 1070.7,566.6 1072.0,566.9 1073.3,566.9 1074.6,566.4 1075.8,567.0 1077.1,567.2 1078.4,567.6 1079.6,566.9 1080.9,566.9 1082.2,567.5 1083.4,567.0 1084.7,567.3" stroke="#1c1a1b" stroke-dasharray="8 5" marker-start="url(#m4)" marker-mid="url(#m4)" marker-end="url(#m4)"/>
</g>
<polyline points="437.4,567.3 438.7,569.5 439.9,568.5 441.2,569.8 442.5,568.5 443.7,569.8 445.0,568.5 446.3,569.8 447.6,568.5 448.8,569.8 450.1,568.5 451.4,569.8 452.6,568.5 453.9,569.7 455.2,568.4 456.4,569.7 457.7,568.4 459.0,569.7 460.2,568.4 461.5,569.7 462.8,568.4 464.1,569.7 465.3,568.3 466.6,569.6 467.9,568.3 469.1,569.6 470.4,568.3 471.7,569.6 472.9,568.2 474.2,569.5 475.5,568.2 476.7,569.5 478.0,568.1 479.3,569.4 480.6,568.0 481.8,569.3 483.1,568.0 484.4,569.2 485.6,567.9 486.9,569.2 488.2,567.8 489.4,569.1 490.7,567.7 492.0,568.9 493.2,567.5 494.5,568.8 495.8,567.4 497.1,568.6 498.3,567.2 499.6,568.5 500.9,567.0 502.1,568.2 503.4,566.7 504.7,568.0 505.9,566.4 507.2,567.6 508.5,566.1 509.7,567.2 511.0,565.6 512.3,566.6 513.6,565.0 514.8,565.9 516.1,564.3 517.4,565.0 518.6,563.3 519.9,563.9 521.2,562.2 522.4,562.6 523.7,560.9 525.0,560.8 526.2,559.1 527.5,558.4 528.8,556.5 530.1,555.4 531.3,553.3 532.6,552.0 533.9,549.7 535.1,548.0 536.4,545.5 537.7,543.3 538.9,540.3 540.2,537.5 541.5,534.3 542.7,531.9 544.0,529.2 545.3,527.4 546.6,524.8 547.8,523.3 549.1,520.7 550.4,519.5 551.6,517.0 552.9,518.9 554.2,514.8 555.4,518.5 556.7,518.3 558.0,520.8 559.2,522.0 560.5,524.9 561.8,525.4 563.1,528.3 564.3,525.9 565.6,526.9 566.9,524.2 568.1,522.1 569.4,519.4 570.7,519.9 571.9,516.3 573.2,519.9 574.5,521.0 575.7,523.7 577.0,522.8 578.3,524.7 579.6,522.2 580.8,520.7 582.1,518.1 583.4,520.4 584.6,518.6 585.9,521.2 587.2,521.5 588.4,523.1 589.7,520.4 591.0,518.8 592.2,515.4 593.5,518.7 594.8,519.8 596.1,522.9 597.3,520.6 598.6,518.8 599.9,515.3 601.1,518.4 602.4,518.7 603.7,522.2 604.9,519.2 606.2,518.2 607.5,514.7 608.7,517.7 610.0,518.2 611.3,520.2 612.6,516.8 613.8,517.7 615.1,515.7 616.4,519.2 617.6,517.6 618.9,516.8 620.2,513.2 621.4,517.3 622.7,516.0 624.0,517.2 625.2,513.5 626.5,516.5 627.8,515.2 629.1,517.0 630.3,513.3 631.6,515.8 632.9,514.9 634.1,516.9 635.4,512.8 636.7,515.1 637.9,514.2 639.2,516.0 640.5,512.0 641.7,515.1 643.0,513.3 644.3,514.5 645.6,510.9 646.8,515.6 648.1,514.0 649.4,513.4 650.6,512.4 651.9,516.4 653.2,511.8 654.4,513.2 655.7,512.5 657.0,513.6 658.2,509.4 659.5,515.3 660.8,511.7 662.1,513.1 663.3,511.7 664.6,513.2 665.9,508.1 667.1,513.6 668.4,511.1 669.7,512.3 670.9,510.9 672.2,512.0 673.5,508.2 674.7,514.1 676.0,509.2 677.3,511.7 678.6,509.4 679.8,511.3 681.1,509.2 682.4,511.5 683.6,506.5 684.9,513.7 686.2,507.8 687.4,510.4 688.7,509.2 690.0,510.4 691.2,507.9 692.5,509.9 693.8,507.4 695.1,511.3 696.3,504.8 697.6,512.2 698.9,505.6 700.1,510.3 701.4,507.1 702.7,509.4 703.9,506.8 705.2,508.8 706.5,506.4 707.7,508.0 709.0,505.9 710.3,508.7 711.6,504.5 712.8,508.7 714.1,503.6 715.4,509.1 716.6,502.8 717.9,509.8 719.2,502.1 720.4,509.8 721.7,501.8 723.0,509.6 724.2,501.6 725.5,509.4 726.8,501.8 728.1,508.6 729.3,501.0 730.6,508.9 731.9,500.9 733.1,508.5 734.4,500.4 735.7,508.3 736.9,500.0 738.2,508.0 739.5,499.7 740.7,507.6 742.0,500.7 743.3,506.9 744.6,500.6 745.8,505.5 747.1,501.2 748.4,504.8 749.6,502.3 750.9,503.8 752.2,501.7 753.4,503.2 754.7,501.1 756.0,503.1 757.2,500.3 758.5,503.4 759.8,498.7 761.1,505.0 762.3,497.4 763.6,503.6 764.9,499.9 766.1,501.9 767.4,500.8 768.7,501.4 769.9,499.8 771.2,501.1 772.5,498.4 773.7,503.9 775.0,496.9 776.3,501.9 777.6,499.2 778.8,499.4 780.1,499.5 781.4,499.4 782.6,497.5 783.9,502.6 785.2,495.8 786.4,499.7 787.7,499.9 789.0,498.1 790.2,498.3 791.5,500.1 792.8,493.0 794.1,499.1 795.3,498.8 796.6,497.3 797.9,498.0 799.1,500.1 800.4,494.0 801.7,497.6 802.9,497.8 804.2,495.4 805.5,494.8 806.7,500.7 808.0,495.9 809.3,495.7 810.6,497.4 811.8,497.7 813.1,492.7 814.4,495.4 815.6,495.3 816.9,495.3 818.2,491.3 819.4,497.1 820.7,497.1 822.0,493.8 823.2,492.2 824.5,497.3 825.8,496.4 827.1,493.0 828.3,491.6 829.6,496.8 830.9,496.4 832.1,492.6 833.4,490.8 834.7,495.6 835.9,496.2 837.2,493.7 838.5,488.1 839.7,493.1 841.0,496.6 842.3,496.8 843.6,491.8 844.8,492.2 846.1,493.2 847.4,498.1 848.6,496.1 849.9,492.1 851.2,487.3 852.4,493.0 853.7,495.9 855.0,499.0 856.2,494.2 857.5,490.0 858.8,489.2 860.1,492.9 861.3,496.9 862.6,498.1 863.9,494.0 865.1,490.2 866.4,485.3 867.7,490.7 868.9,495.0 870.2,498.7 871.5,497.5 872.7,494.1 874.0,489.6 875.3,489.4 876.6,487.8 877.8,491.8 879.1,496.2 880.4,499.6 881.6,498.8 882.9,496.3 884.2,491.7 885.4,488.1 886.7,484.3 888.0,486.7 889.2,488.3 890.5,492.4 891.8,496.6 893.1,500.7 894.3,499.8 895.6,501.7 896.9,498.5 898.1,494.8 899.4,490.0 900.7,485.9 901.9,482.5 903.2,480.8 904.5,476.5 905.7,481.3 907.0,480.2 908.3,483.0 909.6,485.6 910.8,489.3 912.1,492.7 913.4,497.6 914.6,501.7 915.9,506.1 917.2,510.5 918.4,514.4 919.7,518.5 921.0,522.5 922.2,526.0 923.5,529.8 924.8,532.4 926.1,535.4 927.3,537.8 928.6,540.8 929.9,542.2 931.1,544.5 932.4,545.9 933.7,548.1 934.9,549.0 936.2,551.5 937.5,551.3 938.7,553.4 940.0,553.5 941.3,555.3 942.6,555.5 943.8,557.4 945.1,556.1 946.4,558.1 947.6,558.2 948.9,559.9 950.2,558.8 951.4,560.6 952.7,559.4 954.0,561.2 955.2,560.6 956.5,562.3 957.8,560.9 959.1,563.0 960.3,561.2 961.6,563.2 962.9,561.6 964.1,563.7 965.4,562.2 966.7,564.0 967.9,562.5 969.2,564.0 970.5,563.0 971.7,564.5 973.0,563.4 974.3,565.0 975.6,563.3 976.8,565.1 978.1,563.6 979.4,565.0 980.6,564.5 981.9,565.5 983.2,564.7 984.4,566.0 985.7,564.8 987.0,565.7 988.2,565.0 989.5,566.3 990.8,564.8 992.1,567.0 993.3,565.4 994.6,566.4 995.9,565.0 997.1,566.5 998.4,565.5 999.7,566.7 1000.9,565.1 1002.2,566.8 1003.5,566.0 1004.7,566.8 1006.0,565.4 1007.3,566.8 1008.6,565.8 1009.8,567.0 1011.1,565.6 1012.4,566.8 1013.6,566.0 1014.9,567.4 1016.2,565.9 1017.4,567.7 1018.7,566.0 1020.0,567.7 1021.2,566.2 1022.5,567.7 1023.8,566.5 1025.1,567.4 1026.3,566.3 1027.6,567.4 1028.9,565.9 1030.1,568.0 1031.4,566.1 1032.7,567.8 1033.9,566.2 1035.2,567.7 1036.5,566.1 1037.7,567.6 1039.0,566.5 1040.3,568.0 1041.6,565.9 1042.8,568.0 1044.1,566.8 1045.4,567.7 1046.6,566.4 1047.9,568.0 1049.2,566.8 1050.4,567.2 1051.7,566.8 1053.0,567.3 1054.2,566.5 1055.5,567.9 1056.8,566.9 1058.1,567.7 1059.3,566.9 1060.6,568.3 1061.9,566.6 1063.1,567.7 1064.4,567.1 1065.7,567.7 1066.9,567.5 1068.2,568.2 1069.5,566.7 1070.7,568.4 1072.0,567.3 1073.3,568.3 1074.6,566.5 1075.8,568.8 1077.1,567.1 1078.4,568.2 1079.6,566.4 1080.9,568.6 1082.2,567.1 1083.4,567.5 1084.7,566.6 1086.0,568.6 1087.2,567.1" stroke="#2d5fb4" stroke-dasharray="2 4" marker-start="url(#m5)" marker-mid="url(#m5)" marker-end="url(#m5)"/>
</g>
<use href="#tl" transform="translate(2174.50,0) scale(-1,1)"/>
</g>
<rect x="437.4" y="50.5" width="1299.7" height="519.5" fill="none" stroke="#2a2829" stroke-width="4.6"/>
<path d="M567.4 50.5v13M567.4 570.0v-13M697.3 50.5v13M697.3 570.0v-13M827.3 50.5v13M827.3 570.0v-13M957.3 50.5v13M957.3 570.0v-13M1087.2 50.5v13M1087.2 570.0v-13M1217.2 50.5v13M1217.2 570.0v-13M1347.2 50.5v13M1347.2 570.0v-13M1477.2 50.5v13M1477.2 570.0v-13M1607.1 50.5v13M1607.1 570.0v-13M437.4 466.1h13M1737.1 466.1h-13M437.4 362.2h13M1737.1 362.2h-13M437.4 258.3h13M1737.1 258.3h-13M437.4 154.4h13M1737.1 154.4h-13" stroke="#2a2829" stroke-width="4.4" fill="none"/>
<defs>
<marker id="n0" markerUnits="userSpaceOnUse" markerWidth="10" markerHeight="10" refX="5" refY="5" viewBox="0 0 10 10"><circle cx="5" cy="5" r="4.5" fill="#ee2e27"/></marker>
<marker id="n1" markerUnits="userSpaceOnUse" markerWidth="10" markerHeight="10" refX="5" refY="5" viewBox="0 0 10 10"><circle cx="5" cy="5" r="4.5" fill="#5cc5d8"/></marker>
<marker id="n2" markerUnits="userSpaceOnUse" markerWidth="10" markerHeight="10" refX="5" refY="5" viewBox="0 0 10 10"><circle cx="5" cy="5" r="4.5" fill="#a75cab"/></marker>
<marker id="n3" markerUnits="userSpaceOnUse" markerWidth="10" markerHeight="10" refX="5" refY="5" viewBox="0 0 10 10"><circle cx="5" cy="5" r="4.5" fill="#6cbd45"/></marker>
<marker id="n4" markerUnits="userSpaceOnUse" markerWidth="10" markerHeight="10" refX="5" refY="5" viewBox="0 0 10 10"><circle cx="5" cy="5" r="4.5" fill="#1c1a1b"/></marker>
<marker id="n5" markerUnits="userSpaceOnUse" markerWidth="10" markerHeight="10" refX="5" refY="5" viewBox="0 0 10 10"><circle cx="5" cy="5" r="4.5" fill="#2d5fb4"/></marker>
</defs>
<g id="bl" fill="none">
<path d="M437.4 1435.2H889.3M942.1 1435.2H1087.2" stroke="#ee2e27" stroke-width="9.0" stroke-linecap="round"/>
<path d="M889.3 1435.2L890.5 1004.3M940.0 1014.7L942.1 1435.2" stroke="#ee2e27" stroke-width="2.3" stroke-dasharray="19.6 8 4.6 8" stroke-dashoffset="13"/>
<polyline points="890.5,1004.3 891.8,1002.6 893.0,1002.1 894.3,1004.8 895.6,1004.2 896.8,1000.5 898.1,1004.6 899.4,1010.2 900.7,1000.3 901.9,1001.9 903.2,1003.1 904.5,1002.4 905.7,1001.6 907.0,1003.6 908.3,1004.2 909.5,1000.9 910.8,1001.5 912.1,1002.3 913.3,1000.7 914.6,1002.1 915.9,999.8 917.2,1003.9 918.4,1002.0 919.7,1002.4 921.0,1003.1 922.2,1001.7 923.5,1003.7 924.8,1000.5 926.0,1000.1 927.3,1004.3 928.6,1002.4 929.8,1003.5 931.1,1004.6 932.4,1005.5 933.7,1002.5 934.9,1004.3 936.2,1001.0 937.5,999.1 938.7,1004.3 940.0,1014.7" stroke="#ee2e27" stroke-width="2" marker-start="url(#n0)" marker-mid="url(#n0)" marker-end="url(#n0)"/>
<path d="M437.4 1435.2H880.6M939.8 1435.2H1087.2" stroke="#5cc5d8" stroke-width="9.0" stroke-linecap="round"/>
<path d="M880.6 1435.2L881.8 1001.6M937.6 998.0L939.8 1435.2" stroke="#5cc5d8" stroke-width="2.3" stroke-dasharray="25 15" stroke-dashoffset="12"/>
<polyline points="881.8,1001.6 883.1,1004.7 884.3,1004.6 885.6,1003.1 886.9,1003.8 888.1,1001.0 889.4,1001.5 890.7,1002.4 892.0,1001.8 893.2,1001.7 894.5,1001.2 895.8,1000.5 897.0,1004.2 898.3,1001.9 899.6,1004.2 900.8,1002.7 902.1,1001.0 903.4,1000.5 904.6,1001.1 905.9,1004.8 907.2,1003.1 908.5,1004.1 909.7,999.8 911.0,1004.2 912.3,1003.7 913.5,1003.1 914.8,1004.7 916.1,1000.3 917.3,1001.5 918.6,1004.1 919.9,1002.3 921.1,1004.6 922.4,1001.6 923.7,1003.7 925.0,1004.8 926.2,1004.4 927.5,1001.8 928.8,1001.3 930.0,1003.2 931.3,1001.2 932.6,1003.0 933.8,1004.4 935.1,1003.2 936.4,1000.1 937.6,998.0" stroke="#5cc5d8" stroke-width="2" marker-start="url(#n1)" marker-mid="url(#n1)" marker-end="url(#n1)"/>
<path d="M437.4 1435.2H871.6M937.7 1435.2H1087.2" stroke="#a75cab" stroke-width="9.0" stroke-linecap="round"/>
<path d="M871.6 1435.2L872.8 1002.1M936.3 1000.6L937.7 1435.2" stroke="#a75cab" stroke-width="4.2" stroke-dashoffset="13"/>
<polyline points="872.8,1002.1 874.1,1003.4 875.3,1001.6 876.6,1003.2 877.9,1004.2 879.1,1001.0 880.4,1001.8 881.7,1001.6 883.0,1002.4 884.2,1001.3 885.5,1002.8 886.8,1002.3 888.0,1004.6 889.3,1002.3 890.6,1001.1 891.8,1001.6 893.1,1001.1 894.4,1002.5 895.6,1000.7 896.9,1004.4 898.2,1000.6 899.5,1003.1 900.7,1004.5 902.0,1001.8 903.3,1002.6 904.5,1002.8 905.8,1000.6 907.1,1004.2 908.3,1001.8 909.6,1002.8 910.9,1002.2 912.1,1002.3 913.4,1004.3 914.7,1002.2 916.0,1000.3 917.2,1004.1 918.5,1005.0 919.8,1004.7 921.0,1002.4 922.3,999.5 923.6,1004.8 924.8,999.3 926.1,1001.9 927.4,1004.4 928.6,1002.6 929.9,1003.9 931.2,1000.7 932.5,1001.8 933.7,1003.4 935.0,1000.7 936.3,1000.6" stroke="#a75cab" stroke-width="2" marker-start="url(#n2)" marker-mid="url(#n2)" marker-end="url(#n2)"/>
<path d="M437.4 1435.2H860.1M935.8 1435.2H1087.2" stroke="#6cbd45" stroke-width="9.0" stroke-linecap="round"/>
<path d="M860.1 1435.2L861.3 1004.2M933.6 1006.1L935.8 1435.2" stroke="#6cbd45" stroke-width="2.3" stroke-dasharray="2.4 7.6" stroke-dashoffset="23"/>
<polyline points="861.3,1004.2 862.6,1002.4 863.8,1003.2 865.1,1004.4 866.4,1004.8 867.6,1003.2 868.9,997.6 870.2,1002.7 871.5,1001.0 872.7,1000.9 874.0,1000.8 875.3,1001.4 876.5,1002.8 877.8,1002.6 879.1,1003.1 880.3,1003.1 881.6,1004.7 882.9,1001.3 884.1,1003.8 885.4,1004.8 886.7,1002.7 888.0,1001.5 889.2,1002.9 890.5,1003.2 891.8,1001.8 893.0,1004.1 894.3,1004.9 895.6,1002.0 896.8,1002.3 898.1,1000.6 899.4,1002.9 900.6,1001.0 901.9,1004.8 903.2,1004.8 904.5,1001.9 905.7,1003.8 907.0,1004.6 908.3,1004.3 909.5,1003.0 910.8,1003.2 912.1,1001.9 913.3,1000.2 914.6,1003.0 915.9,1004.0 917.1,1001.8 918.4,1005.0 919.7,1002.9 921.0,1003.2 922.2,1002.8 923.5,1004.8 924.8,1001.8 926.0,1001.4 927.3,1000.6 928.6,999.2 929.8,1003.0 931.1,1001.1 932.4,1004.2 933.6,1006.1" stroke="#6cbd45" stroke-width="2" marker-start="url(#n3)" marker-mid="url(#n3)" marker-end="url(#n3)"/>
<path d="M437.4 1435.2H848.8M934.0 1435.2H1087.2" stroke="#1c1a1b" stroke-width="9.0" stroke-linecap="round"/>
<path d="M848.8 1435.2L850.0 1003.0M932.5 1000.5L934.0 1435.2" stroke="#1c1a1b" stroke-width="2.3" stroke-dasharray="25 15" stroke-dashoffset="19"/>
<polyline points="850.0,1003.0 851.3,1002.0 852.5,1001.1 853.8,1001.5 855.1,1003.3 856.3,1003.4 857.6,1001.1 858.9,1003.3 860.2,1001.6 861.4,1004.5 862.7,1003.0 864.0,1002.7 865.2,1001.5 866.5,1001.1 867.8,1004.2 869.0,1002.2 870.3,997.3 871.6,1007.6 872.8,1001.2 874.1,1002.5 875.4,1000.6 876.7,1004.1 877.9,1002.5 879.2,1003.4 880.5,1002.0 881.7,1002.1 883.0,1002.5 884.3,1003.4 885.5,1002.6 886.8,1003.2 888.1,1000.7 889.3,1002.7 890.6,1002.6 891.9,1003.7 893.2,1003.7 894.4,1000.3 895.7,1003.4 897.0,1000.6 898.2,1002.0 899.5,1000.0 900.8,1004.1 902.0,1000.1 903.3,1001.0 904.6,1002.0 905.8,1001.2 907.1,1001.2 908.4,1002.6 909.7,1001.6 910.9,1003.8 912.2,1004.9 913.5,1001.3 914.7,1002.4 916.0,999.9 917.3,1003.5 918.5,1000.4 919.8,999.3 921.1,999.8 922.3,999.4 923.6,1004.2 924.9,1004.1 926.2,1003.8 927.4,1002.9 928.7,1004.5 930.0,1004.3 931.2,1009.4 932.5,1000.5" stroke="#1c1a1b" stroke-width="2" marker-start="url(#n4)" marker-mid="url(#n4)" marker-end="url(#n4)"/>
<path d="M437.4 1435.2H836.1M932.3 1435.2H1087.2" stroke="#2d5fb4" stroke-width="9.0" stroke-linecap="round"/>
<path d="M836.1 1435.2L837.3 1003.1M930.0 1000.0L932.3 1435.2" stroke="#2d5fb4" stroke-width="2.3" stroke-dasharray="2.4 7.6" stroke-dashoffset="1"/>
<polyline points="837.3,1003.1 838.6,1002.5 839.8,1003.9 841.1,1001.5 842.4,1003.8 843.6,1004.5 844.9,1003.5 846.2,1001.2 847.5,1004.3 848.7,1003.8 850.0,1001.2 851.3,1003.5 852.5,1001.5 853.8,1004.7 855.1,1001.2 856.3,1003.9 857.6,1004.2 858.9,1001.8 860.1,1000.7 861.4,1000.9 862.7,1001.7 864.0,1001.0 865.2,1000.7 866.5,1002.5 867.8,1004.3 869.0,1001.2 870.3,1003.2 871.6,1003.5 872.8,997.2 874.1,1004.7 875.4,1004.8 876.6,1003.7 877.9,1002.2 879.2,1001.5 880.5,1000.5 881.7,1001.1 883.0,1000.5 884.3,1001.9 885.5,1001.5 886.8,1002.1 888.1,1004.5 889.3,1004.6 890.6,1001.2 891.9,1003.9 893.1,1001.1 894.4,1002.6 895.7,1004.9 897.0,1002.1 898.2,1002.7 899.5,1004.6 900.8,1003.6 902.0,1003.4 903.3,1003.2 904.6,1001.3 905.8,1004.1 907.1,1002.6 908.4,1001.7 909.6,999.8 910.9,1004.4 912.2,1004.6 913.5,1004.0 914.7,1003.8 916.0,1004.1 917.3,1004.6 918.5,1003.9 919.8,1003.8 921.1,1002.3 922.3,1001.2 923.6,1002.9 924.9,1004.1 926.1,1004.6 927.4,1003.5 928.7,1007.0 930.0,1000.0" stroke="#2d5fb4" stroke-width="2" marker-start="url(#n5)" marker-mid="url(#n5)" marker-end="url(#n5)"/>
<path d="M437.4 1435.2H824.7M930.7 1435.2H1087.2" stroke="#ee2e27" stroke-width="9.0" stroke-linecap="round"/>
<path d="M824.7 1435.2L825.9 1004.0M928.7 998.6L930.7 1435.2" stroke="#ee2e27" stroke-width="2.3" stroke-dasharray="19.6 8 4.6 8" stroke-dashoffset="35"/>
<polyline points="825.9,1004.0 827.2,1004.4 828.4,1003.2 829.7,1003.6 831.0,1003.4 832.2,1001.6 833.5,1002.7 834.8,1002.6 836.1,1003.4 837.3,1001.8 838.6,1003.0 839.9,1002.0 841.1,1001.3 842.4,1002.5 843.7,1003.2 844.9,1003.9 846.2,1001.2 847.5,1001.8 848.7,1001.7 850.0,1004.0 851.3,1003.1 852.6,1001.3 853.8,1003.9 855.1,1001.5 856.4,1002.7 857.6,1004.0 858.9,1003.3 860.2,1004.6 861.4,1002.0 862.7,1001.8 864.0,1004.8 865.2,1003.6 866.5,1001.6 867.8,1004.0 869.1,1002.5 870.3,1001.3 871.6,1002.4 872.9,1004.3 874.1,1000.8 875.4,1001.5 876.7,1002.3 877.9,1003.4 879.2,1002.2 880.5,1003.1 881.7,1004.3 883.0,1004.3 884.3,1004.7 885.6,1004.1 886.8,1003.7 888.1,1001.9 889.4,1002.1 890.6,1002.0 891.9,1000.9 893.2,1004.5 894.4,1003.0 895.7,1004.5 897.0,1002.8 898.2,1004.5 899.5,1008.6 900.8,1004.4 902.1,1002.9 903.3,1000.9 904.6,1003.5 905.9,1001.0 907.1,1003.7 908.4,1003.4 909.7,1002.4 910.9,1004.6 912.2,1002.5 913.5,1001.7 914.7,1000.3 916.0,1001.6 917.3,1000.4 918.6,1001.7 919.8,1001.7 921.1,1004.8 922.4,999.8 923.6,1003.5 924.9,1001.8 926.2,1001.8 927.4,1000.1 928.7,998.6" stroke="#ee2e27" stroke-width="2" marker-start="url(#n0)" marker-mid="url(#n0)" marker-end="url(#n0)"/>
<path d="M437.4 1435.2H812.0M929.3 1435.2H1087.2" stroke="#5cc5d8" stroke-width="9.0" stroke-linecap="round"/>
<path d="M812.0 1435.2L813.2 1002.5M927.4 1006.6L929.3 1435.2" stroke="#5cc5d8" stroke-width="2.3" stroke-dasharray="25 15" stroke-dashoffset="8"/>
<polyline points="813.2,1002.5 814.5,1001.6 815.7,1002.2 817.0,1002.4 818.3,1003.4 819.5,1004.4 820.8,1002.2 822.1,1002.6 823.4,1001.3 824.6,1003.7 825.9,1001.6 827.2,1004.1 828.4,1001.3 829.7,1001.1 831.0,1004.8 832.2,1003.7 833.5,1001.0 834.8,1001.1 836.0,1002.3 837.3,1004.4 838.6,1004.9 839.9,1003.9 841.1,1001.2 842.4,1001.7 843.7,1003.2 844.9,1001.9 846.2,1001.3 847.5,1003.7 848.7,1001.3 850.0,1003.8 851.3,1003.6 852.5,1004.7 853.8,1004.2 855.1,1002.6 856.4,1004.8 857.6,1002.6 858.9,1004.2 860.2,1001.7 861.4,1004.3 862.7,999.6 864.0,1003.7 865.2,1002.4 866.5,1001.4 867.8,1001.6 869.0,1001.6 870.3,1001.9 871.6,1002.5 872.9,1003.4 874.1,1004.1 875.4,1001.0 876.7,1003.0 877.9,1001.9 879.2,1004.6 880.5,1003.2 881.7,1004.4 883.0,1003.2 884.3,1001.4 885.5,1003.3 886.8,1001.6 888.1,1004.3 889.4,1003.0 890.6,1002.9 891.9,1002.4 893.2,1003.8 894.4,1001.4 895.7,1000.5 897.0,1000.8 898.2,1004.8 899.5,1002.4 900.8,1003.2 902.0,1001.9 903.3,1004.5 904.6,1001.1 905.9,1002.7 907.1,999.8 908.4,1004.9 909.7,1002.7 910.9,1002.3 912.2,1000.3 913.5,1000.7 914.7,1004.0 916.0,1003.3 917.3,1000.7 918.5,1002.6 919.8,1003.5 921.1,999.5 922.4,999.9 923.6,1003.0 924.9,1001.7 926.2,1002.4 927.4,1006.6" stroke="#5cc5d8" stroke-width="2" marker-start="url(#n1)" marker-mid="url(#n1)" marker-end="url(#n1)"/>
<path d="M437.4 1435.2H800.5M928.0 1435.2H1087.2" stroke="#a75cab" stroke-width="9.0" stroke-linecap="round"/>
<path d="M800.5 1435.2L801.7 1004.1M926.1 1003.1L928.0 1435.2" stroke="#a75cab" stroke-width="4.2" stroke-dashoffset="35"/>
<polyline points="801.7,1004.1 803.0,1001.9 804.2,1002.1 805.5,1004.6 806.8,1003.7 808.0,1002.3 809.3,1001.8 810.6,1002.9 811.9,1002.3 813.1,1004.1 814.4,1002.1 815.7,1001.9 816.9,1003.5 818.2,1004.1 819.5,1004.9 820.7,1002.6 822.0,1002.6 823.3,1005.0 824.5,1003.0 825.8,1001.4 827.1,1004.9 828.4,1004.4 829.6,1004.7 830.9,1003.3 832.2,1003.4 833.4,1001.5 834.7,1004.7 836.0,1004.2 837.2,1001.2 838.5,1004.9 839.8,1003.9 841.0,1009.1 842.3,1004.9 843.6,1003.8 844.9,1002.5 846.1,1002.4 847.4,1002.4 848.7,1002.2 849.9,1002.4 851.2,1004.8 852.5,1002.2 853.7,1002.5 855.0,1004.0 856.3,1003.1 857.5,1003.9 858.8,1001.2 860.1,1003.7 861.4,1004.2 862.6,1001.5 863.9,1001.6 865.2,1001.2 866.4,1001.9 867.7,1003.1 869.0,1002.8 870.2,1002.4 871.5,1002.2 872.8,1000.6 874.0,1003.7 875.3,1001.4 876.6,1004.8 877.9,1004.0 879.1,1000.5 880.4,1003.7 881.7,1002.5 882.9,1000.6 884.2,1001.8 885.5,1002.6 886.7,1001.5 888.0,1000.2 889.3,1000.3 890.5,1004.0 891.8,1004.2 893.1,1003.5 894.4,1004.2 895.6,1001.0 896.9,1000.7 898.2,1004.2 899.4,1004.6 900.7,1003.3 902.0,1001.3 903.2,1000.9 904.5,1002.5 905.8,1001.5 907.0,1000.0 908.3,1000.1 909.6,1004.4 910.9,1001.0 912.1,1000.6 913.4,999.8 914.7,1002.6 915.9,1004.2 917.2,1002.3 918.5,1002.9 919.7,1002.7 921.0,1000.2 922.3,1001.1 923.5,1000.9 924.8,1005.4 926.1,1003.1" stroke="#a75cab" stroke-width="2" marker-start="url(#n2)" marker-mid="url(#n2)" marker-end="url(#n2)"/>
<path d="M437.4 1435.2H787.8M926.8 1435.2H1087.2" stroke="#6cbd45" stroke-width="9.0" stroke-linecap="round"/>
<path d="M787.8 1435.2L789.0 1003.4M924.8 1001.5L926.8 1435.2" stroke="#6cbd45" stroke-width="2.3" stroke-dasharray="2.4 7.6" stroke-dashoffset="20"/>
<polyline points="789.0,1003.4 790.3,1004.8 791.5,1003.1 792.8,1004.2 794.1,1005.0 795.3,1001.6 796.6,1002.0 797.9,1002.7 799.2,1002.3 800.4,1002.6 801.7,1003.3 803.0,1004.6 804.2,1004.0 805.5,1003.2 806.8,1002.9 808.0,1003.9 809.3,1004.6 810.6,1003.7 811.8,1004.3 813.1,1001.5 814.4,1004.2 815.7,1003.5 816.9,1002.9 818.2,1004.0 819.5,1003.1 820.7,1002.9 822.0,1004.8 823.3,1001.3 824.5,1002.9 825.8,1004.4 827.1,1001.2 828.3,1004.3 829.6,1002.1 830.9,1003.1 832.2,1003.9 833.4,1003.5 834.7,1003.0 836.0,1003.5 837.2,1004.0 838.5,1003.3 839.8,1003.2 841.0,1002.2 842.3,1004.1 843.6,1004.7 844.8,1001.5 846.1,1004.6 847.4,1002.3 848.7,1002.7 849.9,1000.9 851.2,1004.1 852.5,1001.2 853.7,1004.4 855.0,1004.2 856.3,1002.1 857.5,1004.2 858.8,1002.4 860.1,1002.0 861.3,998.7 862.6,1001.5 863.9,1003.1 865.2,1000.7 866.4,1004.8 867.7,1004.5 869.0,1002.1 870.2,1003.7 871.5,1003.1 872.8,1000.8 874.0,1003.3 875.3,1004.7 876.6,1004.2 877.8,1002.3 879.1,1001.3 880.4,1001.3 881.7,1002.7 882.9,1003.8 884.2,1004.3 885.5,1003.8 886.7,1003.9 888.0,1000.5 889.3,1002.9 890.5,1004.3 891.8,1001.7 893.1,1002.6 894.3,1004.8 895.6,999.9 896.9,1000.1 898.2,1003.6 899.4,1000.6 900.7,1002.6 902.0,1001.4 903.2,1001.5 904.5,1001.0 905.8,1002.6 907.0,1004.2 908.3,1000.5 909.6,1002.5 910.8,1002.5 912.1,1000.7 913.4,1001.1 914.7,999.2 915.9,1002.8 917.2,1001.3 918.5,1004.6 919.7,1004.5 921.0,1003.6 922.3,1003.4 923.5,1005.8 924.8,1001.5" stroke="#6cbd45" stroke-width="2" marker-start="url(#n3)" marker-mid="url(#n3)" marker-end="url(#n3)"/>
<path d="M437.4 1435.2H775.0M925.8 1435.2H1087.2" stroke="#1c1a1b" stroke-width="9.0" stroke-linecap="round"/>
<path d="M775.0 1435.2L776.2 1002.9M923.4 1008.9L925.8 1435.2" stroke="#1c1a1b" stroke-width="2.3" stroke-dasharray="25 15" stroke-dashoffset="36"/>
<polyline points="776.2,1002.9 777.5,1003.5 778.7,1002.1 780.0,1004.0 781.3,1005.1 782.5,1002.1 783.8,1002.7 785.1,1002.5 786.4,999.5 787.6,1004.4 788.9,1002.8 790.2,1002.4 791.4,1002.7 792.7,1002.9 794.0,1002.7 795.2,1004.5 796.5,1003.4 797.8,1003.8 799.0,1002.3 800.3,1003.1 801.6,1002.4 802.9,1002.5 804.1,1001.7 805.4,1001.8 806.7,1004.8 807.9,1002.5 809.2,1003.6 810.5,1004.6 811.7,1003.2 813.0,1001.8 814.3,1002.0 815.5,1004.6 816.8,1004.2 818.1,1002.3 819.4,1001.3 820.6,1004.7 821.9,1004.6 823.2,1002.3 824.4,1002.6 825.7,1001.8 827.0,1004.2 828.2,1003.0 829.5,1001.8 830.8,1003.5 832.0,1003.4 833.3,1004.8 834.6,1001.8 835.9,1003.2 837.1,1003.4 838.4,1002.3 839.7,1001.5 840.9,1001.4 842.2,1003.5 843.5,1002.4 844.7,1003.3 846.0,1001.5 847.3,1001.7 848.5,1002.2 849.8,1001.5 851.1,1002.8 852.4,1002.5 853.6,1004.2 854.9,1001.9 856.2,1003.7 857.4,1002.5 858.7,1004.9 860.0,1003.2 861.2,1002.2 862.5,1002.2 863.8,1002.4 865.0,1003.8 866.3,1002.0 867.6,1002.0 868.9,1002.3 870.1,1003.2 871.4,1004.2 872.7,1002.4 873.9,1004.7 875.2,1000.7 876.5,1003.3 877.7,1003.6 879.0,1002.8 880.3,1004.4 881.5,1000.7 882.8,1000.2 884.1,1000.9 885.4,1002.1 886.6,1000.3 887.9,1003.3 889.2,1002.6 890.4,1004.1 891.7,1002.8 893.0,1000.2 894.2,1001.5 895.5,1002.1 896.8,1002.2 898.0,1001.6 899.3,1001.7 900.6,1002.6 901.9,1002.2 903.1,1004.5 904.4,1002.6 905.7,1001.3 906.9,1003.8 908.2,1003.5 909.5,1003.4 910.7,1006.8 912.0,1003.9 913.3,1000.3 914.5,1004.4 915.8,1003.3 917.1,999.6 918.4,1002.6 919.6,1000.1 920.9,1000.4 922.2,1002.5 923.4,1008.9" stroke="#1c1a1b" stroke-width="2" marker-start="url(#n4)" marker-mid="url(#n4)" marker-end="url(#n4)"/>
<path d="M437.4 1435.2H763.4M924.8 1435.2H1087.2" stroke="#2d5fb4" stroke-width="9.0" stroke-linecap="round"/>
<path d="M763.4 1435.2L764.6 1001.9M923.3 998.5L924.8 1435.2" stroke="#2d5fb4" stroke-width="2.3" stroke-dasharray="2.4 7.6" stroke-dashoffset="21"/>
<polyline points="764.6,1001.9 765.9,1004.6 767.1,1002.5 768.4,1004.1 769.7,1004.2 770.9,1001.6 772.2,1002.0 773.5,1002.4 774.8,1003.6 776.0,1001.6 777.3,1003.1 778.6,1001.6 779.8,1002.5 781.1,1005.0 782.4,1002.2 783.6,1002.1 784.9,1001.9 786.2,1002.8 787.4,1001.1 788.7,1001.9 790.0,1003.5 791.3,1004.4 792.5,1004.3 793.8,1004.3 795.1,1002.1 796.3,1004.8 797.6,1001.7 798.9,1005.0 800.1,1002.4 801.4,1004.2 802.7,1003.1 803.9,1004.4 805.2,1001.7 806.5,1004.4 807.8,1003.3 809.0,1002.7 810.3,1003.3 811.6,1004.2 812.8,1003.9 814.1,1001.5 815.4,1004.5 816.6,1004.9 817.9,1001.5 819.2,1001.6 820.4,1002.3 821.7,1003.2 823.0,1001.3 824.3,1003.4 825.5,1004.9 826.8,1003.3 828.1,1002.9 829.3,1002.8 830.6,1001.5 831.9,1004.7 833.1,1001.6 834.4,1002.9 835.7,1002.0 836.9,1003.3 838.2,1003.7 839.5,1003.6 840.8,1003.8 842.0,1003.1 843.3,1002.5 844.6,1001.5 845.8,1004.2 847.1,1003.1 848.4,1002.7 849.6,1001.5 850.9,1001.9 852.2,1002.3 853.4,1002.1 854.7,1003.0 856.0,1001.5 857.3,1001.3 858.5,1002.5 859.8,1004.4 861.1,1003.0 862.3,1003.7 863.6,1004.0 864.9,1003.6 866.1,1001.3 867.4,1003.3 868.7,1003.0 869.9,1003.2 871.2,1004.1 872.5,1002.3 873.8,1003.0 875.0,1000.6 876.3,1002.0 877.6,1000.3 878.8,1000.9 880.1,1002.6 881.4,1004.8 882.6,1003.9 883.9,1004.3 885.2,1001.3 886.4,1004.2 887.7,1006.4 889.0,1003.3 890.3,1002.5 891.5,1001.1 892.8,1003.4 894.1,1004.1 895.3,1003.5 896.6,1000.0 897.9,1002.0 899.1,1003.5 900.4,1004.2 901.7,1004.6 902.9,1003.2 904.2,1001.6 905.5,1002.5 906.8,1000.5 908.0,999.4 909.3,1001.8 910.6,1003.1 911.8,1000.4 913.1,1004.6 914.4,1000.6 915.6,999.8 916.9,1000.4 918.2,1004.6 919.4,1001.5 920.7,1000.1 922.0,1001.9 923.3,998.5" stroke="#2d5fb4" stroke-width="2" marker-start="url(#n5)" marker-mid="url(#n5)" marker-end="url(#n5)"/>
<path d="M437.4 1435.2H751.1M923.9 1435.2H1087.2" stroke="#ee2e27" stroke-width="9.0" stroke-linecap="round"/>
<path d="M751.1 1435.2L752.3 1005.1M922.4 1001.0L923.9 1435.2" stroke="#ee2e27" stroke-width="2.3" stroke-dasharray="19.6 8 4.6 8" stroke-dashoffset="22"/>
<polyline points="752.3,1005.1 753.6,1002.5 754.8,1002.4 756.1,1002.6 757.4,1003.6 758.6,1002.0 759.9,1004.9 761.2,1002.5 762.5,1003.1 763.7,1002.7 765.0,1004.9 766.3,1001.7 767.5,1005.1 768.8,1004.5 770.1,1003.3 771.3,1003.1 772.6,1004.5 773.9,1004.1 775.1,1001.8 776.4,1004.0 777.7,1003.5 779.0,1004.7 780.2,1003.1 781.5,1002.6 782.8,1002.4 784.0,1004.3 785.3,1003.8 786.6,1002.7 787.8,1001.5 789.1,1002.3 790.4,1004.3 791.6,1004.8 792.9,1003.9 794.2,1003.1 795.5,1004.1 796.7,1002.1 798.0,1004.1 799.3,1004.6 800.5,1002.8 801.8,1002.2 803.1,1004.3 804.3,1003.8 805.6,1004.1 806.9,1004.9 808.1,1002.5 809.4,1004.8 810.7,1002.7 812.0,1002.6 813.2,1003.0 814.5,1004.8 815.8,1004.9 817.0,1003.0 818.3,1003.1 819.6,1004.9 820.8,1004.9 822.1,1002.0 823.4,1003.7 824.6,1002.2 825.9,1004.2 827.2,1003.9 828.5,1001.4 829.7,1000.4 831.0,1003.3 832.3,1003.0 833.5,1002.1 834.8,1003.7 836.1,1002.3 837.3,1004.0 838.6,1002.2 839.9,1004.8 841.1,1004.2 842.4,1004.7 843.7,1004.5 845.0,1001.8 846.2,1003.0 847.5,1001.7 848.8,1000.9 850.0,1004.1 851.3,1001.7 852.6,1000.8 853.8,1003.6 855.1,1004.6 856.4,1002.9 857.6,1002.6 858.9,1001.9 860.2,1002.4 861.5,1003.6 862.7,1008.9 864.0,1003.4 865.3,1002.8 866.5,1004.1 867.8,1003.6 869.1,1000.9 870.3,1003.0 871.6,1004.3 872.9,1001.8 874.1,1003.3 875.4,1002.5 876.7,1003.1 878.0,1004.4 879.2,1001.4 880.5,1002.2 881.8,1000.2 883.0,1004.9 884.3,1002.1 885.6,1002.8 886.8,1002.8 888.1,1001.3 889.4,1003.7 890.6,1002.9 891.9,1004.3 893.2,1002.0 894.5,1002.7 895.7,1004.7 897.0,1003.8 898.3,1002.9 899.5,1002.1 900.8,1004.5 902.1,1001.6 903.3,1000.5 904.6,1003.2 905.9,1004.7 907.1,1004.2 908.4,1000.7 909.7,1002.0 911.0,1004.3 912.2,1004.1 913.5,1000.1 914.8,1001.0 916.0,1000.9 917.3,1004.3 918.6,999.0 919.8,1003.6 921.1,1001.6 922.4,1001.0" stroke="#ee2e27" stroke-width="2" marker-start="url(#n0)" marker-mid="url(#n0)" marker-end="url(#n0)"/>
<path d="M437.4 1435.2H738.7M923.1 1435.2H1087.2" stroke="#5cc5d8" stroke-width="9.0" stroke-linecap="round"/>
<path d="M738.7 1435.2L739.9 1001.9M921.4 1003.9L923.1 1435.2" stroke="#5cc5d8" stroke-width="2.3" stroke-dasharray="25 15" stroke-dashoffset="11"/>
<polyline points="739.9,1001.9 741.2,1004.3 742.4,1003.1 743.7,1002.6 745.0,1005.0 746.2,1002.5 747.5,1002.3 748.8,1003.2 750.1,1002.0 751.3,1002.7 752.6,1003.9 753.9,1002.3 755.1,1003.4 756.4,1002.8 757.7,1001.7 758.9,1002.7 760.2,1002.4 761.5,1002.3 762.7,1004.5 764.0,1005.0 765.3,1004.9 766.6,1003.5 767.8,1001.7 769.1,1003.6 770.4,1001.8 771.6,1004.1 772.9,1004.6 774.2,1003.7 775.4,1002.1 776.7,1001.6 778.0,1003.2 779.2,1003.7 780.5,1002.3 781.8,1003.6 783.1,1004.0 784.3,1002.3 785.6,1004.8 786.9,1002.3 788.1,1001.6 789.4,1004.7 790.7,1002.2 791.9,1005.0 793.2,1004.6 794.5,1004.0 795.7,1001.4 797.0,1004.9 798.3,1003.4 799.6,1003.4 800.8,1004.4 802.1,1001.4 803.4,1004.2 804.6,1001.7 805.9,1003.0 807.2,1002.3 808.4,1002.2 809.7,1002.5 811.0,1001.9 812.2,1001.7 813.5,1004.5 814.8,1004.7 816.1,1003.3 817.3,1004.6 818.6,1002.7 819.9,1001.4 821.1,1003.0 822.4,1009.8 823.7,1004.5 824.9,1002.9 826.2,1002.1 827.5,1001.8 828.7,1002.0 830.0,1003.1 831.3,1001.5 832.6,1002.8 833.8,1002.2 835.1,1004.9 836.4,1003.0 837.6,1004.6 838.9,1004.1 840.2,1003.7 841.4,1002.6 842.7,1004.6 844.0,1002.0 845.2,1003.3 846.5,1004.0 847.8,1000.9 849.1,1002.1 850.3,1003.5 851.6,1004.4 852.9,1002.8 854.1,1001.6 855.4,1002.7 856.7,1003.6 857.9,1004.4 859.2,1008.9 860.5,1001.5 861.7,1004.2 863.0,1000.6 864.3,1001.7 865.6,1003.1 866.8,1004.0 868.1,1002.8 869.4,1000.6 870.6,1004.3 871.9,1003.8 873.2,1004.5 874.4,1001.5 875.7,1000.5 877.0,1002.3 878.2,1003.5 879.5,1000.3 880.8,1002.1 882.1,1000.3 883.3,1003.1 884.6,1004.2 885.9,1004.6 887.1,1003.6 888.4,1002.8 889.7,1001.1 890.9,1002.6 892.2,1003.6 893.5,1000.3 894.7,1001.9 896.0,1001.8 897.3,1000.6 898.6,1001.4 899.8,1003.7 901.1,999.8 902.4,1004.1 903.6,1004.1 904.9,1001.4 906.2,1001.7 907.4,1003.7 908.7,1001.0 910.0,1004.5 911.2,1002.3 912.5,999.4 913.8,999.7 915.1,1001.5 916.3,1000.3 917.6,1001.0 918.9,1003.7 920.1,1003.8 921.4,1003.9" stroke="#5cc5d8" stroke-width="2" marker-start="url(#n1)" marker-mid="url(#n1)" marker-end="url(#n1)"/>
<path d="M437.4 1435.2H726.4M922.5 1435.2H1087.2" stroke="#a75cab" stroke-width="9.0" stroke-linecap="round"/>
<path d="M726.4 1435.2L727.6 1004.9M920.5 1001.1L922.5 1435.2" stroke="#a75cab" stroke-width="4.2" stroke-dashoffset="4"/>
<polyline points="727.6,1004.9 728.9,1002.4 730.1,1004.3 731.4,1003.3 732.7,1003.9 733.9,1005.0 735.2,1005.2 736.5,1002.8 737.8,1003.1 739.0,1003.5 740.3,1004.6 741.6,1004.1 742.8,1003.5 744.1,1004.5 745.4,1003.2 746.6,1002.3 747.9,1004.6 749.2,1001.9 750.4,1003.4 751.7,1001.7 753.0,1001.8 754.3,1005.0 755.5,1002.8 756.8,1004.3 758.1,1003.0 759.3,1002.0 760.6,1003.6 761.9,1002.9 763.1,1002.8 764.4,1004.5 765.7,1003.6 766.9,1004.1 768.2,1003.4 769.5,1002.4 770.8,1004.6 772.0,1003.2 773.3,1003.3 774.6,1003.7 775.8,1002.1 777.1,1003.9 778.4,1002.2 779.6,1004.9 780.9,1003.5 782.2,1004.7 783.4,1002.0 784.7,1002.7 786.0,1004.3 787.3,1003.7 788.5,1004.6 789.8,1001.8 791.1,1001.8 792.3,1001.8 793.6,1002.8 794.9,1004.1 796.1,1003.4 797.4,1002.6 798.7,1003.5 799.9,1004.8 801.2,1003.1 802.5,1004.7 803.8,1004.2 805.0,1002.0 806.3,1002.7 807.6,1002.0 808.8,1002.4 810.1,1002.5 811.4,1004.1 812.6,1002.3 813.9,1004.5 815.2,1002.4 816.4,1003.7 817.7,1004.4 819.0,1002.3 820.3,1003.9 821.5,1004.8 822.8,1002.0 824.1,1001.3 825.3,1002.2 826.6,1001.2 827.9,1001.9 829.1,1001.3 830.4,1002.3 831.7,1001.8 832.9,1001.8 834.2,1004.5 835.5,1003.6 836.8,1002.4 838.0,1003.6 839.3,1001.4 840.6,1004.7 841.8,1004.4 843.1,1003.6 844.4,1003.5 845.6,1001.5 846.9,1007.9 848.2,1001.5 849.4,1000.8 850.7,1004.7 852.0,1000.9 853.3,1002.1 854.5,1004.3 855.8,1001.3 857.1,1004.4 858.3,1003.2 859.6,1003.9 860.9,1003.2 862.1,1004.2 863.4,1003.2 864.7,1002.4 865.9,1002.8 867.2,1002.5 868.5,1000.8 869.8,1001.0 871.0,1004.4 872.3,1001.5 873.6,1001.2 874.8,1000.7 876.1,1003.1 877.4,1000.5 878.6,1002.3 879.9,1002.7 881.2,1002.5 882.4,1002.9 883.7,1001.5 885.0,1002.3 886.3,1000.6 887.5,1002.6 888.8,1004.7 890.1,1004.1 891.3,1002.8 892.6,1002.5 893.9,1000.7 895.1,1001.9 896.4,1004.1 897.7,1003.4 898.9,1002.1 900.2,1000.7 901.5,1001.1 902.8,1001.5 904.0,1003.6 905.3,1001.8 906.6,1000.4 907.8,1004.7 909.1,1000.6 910.4,1001.3 911.6,999.2 912.9,1000.6 914.2,1003.6 915.4,1005.0 916.7,1002.5 918.0,1003.0 919.3,998.7 920.5,1001.1" stroke="#a75cab" stroke-width="2" marker-start="url(#n2)" marker-mid="url(#n2)" marker-end="url(#n2)"/>
<path d="M437.4 1435.2H713.9M921.9 1435.2H1087.2" stroke="#6cbd45" stroke-width="9.0" stroke-linecap="round"/>
<path d="M713.9 1435.2L715.1 1004.7M920.7 1002.3L921.9 1435.2" stroke="#6cbd45" stroke-width="2.3" stroke-dasharray="2.4 7.6" stroke-dashoffset="33"/>
<polyline points="715.1,1004.7 716.4,1002.9 717.6,1003.2 718.9,1003.8 720.2,1003.8 721.4,1002.7 722.7,1003.6 724.0,1002.8 725.3,1005.3 726.5,1005.0 727.8,1004.7 729.1,1003.2 730.3,1003.2 731.6,1002.2 732.9,1002.2 734.1,1002.4 735.4,1004.1 736.7,1005.1 737.9,1002.1 739.2,1002.0 740.5,1005.2 741.8,1005.2 743.0,1004.6 744.3,1004.0 745.6,1002.7 746.8,1003.6 748.1,1002.9 749.4,1002.3 750.6,1004.6 751.9,1004.1 753.2,1001.8 754.4,1003.3 755.7,1003.5 757.0,1003.2 758.3,1003.2 759.5,1002.6 760.8,1002.1 762.1,1002.9 763.3,1002.9 764.6,1003.1 765.9,1004.3 767.1,1002.4 768.4,1004.4 769.7,1004.2 770.9,1003.9 772.2,1003.3 773.5,1002.2 774.8,1003.8 776.0,1002.9 777.3,1003.5 778.6,1003.5 779.8,1001.6 781.1,1002.8 782.4,1005.0 783.6,1001.9 784.9,1003.3 786.2,1001.6 787.4,1004.6 788.7,1001.6 790.0,1002.7 791.3,1002.8 792.5,1003.2 793.8,1001.5 795.1,1002.0 796.3,1003.1 797.6,1003.7 798.9,1003.6 800.1,1003.3 801.4,1004.4 802.7,1004.2 803.9,1002.5 805.2,1002.1 806.5,1001.6 807.8,1004.4 809.0,1003.8 810.3,1004.3 811.6,1002.6 812.8,1003.8 814.1,1003.8 815.4,1004.7 816.6,1002.0 817.9,1001.4 819.2,1004.5 820.4,1003.1 821.7,1001.9 823.0,1001.6 824.3,1003.6 825.5,1004.7 826.8,1001.9 828.1,1002.2 829.3,1003.4 830.6,1001.0 831.9,1002.1 833.1,1002.7 834.4,1002.6 835.7,1004.6 836.9,1001.1 838.2,1000.9 839.5,1004.3 840.8,1001.8 842.0,1002.5 843.3,1003.3 844.6,1002.5 845.8,1004.4 847.1,1003.4 848.4,1003.5 849.6,1002.0 850.9,1002.7 852.2,1004.8 853.4,1003.7 854.7,1003.3 856.0,1003.3 857.3,1001.5 858.5,1001.3 859.8,1000.7 861.1,1000.8 862.3,1002.7 863.6,1002.4 864.9,1002.2 866.1,1002.6 867.4,1004.7 868.7,1004.4 869.9,1001.3 871.2,1001.4 872.5,1003.5 873.8,1004.0 875.0,1002.2 876.3,1000.9 877.6,1004.6 878.8,1001.8 880.1,1003.8 881.4,1003.7 882.6,1002.8 883.9,1004.1 885.2,1001.2 886.4,1004.5 887.7,1002.4 889.0,1001.5 890.3,1000.7 891.5,1002.1 892.8,1004.3 894.1,1000.7 895.3,1000.0 896.6,1004.8 897.9,1000.1 899.1,1001.6 900.4,1006.6 901.7,1002.9 902.9,1004.1 904.2,1005.4 905.5,1000.0 906.8,1004.9 908.0,1001.8 909.3,1001.3 910.6,999.6 911.8,1005.0 913.1,1002.9 914.4,1004.4 915.6,1003.2 916.9,999.5 918.2,1004.1 919.4,1006.1 920.7,1002.3" stroke="#6cbd45" stroke-width="2" marker-start="url(#n3)" marker-mid="url(#n3)" marker-end="url(#n3)"/>
<path d="M437.4 1435.2H702.3M921.3 1435.2H1087.2" stroke="#1c1a1b" stroke-width="9.0" stroke-linecap="round"/>
<path d="M702.3 1435.2L703.5 1004.5M919.3 997.6L921.3 1435.2" stroke="#1c1a1b" stroke-width="2.3" stroke-dasharray="25 15" stroke-dashoffset="15"/>
<polyline points="703.5,1004.5 704.8,1004.2 706.0,1003.0 707.3,1004.5 708.6,1002.1 709.8,1004.8 711.1,1005.3 712.4,1003.9 713.7,1003.5 714.9,1003.4 716.2,1004.2 717.5,1002.6 718.7,1002.4 720.0,1003.6 721.3,1002.4 722.5,1002.5 723.8,1004.7 725.1,1004.8 726.3,1004.8 727.6,1005.0 728.9,1002.6 730.2,1004.0 731.4,1004.8 732.7,1003.4 734.0,1004.2 735.2,1005.1 736.5,1003.8 737.8,1002.4 739.0,1002.8 740.3,1001.8 741.6,1003.6 742.8,1001.8 744.1,1003.9 745.4,1003.5 746.7,1002.6 747.9,1003.6 749.2,1004.6 750.5,1002.7 751.7,1002.0 753.0,1003.9 754.3,1003.7 755.5,1004.1 756.8,1002.7 758.1,1003.4 759.3,1004.4 760.6,1002.0 761.9,1005.1 763.2,1002.2 764.4,1002.1 765.7,1004.8 767.0,1005.1 768.2,1002.8 769.5,1003.1 770.8,1004.5 772.0,1003.6 773.3,1004.8 774.6,1003.6 775.8,1003.2 777.1,1001.9 778.4,1003.8 779.7,1004.5 780.9,1001.6 782.2,1002.8 783.5,1004.6 784.7,1004.9 786.0,1007.4 787.3,1004.2 788.5,1003.7 789.8,1004.1 791.1,1001.7 792.3,1002.1 793.6,1002.6 794.9,999.8 796.2,1002.1 797.4,1003.6 798.7,996.4 800.0,1004.9 801.2,1004.5 802.5,1004.5 803.8,1002.0 805.0,1001.4 806.3,1002.2 807.6,1003.9 808.8,1004.8 810.1,1001.3 811.4,1004.4 812.7,1001.9 813.9,1003.2 815.2,1003.7 816.5,1003.4 817.7,1004.7 819.0,1004.5 820.3,1001.6 821.5,1003.2 822.8,1002.3 824.1,1003.7 825.3,1003.1 826.6,1001.8 827.9,1002.4 829.2,1003.4 830.4,1003.1 831.7,1001.0 833.0,1004.8 834.2,1003.3 835.5,1000.0 836.8,1004.5 838.0,1004.7 839.3,1001.8 840.6,1003.1 841.8,1002.7 843.1,1003.7 844.4,1003.3 845.7,1003.0 846.9,1001.5 848.2,1004.5 849.5,1004.1 850.7,1004.2 852.0,1002.9 853.3,1002.9 854.5,1002.0 855.8,1000.6 857.1,1000.9 858.3,1003.8 859.6,1003.1 860.9,1002.6 862.2,1001.4 863.4,1002.6 864.7,1004.2 866.0,1004.7 867.2,1003.4 868.5,1002.1 869.8,1004.1 871.0,997.9 872.3,1003.1 873.6,1000.4 874.8,1001.6 876.1,1000.3 877.4,1002.4 878.7,1002.6 879.9,1000.2 881.2,1002.9 882.5,1002.2 883.7,1004.8 885.0,1004.1 886.3,1003.5 887.5,1003.7 888.8,1002.7 890.1,1000.4 891.3,1003.9 892.6,1004.7 893.9,1002.0 895.2,1003.0 896.4,1004.7 897.7,1000.9 899.0,999.9 900.2,1000.9 901.5,1000.6 902.8,1000.8 904.0,999.5 905.3,1004.3 906.6,1000.0 907.8,1001.0 909.1,999.5 910.4,1000.0 911.7,1001.8 912.9,1001.1 914.2,1003.6 915.5,1003.1 916.7,1004.3 918.0,1004.3 919.3,997.6" stroke="#1c1a1b" stroke-width="2" marker-start="url(#n4)" marker-mid="url(#n4)" marker-end="url(#n4)"/>
<path d="M437.4 1435.2H689.4M920.9 1435.2H1087.2" stroke="#2d5fb4" stroke-width="9.0" stroke-linecap="round"/>
<path d="M689.4 1435.2L690.6 1003.2M919.1 1003.9L920.9 1435.2" stroke="#2d5fb4" stroke-width="2.3" stroke-dasharray="2.4 7.6" stroke-dashoffset="0"/>
<polyline points="690.6,1003.2 691.9,1003.3 693.1,1003.6 694.4,1002.2 695.7,1002.9 696.9,1003.3 698.2,1002.9 699.5,1002.9 700.8,1004.2 702.0,1004.3 703.3,1003.2 704.6,1004.9 705.8,1002.5 707.1,1002.7 708.4,1003.1 709.6,1004.2 710.9,1001.9 712.2,1002.8 713.4,1002.3 714.7,1002.8 716.0,1003.4 717.3,1004.3 718.5,1004.7 719.8,1002.5 721.1,1003.1 722.3,1004.5 723.6,1004.6 724.9,1003.6 726.1,1003.1 727.4,1002.6 728.7,1003.6 729.9,1004.4 731.2,1002.9 732.5,1004.8 733.8,1004.7 735.0,1004.0 736.3,1003.3 737.6,1005.2 738.8,1004.8 740.1,1002.8 741.4,1003.8 742.6,1003.7 743.9,1003.6 745.2,1004.6 746.4,1001.8 747.7,1002.0 749.0,1003.0 750.3,1004.9 751.5,1002.8 752.8,1002.3 754.1,1004.0 755.3,1004.7 756.6,1002.6 757.9,1002.9 759.1,1003.8 760.4,1004.1 761.7,1001.9 762.9,1004.9 764.2,1004.1 765.5,1003.4 766.8,1003.0 768.0,1004.2 769.3,1003.0 770.6,1004.7 771.8,1003.2 773.1,1004.8 774.4,1003.7 775.6,1002.5 776.9,1004.4 778.2,1004.6 779.4,1001.6 780.7,1003.5 782.0,1004.9 783.3,1003.5 784.5,1004.1 785.8,1002.1 787.1,1001.9 788.3,1002.3 789.6,1002.6 790.9,1003.0 792.1,1004.9 793.4,1002.7 794.7,1003.6 795.9,1004.0 797.2,1002.9 798.5,1004.1 799.8,1001.4 801.0,1002.8 802.3,1002.2 803.6,1004.6 804.8,1004.9 806.1,1004.4 807.4,1004.3 808.6,1002.9 809.9,1002.5 811.2,1001.6 812.4,1004.6 813.7,1008.1 815.0,1002.5 816.3,1003.4 817.5,1004.7 818.8,1004.6 820.1,1004.9 821.3,1003.7 822.6,1004.3 823.9,1001.3 825.1,1002.5 826.4,1004.6 827.7,1002.3 828.9,1002.9 830.2,997.9 831.5,1004.2 832.8,1003.5 834.0,1003.0 835.3,1002.9 836.6,1004.3 837.8,1001.6 839.1,1004.3 840.4,1003.0 841.6,1002.6 842.9,1003.1 844.2,1003.5 845.4,1001.9 846.7,997.8 848.0,1002.0 849.3,1001.7 850.5,1001.0 851.8,1002.8 853.1,1003.1 854.3,1001.0 855.6,1000.7 856.9,1001.1 858.1,1004.0 859.4,1000.9 860.7,1002.0 861.9,1002.6 863.2,1008.6 864.5,1004.2 865.8,1001.0 867.0,1003.6 868.3,1002.7 869.6,1002.9 870.8,1003.1 872.1,1002.9 873.4,1003.6 874.6,1000.7 875.9,1002.5 877.2,1003.5 878.4,1003.9 879.7,1001.0 881.0,1001.1 882.3,1000.9 883.5,1002.0 884.8,1003.3 886.1,1003.9 887.3,1003.1 888.6,1004.5 889.9,1003.5 891.1,1003.2 892.4,1004.4 893.7,1004.2 894.9,1004.3 896.2,998.9 897.5,1000.0 898.8,999.8 900.0,1004.4 901.3,1001.7 902.6,1005.0 903.8,1001.3 905.1,1001.5 906.4,1002.1 907.6,1003.5 908.9,1002.3 910.2,1004.9 911.4,1001.2 912.7,1000.4 914.0,1004.6 915.3,998.9 916.5,1004.1 917.8,999.4 919.1,1003.9" stroke="#2d5fb4" stroke-width="2" marker-start="url(#n5)" marker-mid="url(#n5)" marker-end="url(#n5)"/>
<path d="M437.4 1435.2H676.9M920.5 1435.2H1087.2" stroke="#ee2e27" stroke-width="9.0" stroke-linecap="round"/>
<path d="M676.9 1435.2L678.1 1002.2M919.3 1005.2L920.5 1435.2" stroke="#ee2e27" stroke-width="2.3" stroke-dasharray="19.6 8 4.6 8" stroke-dashoffset="10"/>
<polyline points="678.1,1002.2 679.4,1003.0 680.6,1004.8 681.9,1003.0 683.2,1002.2 684.4,1002.5 685.7,1003.2 687.0,1003.6 688.3,1003.3 689.5,1004.8 690.8,1003.9 692.1,1002.4 693.3,1004.1 694.6,1004.5 695.9,1003.6 697.1,1002.6 698.4,1002.3 699.7,1001.9 700.9,1002.0 702.2,1005.0 703.5,1003.8 704.8,1003.4 706.0,1003.0 707.3,1005.0 708.6,1004.1 709.8,1004.0 711.1,1003.2 712.4,1004.1 713.6,1004.2 714.9,1004.7 716.2,1003.0 717.4,1004.3 718.7,1004.6 720.0,1002.1 721.3,1004.0 722.5,1004.3 723.8,1005.0 725.1,1003.5 726.3,1004.1 727.6,1003.2 728.9,1004.2 730.1,1003.6 731.4,1004.8 732.7,1005.1 733.9,1002.0 735.2,1002.7 736.5,1003.8 737.8,1004.6 739.0,1002.9 740.3,1003.1 741.6,1003.1 742.8,1001.8 744.1,1004.0 745.4,1001.9 746.6,1003.7 747.9,1001.8 749.2,1001.8 750.4,1003.7 751.7,1003.4 753.0,1002.0 754.3,1002.0 755.5,1004.9 756.8,1003.4 758.1,1004.8 759.3,1002.2 760.6,1004.2 761.9,1004.0 763.1,1004.0 764.4,1002.6 765.7,1004.0 766.9,1003.6 768.2,1002.0 769.5,1003.6 770.8,1001.8 772.0,1001.8 773.3,1003.5 774.6,1004.3 775.8,1001.7 777.1,1003.1 778.4,1003.8 779.6,1004.9 780.9,1003.4 782.2,1005.0 783.4,1002.8 784.7,1003.6 786.0,1004.0 787.3,1004.3 788.5,1002.3 789.8,1001.8 791.1,1005.0 792.3,1003.1 793.6,1004.8 794.9,1004.9 796.1,1001.4 797.4,1003.9 798.7,1003.1 799.9,1001.7 801.2,1002.6 802.5,1003.7 803.8,1002.4 805.0,1002.1 806.3,1002.6 807.6,1003.5 808.8,1002.1 810.1,1003.6 811.4,1003.6 812.6,1003.9 813.9,1001.3 815.2,1004.5 816.4,1004.8 817.7,1003.8 819.0,1004.5 820.3,1006.5 821.5,1001.3 822.8,1001.3 824.1,1004.1 825.3,1003.8 826.6,1003.4 827.9,1001.2 829.1,1003.9 830.4,1001.9 831.7,1002.4 832.9,1001.4 834.2,1003.8 835.5,1001.2 836.8,1000.9 838.0,1003.3 839.3,1001.1 840.6,1001.9 841.8,1004.0 843.1,1003.1 844.4,1003.9 845.6,1001.1 846.9,1003.9 848.2,1001.2 849.4,1003.7 850.7,1001.1 852.0,1001.5 853.3,1001.8 854.5,1003.7 855.8,1001.8 857.1,1002.2 858.3,1003.4 859.6,1000.6 860.9,995.1 862.1,1002.0 863.4,1000.8 864.7,1003.4 865.9,1004.1 867.2,1003.4 868.5,1002.3 869.8,1000.7 871.0,1001.0 872.3,1003.8 873.6,1001.1 874.8,1000.7 876.1,1002.1 877.4,1002.5 878.6,1002.6 879.9,1004.0 881.2,1003.7 882.4,1002.4 883.7,1002.4 885.0,1002.3 886.3,1002.7 887.5,1000.6 888.8,1004.1 890.1,1004.0 891.3,1000.1 892.6,1001.9 893.9,1001.7 895.1,1002.5 896.4,1002.7 897.7,1003.1 898.9,1002.1 900.2,1000.4 901.5,1004.8 902.8,999.7 904.0,1004.0 905.3,999.2 906.6,1000.3 907.8,1004.3 909.1,1001.2 910.4,1001.5 911.6,998.1 912.9,1000.0 914.2,1004.4 915.4,1003.8 916.7,999.4 918.0,996.0 919.3,1005.2" stroke="#ee2e27" stroke-width="2" marker-start="url(#n0)" marker-mid="url(#n0)" marker-end="url(#n0)"/>
<path d="M437.4 1435.2H665.6M920.2 1435.2H1087.2" stroke="#5cc5d8" stroke-width="9.0" stroke-linecap="round"/>
<path d="M665.6 1435.2L666.8 1003.9M918.1 1004.9L920.2 1435.2" stroke="#5cc5d8" stroke-width="2.3" stroke-dasharray="25 15" stroke-dashoffset="11"/>
<polyline points="666.8,1003.9 668.1,1002.6 669.3,1002.4 670.6,1005.1 671.9,1003.7 673.1,1004.2 674.4,1005.2 675.7,1003.9 677.0,1004.4 678.2,1002.9 679.5,1005.4 680.8,1003.9 682.0,1004.2 683.3,1004.0 684.6,1003.9 685.8,1002.0 687.1,1003.0 688.4,1004.1 689.6,1004.2 690.9,1003.9 692.2,1002.2 693.5,1003.3 694.7,1002.1 696.0,1004.7 697.3,1003.6 698.5,1002.9 699.8,1002.5 701.1,1005.0 702.3,1004.0 703.6,1002.3 704.9,1003.2 706.1,1004.9 707.4,1003.9 708.7,1003.6 710.0,1005.4 711.2,1003.9 712.5,1003.7 713.8,1002.0 715.0,1003.5 716.3,1003.5 717.6,1005.1 718.8,1005.2 720.1,1003.7 721.4,1003.1 722.6,1004.6 723.9,1003.3 725.2,1005.0 726.5,1004.3 727.7,1003.5 729.0,1004.2 730.3,1003.7 731.5,1002.8 732.8,1004.7 734.1,1003.0 735.3,1001.9 736.6,1002.4 737.9,1003.9 739.1,1003.0 740.4,1004.9 741.7,1002.7 743.0,1002.6 744.2,1004.5 745.5,1003.9 746.8,1003.1 748.0,1002.9 749.3,1003.0 750.6,1002.6 751.8,1002.2 753.1,1003.5 754.4,1005.2 755.6,1002.3 756.9,1004.8 758.2,1003.3 759.5,1002.6 760.7,1002.3 762.0,1003.3 763.3,1002.9 764.5,1001.7 765.8,1002.4 767.1,1004.1 768.3,1001.8 769.6,1002.7 770.9,1004.1 772.1,1004.1 773.4,1003.5 774.7,1003.3 776.0,1002.1 777.2,1003.5 778.5,1002.5 779.8,1003.9 781.0,1003.4 782.3,1003.9 783.6,1003.7 784.8,1002.5 786.1,1004.2 787.4,1003.3 788.6,1002.3 789.9,1005.0 791.2,1003.6 792.5,1002.2 793.7,1002.6 795.0,1002.0 796.3,1004.1 797.5,1002.8 798.8,1003.9 800.1,1004.7 801.3,1002.1 802.6,1003.9 803.9,1002.3 805.1,1002.1 806.4,1002.0 807.7,1003.9 809.0,1002.0 810.2,1004.1 811.5,1002.5 812.8,1005.0 814.0,1002.0 815.3,1004.7 816.6,1002.2 817.8,1002.5 819.1,1004.7 820.4,1002.7 821.6,1002.2 822.9,1001.8 824.2,1001.1 825.5,1004.0 826.7,999.1 828.0,1003.5 829.3,1002.3 830.5,1004.2 831.8,1002.7 833.1,1004.0 834.3,1004.1 835.6,1001.9 836.9,1002.7 838.1,1001.8 839.4,1002.2 840.7,1001.4 842.0,1003.0 843.2,1004.9 844.5,1000.8 845.8,1003.9 847.0,1001.5 848.3,1004.1 849.6,1002.7 850.8,1003.7 852.1,1002.1 853.4,1004.6 854.6,1004.6 855.9,1002.9 857.2,1001.2 858.5,1002.9 859.7,1004.4 861.0,1000.5 862.3,998.6 863.5,1003.5 864.8,1002.3 866.1,1003.7 867.3,1001.7 868.6,1003.0 869.9,1001.2 871.1,1004.5 872.4,1001.1 873.7,1000.7 875.0,1003.7 876.2,1003.8 877.5,1000.7 878.8,1002.9 880.0,1003.0 881.3,1002.1 882.6,1002.2 883.8,1000.9 885.1,1001.6 886.4,1001.4 887.6,1002.8 888.9,1002.3 890.2,1000.5 891.5,1000.4 892.7,1001.7 894.0,1001.8 895.3,1003.4 896.5,1002.4 897.8,1003.9 899.1,1002.3 900.3,1004.7 901.6,1003.6 902.9,1003.4 904.1,1002.3 905.4,1001.1 906.7,1004.5 908.0,1001.3 909.2,1000.5 910.5,1004.1 911.8,1004.3 913.0,1004.5 914.3,1001.2 915.6,1002.7 916.8,1004.3 918.1,1004.9" stroke="#5cc5d8" stroke-width="2" marker-start="url(#n1)" marker-mid="url(#n1)" marker-end="url(#n1)"/>
<path d="M437.4 1435.2H652.9M919.9 1435.2H1087.2" stroke="#a75cab" stroke-width="9.0" stroke-linecap="round"/>
<path d="M652.9 1435.2L654.1 1004.9M918.1 1000.6L919.9 1435.2" stroke="#a75cab" stroke-width="4.2" stroke-dashoffset="10"/>
<polyline points="654.1,1004.9 655.4,1004.2 656.6,1004.4 657.9,1003.0 659.2,1002.1 660.4,1002.5 661.7,1004.5 663.0,1004.4 664.3,1003.4 665.5,1002.5 666.8,1004.4 668.1,1004.5 669.3,1003.8 670.6,1002.8 671.9,1003.9 673.1,1005.4 674.4,1003.1 675.7,1002.4 676.9,1003.0 678.2,1005.3 679.5,1004.5 680.8,1003.6 682.0,1003.7 683.3,1005.2 684.6,1004.4 685.8,1004.0 687.1,1003.7 688.4,1002.0 689.6,1002.9 690.9,1003.6 692.2,1005.4 693.4,1005.3 694.7,1002.7 696.0,1003.4 697.3,1003.0 698.5,1004.9 699.8,1002.0 701.1,1003.6 702.3,1003.4 703.6,1003.0 704.9,1003.2 706.1,1002.6 707.4,1004.6 708.7,1005.1 709.9,1003.9 711.2,1002.6 712.5,1002.7 713.8,1004.0 715.0,1002.7 716.3,1002.6 717.6,1002.5 718.8,1002.0 720.1,1003.7 721.4,1002.8 722.6,1002.1 723.9,1004.3 725.2,1001.8 726.4,1004.1 727.7,1003.0 729.0,1004.8 730.3,1004.6 731.5,1005.0 732.8,1003.0 734.1,1005.2 735.3,1003.6 736.6,1002.6 737.9,1004.3 739.1,1004.6 740.4,1001.8 741.7,1004.5 742.9,1003.2 744.2,1003.6 745.5,1002.0 746.8,1003.0 748.0,1003.5 749.3,1004.3 750.6,1002.2 751.8,1004.1 753.1,1002.3 754.4,1002.7 755.6,1003.2 756.9,1001.6 758.2,1002.9 759.4,1003.0 760.7,1002.7 762.0,1004.6 763.3,1003.6 764.5,1005.2 765.8,1004.7 767.1,1005.0 768.3,1003.1 769.6,1004.0 770.9,1004.5 772.1,1003.7 773.4,1001.7 774.7,1004.9 775.9,1004.7 777.2,1001.9 778.5,1004.3 779.8,1002.7 781.0,1004.8 782.3,1005.0 783.6,1002.8 784.8,1002.4 786.1,1004.3 787.4,1003.4 788.6,1004.5 789.9,1002.0 791.2,1004.6 792.4,1003.0 793.7,1001.6 795.0,1004.3 796.3,1002.3 797.5,1003.2 798.8,1001.8 800.1,1001.8 801.3,1003.2 802.6,1003.3 803.9,1004.7 805.1,1002.3 806.4,1009.1 807.7,1001.4 808.9,1003.1 810.2,1004.1 811.5,1003.5 812.8,1003.5 814.0,1003.1 815.3,1003.7 816.6,1003.2 817.8,1001.2 819.1,1001.1 820.4,1004.0 821.6,1003.8 822.9,1003.5 824.2,1004.0 825.4,1004.1 826.7,1003.0 828.0,1003.3 829.3,1004.6 830.5,1002.9 831.8,1003.0 833.1,1001.1 834.3,1001.5 835.6,1002.3 836.9,1002.8 838.1,1004.5 839.4,1002.3 840.7,1001.1 841.9,1000.9 843.2,1001.1 844.5,1001.8 845.8,1003.5 847.0,1004.1 848.3,1004.0 849.6,1003.2 850.8,1004.4 852.1,1003.6 853.4,1000.7 854.6,1001.7 855.9,1001.8 857.2,1004.2 858.4,1002.7 859.7,1002.7 861.0,1000.8 862.3,1001.9 863.5,1003.5 864.8,1003.7 866.1,1004.4 867.3,1002.6 868.6,1002.0 869.9,1003.1 871.1,1000.5 872.4,1001.4 873.7,1002.3 874.9,1003.0 876.2,1001.8 877.5,1001.6 878.8,1001.4 880.0,1003.4 881.3,1002.9 882.6,1003.8 883.8,1004.2 885.1,1003.4 886.4,1003.6 887.6,1003.5 888.9,1002.5 890.2,1003.0 891.4,1001.1 892.7,1003.6 894.0,1001.2 895.3,1000.2 896.5,1002.3 897.8,1000.6 899.1,1004.6 900.3,1003.6 901.6,1004.6 902.9,1002.2 904.1,1002.9 905.4,1002.3 906.7,1003.7 907.9,1004.9 909.2,1000.6 910.5,999.5 911.8,1004.0 913.0,1000.6 914.3,1003.0 915.6,1000.5 916.8,998.4 918.1,1000.6" stroke="#a75cab" stroke-width="2" marker-start="url(#n2)" marker-mid="url(#n2)" marker-end="url(#n2)"/>
<path d="M437.4 1435.2H640.0M919.7 1435.2H1087.2" stroke="#6cbd45" stroke-width="9.0" stroke-linecap="round"/>
<path d="M640.0 1435.2L641.2 1002.1M917.9 1004.0L919.7 1435.2" stroke="#6cbd45" stroke-width="2.3" stroke-dasharray="2.4 7.6" stroke-dashoffset="24"/>
<polyline points="641.2,1002.1 642.5,1004.1 643.7,1005.1 645.0,1002.8 646.3,1003.1 647.5,1003.1 648.8,1004.2 650.1,1004.5 651.4,1004.7 652.6,1003.4 653.9,1004.4 655.2,1003.0 656.4,1002.3 657.7,1002.6 659.0,1005.4 660.2,1003.2 661.5,1005.3 662.8,1004.5 664.0,1004.4 665.3,1003.6 666.6,1005.3 667.9,1004.7 669.1,1002.2 670.4,1005.4 671.7,1004.3 672.9,1003.8 674.2,1005.1 675.5,1004.4 676.7,1003.3 678.0,1004.3 679.3,1003.5 680.5,1002.2 681.8,1005.1 683.1,1003.1 684.4,1005.3 685.6,1004.1 686.9,1002.9 688.2,1002.1 689.4,1003.8 690.7,1003.2 692.0,1003.7 693.2,1005.0 694.5,1005.1 695.8,1003.5 697.0,1002.3 698.3,1004.5 699.6,1002.8 700.9,1003.2 702.1,1004.2 703.4,1003.1 704.7,1005.1 705.9,1004.5 707.2,1004.0 708.5,1003.1 709.7,1005.2 711.0,1005.2 712.3,1002.1 713.5,1003.5 714.8,1002.2 716.1,1001.8 717.4,1004.7 718.6,1004.0 719.9,1001.9 721.2,1005.3 722.4,1001.9 723.7,1001.8 725.0,1002.7 726.2,1003.9 727.5,1002.9 728.8,1005.2 730.0,1004.1 731.3,1005.2 732.6,1003.8 733.9,1002.9 735.1,1005.2 736.4,1002.1 737.7,1005.0 738.9,1004.4 740.2,1003.9 741.5,1004.9 742.7,1002.6 744.0,1002.8 745.3,1003.1 746.5,1003.7 747.8,1003.1 749.1,1003.9 750.4,1002.8 751.6,1002.0 752.9,1002.5 754.2,1003.9 755.4,1002.0 756.7,1004.1 758.0,1002.8 759.2,1002.5 760.5,1003.7 761.8,1002.1 763.0,1001.7 764.3,1004.7 765.6,1005.0 766.9,1004.1 768.1,1005.1 769.4,1001.6 770.7,1004.2 771.9,1004.6 773.2,1003.0 774.5,1001.7 775.7,1002.0 777.0,1001.9 778.3,1004.4 779.5,1004.1 780.8,1004.8 782.1,1002.5 783.4,1003.8 784.6,1002.7 785.9,1005.0 787.2,1002.4 788.4,1004.6 789.7,1001.4 791.0,1004.1 792.2,1003.3 793.5,1002.0 794.8,1002.7 796.0,1004.7 797.3,1001.6 798.6,1002.3 799.9,1002.2 801.1,1003.1 802.4,1004.4 803.7,1002.6 804.9,1003.8 806.2,1001.9 807.5,1003.8 808.7,1002.5 810.0,1002.9 811.3,1004.4 812.5,1002.4 813.8,1001.3 815.1,1004.8 816.4,1002.7 817.6,1002.5 818.9,1001.7 820.2,1003.7 821.4,1001.7 822.7,1002.1 824.0,1004.2 825.2,1002.0 826.5,1003.2 827.8,1004.1 829.0,1004.0 830.3,1003.6 831.6,1002.0 832.9,1004.3 834.1,1002.3 835.4,1001.6 836.7,1002.8 837.9,1001.2 839.2,1002.0 840.5,1002.8 841.7,1000.9 843.0,1002.6 844.3,1004.3 845.5,1004.0 846.8,1001.5 848.1,1001.3 849.4,1003.2 850.6,1003.4 851.9,1004.0 853.2,1001.3 854.4,1000.6 855.7,1000.8 857.0,1003.0 858.2,1001.0 859.5,1004.0 860.8,1004.6 862.0,1002.4 863.3,1003.3 864.6,1002.7 865.9,1004.6 867.1,1004.1 868.4,1002.7 869.7,1002.6 870.9,1001.6 872.2,1001.4 873.5,1003.1 874.7,1002.8 876.0,1003.6 877.3,1004.2 878.5,1003.0 879.8,1002.1 881.1,1000.0 882.4,1001.3 883.6,1000.9 884.9,1000.8 886.2,1000.2 887.4,1000.3 888.7,1004.0 890.0,1003.3 891.2,1003.6 892.5,1000.7 893.8,1002.4 895.0,999.9 896.3,1001.9 897.6,1004.9 898.9,1003.7 900.1,1002.8 901.4,1004.3 902.7,1001.9 903.9,1004.8 905.2,1003.7 906.5,1005.0 907.7,1006.7 909.0,1000.9 910.3,1002.1 911.5,999.3 912.8,1004.4 914.1,1004.0 915.4,1004.8 916.6,1008.9 917.9,1004.0" stroke="#6cbd45" stroke-width="2" marker-start="url(#n3)" marker-mid="url(#n3)" marker-end="url(#n3)"/>
<path d="M437.4 1435.2H628.9M919.5 1435.2H1087.2" stroke="#1c1a1b" stroke-width="9.0" stroke-linecap="round"/>
<path d="M628.9 1435.2L630.1 1005.3M918.2 1003.4L919.5 1435.2" stroke="#1c1a1b" stroke-width="2.3" stroke-dasharray="25 15" stroke-dashoffset="32"/>
<polyline points="630.1,1005.3 631.4,1002.9 632.6,1005.0 633.9,1004.8 635.2,1003.9 636.4,1002.9 637.7,1003.8 639.0,1002.4 640.3,1002.9 641.5,1003.6 642.8,1002.5 644.1,1004.3 645.3,1003.5 646.6,1003.3 647.9,1005.2 649.1,1004.6 650.4,1002.1 651.7,1004.5 652.9,1002.4 654.2,1005.3 655.5,1004.6 656.8,1004.7 658.0,1005.5 659.3,1003.0 660.6,1004.7 661.8,1003.5 663.1,1005.2 664.4,1003.5 665.6,1003.8 666.9,1003.8 668.2,1002.7 669.4,1004.2 670.7,1003.0 672.0,1002.7 673.3,1004.6 674.5,1004.4 675.8,1003.3 677.1,1004.8 678.3,1005.4 679.6,1003.3 680.9,1003.0 682.1,1005.1 683.4,1003.4 684.7,1003.8 685.9,1003.6 687.2,1002.2 688.5,1005.3 689.8,1004.8 691.0,1005.1 692.3,1003.2 693.6,1002.4 694.8,1003.5 696.1,1005.3 697.4,1003.6 698.6,1005.0 699.9,1005.1 701.2,1004.3 702.4,1002.4 703.7,1002.9 705.0,1001.9 706.3,1003.7 707.5,1004.7 708.8,1004.1 710.1,1005.1 711.3,1003.9 712.6,1003.2 713.9,1003.0 715.1,1001.9 716.4,1004.0 717.7,1005.0 718.9,1002.3 720.2,1004.7 721.5,1004.2 722.8,1004.8 724.0,1002.8 725.3,1002.2 726.6,1004.6 727.8,1003.3 729.1,1005.2 730.4,1002.9 731.6,1004.8 732.9,1004.2 734.2,1003.3 735.4,1003.6 736.7,1002.5 738.0,1005.1 739.3,1004.5 740.5,1004.6 741.8,1003.9 743.1,1002.2 744.3,1001.8 745.6,1001.8 746.9,1004.6 748.1,1004.5 749.4,1004.2 750.7,1003.1 751.9,1002.2 753.2,1003.4 754.5,1005.1 755.8,1002.8 757.0,1003.0 758.3,1003.8 759.6,1003.3 760.8,1004.3 762.1,1004.1 763.4,1003.1 764.6,1003.8 765.9,1003.9 767.2,1004.6 768.4,1002.0 769.7,1003.3 771.0,1002.0 772.3,1003.0 773.5,1004.9 774.8,1005.0 776.1,1004.5 777.3,1003.8 778.6,1004.5 779.9,1003.8 781.1,1001.8 782.4,1005.0 783.7,1004.8 784.9,1002.5 786.2,1002.4 787.5,1004.1 788.8,1004.8 790.0,1003.8 791.3,1002.5 792.6,1004.0 793.8,1003.2 795.1,1003.4 796.4,1001.7 797.6,1002.7 798.9,1003.7 800.2,1003.6 801.4,1004.6 802.7,1002.0 804.0,1004.3 805.3,1004.6 806.5,1003.8 807.8,1002.5 809.1,1003.0 810.3,1005.0 811.6,1002.8 812.9,1002.2 814.1,1002.2 815.4,1004.2 816.7,1004.7 817.9,1003.5 819.2,1004.1 820.5,1001.2 821.8,1002.3 823.0,1003.8 824.3,1001.7 825.6,1002.6 826.8,1004.8 828.1,1004.1 829.4,1003.9 830.6,1001.3 831.9,1002.4 833.2,1004.2 834.4,1001.5 835.7,1003.4 837.0,1000.9 838.3,1002.7 839.5,1004.9 840.8,1003.3 842.1,1002.1 843.3,1003.1 844.6,1002.2 845.9,1004.5 847.1,1004.8 848.4,1004.5 849.7,1002.2 850.9,1004.0 852.2,1001.4 853.5,1001.5 854.8,1004.3 856.0,1004.6 857.3,1002.0 858.6,997.3 859.8,1001.0 861.1,1003.3 862.4,1004.8 863.6,1001.5 864.9,1002.2 866.2,1000.6 867.4,1003.5 868.7,1004.8 870.0,1004.6 871.3,1000.8 872.5,1003.2 873.8,1004.5 875.1,1004.8 876.3,1001.9 877.6,1003.2 878.9,1001.3 880.1,1001.9 881.4,1003.8 882.7,1001.9 883.9,1003.0 885.2,1001.6 886.5,1003.7 887.8,1003.4 889.0,1004.1 890.3,1004.3 891.6,1002.9 892.8,1001.7 894.1,1001.9 895.4,1004.0 896.6,1002.9 897.9,1002.6 899.2,1003.8 900.4,1001.6 901.7,1003.1 903.0,1004.5 904.3,1001.1 905.5,1004.1 906.8,1003.0 908.1,1000.5 909.3,1004.4 910.6,1001.8 911.9,1001.5 913.1,1003.5 914.4,1004.5 915.7,1002.6 916.9,1003.4 918.2,1003.4" stroke="#1c1a1b" stroke-width="2" marker-start="url(#n4)" marker-mid="url(#n4)" marker-end="url(#n4)"/>
<path d="M437.4 1435.2H615.9M919.4 1435.2H1087.2" stroke="#2d5fb4" stroke-width="9.0" stroke-linecap="round"/>
<path d="M615.9 1435.2L617.1 1004.7M917.9 1010.0L919.4 1435.2" stroke="#2d5fb4" stroke-width="2.3" stroke-dasharray="2.4 7.6" stroke-dashoffset="11"/>
<polyline points="617.1,1004.7 618.4,1005.4 619.6,1005.0 620.9,1004.1 622.2,1003.1 623.4,1005.0 624.7,1004.1 626.0,1003.4 627.3,1004.8 628.5,1003.3 629.8,1003.3 631.1,1004.8 632.3,1002.5 633.6,1002.3 634.9,1002.3 636.1,1004.8 637.4,1004.4 638.7,1003.7 639.9,1002.7 641.2,1005.5 642.5,1004.7 643.8,1003.3 645.0,1004.7 646.3,1004.8 647.6,1002.1 648.8,1003.4 650.1,1003.1 651.4,1005.2 652.6,1004.5 653.9,1005.1 655.2,1004.6 656.4,1005.0 657.7,1005.1 659.0,1002.8 660.3,1004.5 661.5,1002.4 662.8,1005.4 664.1,1004.4 665.3,1004.4 666.6,1004.1 667.9,1003.5 669.1,1003.7 670.4,1004.3 671.7,1004.3 672.9,1003.0 674.2,1004.4 675.5,1003.0 676.8,1003.7 678.0,1004.6 679.3,1002.8 680.6,1003.6 681.8,1003.2 683.1,1005.2 684.4,1003.8 685.6,1003.6 686.9,1004.0 688.2,1004.1 689.4,1005.0 690.7,1003.7 692.0,1002.7 693.3,1003.4 694.5,1004.3 695.8,1004.7 697.1,1004.1 698.3,1004.3 699.6,1004.7 700.9,1003.9 702.1,1004.1 703.4,1003.5 704.7,1002.5 705.9,1004.1 707.2,1003.0 708.5,1004.8 709.8,1004.5 711.0,1002.3 712.3,1002.7 713.6,1002.8 714.8,1002.5 716.1,1002.2 717.4,1002.0 718.6,1002.8 719.9,1002.1 721.2,1004.4 722.4,1003.6 723.7,1004.6 725.0,1004.9 726.3,1003.9 727.5,1004.1 728.8,1003.1 730.1,1003.9 731.3,1004.7 732.6,1003.5 733.9,1004.1 735.1,1002.6 736.4,1002.8 737.7,1001.9 738.9,1001.8 740.2,1003.2 741.5,1004.3 742.8,1003.2 744.0,1004.2 745.3,1003.4 746.6,1002.5 747.8,1002.7 749.1,1003.6 750.4,1004.1 751.6,1005.1 752.9,1002.1 754.2,1002.2 755.4,1003.0 756.7,1002.3 758.0,1004.5 759.3,1002.8 760.5,1004.1 761.8,1002.2 763.1,1003.7 764.3,1003.4 765.6,1003.9 766.9,1003.6 768.1,1002.0 769.4,1001.6 770.7,1004.2 771.9,1002.2 773.2,1001.7 774.5,1003.2 775.8,1003.0 777.0,1002.1 778.3,1002.7 779.6,1003.2 780.8,1001.8 782.1,1003.1 783.4,1002.2 784.6,1001.7 785.9,1003.9 787.2,1002.0 788.4,1004.4 789.7,1003.1 791.0,1002.6 792.3,1001.9 793.5,1003.9 794.8,1001.5 796.1,1002.3 797.3,1001.6 798.6,1004.1 799.9,1003.0 801.1,1003.3 802.4,1001.4 803.7,1002.0 804.9,1004.4 806.2,1001.6 807.5,1003.6 808.8,1003.2 810.0,1004.8 811.3,1003.0 812.6,1001.5 813.8,1003.2 815.1,1004.9 816.4,1001.7 817.6,1003.2 818.9,1004.6 820.2,1002.3 821.4,1004.2 822.7,1002.6 824.0,1003.3 825.3,1004.0 826.5,1003.2 827.8,1003.8 829.1,1003.1 830.3,1002.6 831.6,1002.9 832.9,1004.7 834.1,1002.6 835.4,1001.1 836.7,1001.5 837.9,1003.2 839.2,1001.8 840.5,1004.2 841.8,1002.0 843.0,1004.2 844.3,1004.6 845.6,1002.1 846.8,1003.4 848.1,1002.7 849.4,1004.7 850.6,1003.9 851.9,1004.6 853.2,1000.9 854.4,1004.4 855.7,1000.9 857.0,1004.6 858.3,1004.0 859.5,1001.8 860.8,1002.1 862.1,1004.7 863.3,1003.4 864.6,1004.3 865.9,1003.4 867.1,1003.3 868.4,1002.4 869.7,1001.4 870.9,1004.7 872.2,1001.7 873.5,1000.5 874.8,1003.3 876.0,1001.7 877.3,1002.8 878.6,1003.5 879.8,1002.3 881.1,1004.6 882.4,1001.6 883.6,1002.2 884.9,1003.6 886.2,1004.8 887.4,1000.2 888.7,1001.6 890.0,1004.7 891.3,1000.8 892.5,1004.4 893.8,1002.5 895.1,1004.3 896.3,1000.0 897.6,1001.5 898.9,1001.2 900.1,1007.6 901.4,1003.2 902.7,1004.7 903.9,1000.0 905.2,1004.3 906.5,1001.5 907.8,1003.9 909.0,1004.6 910.3,1004.9 911.6,1003.1 912.8,1004.4 914.1,999.9 915.4,1001.3 916.6,1003.9 917.9,1010.0" stroke="#2d5fb4" stroke-width="2" marker-start="url(#n5)" marker-mid="url(#n5)" marker-end="url(#n5)"/>
<path d="M437.4 1435.2H603.2M919.3 1435.2H1087.2" stroke="#ee2e27" stroke-width="9.0" stroke-linecap="round"/>
<path d="M603.2 1435.2L604.4 1003.1M917.9 1006.2L919.3 1435.2" stroke="#ee2e27" stroke-width="2.3" stroke-dasharray="19.6 8 4.6 8" stroke-dashoffset="31"/>
<polyline points="604.4,1003.1 605.7,1005.1 606.9,1003.0 608.2,1002.9 609.5,1002.8 610.7,1002.5 612.0,1004.3 613.3,1002.3 614.6,1005.4 615.8,1005.4 617.1,1003.5 618.4,1005.4 619.6,1003.8 620.9,1004.5 622.2,1003.2 623.4,1004.1 624.7,1004.4 626.0,1003.3 627.2,1002.2 628.5,1004.7 629.8,1005.3 631.1,1005.0 632.3,1002.4 633.6,1003.0 634.9,1005.5 636.1,1004.8 637.4,1002.9 638.7,1005.0 639.9,1003.8 641.2,1004.9 642.5,1004.5 643.7,1004.0 645.0,1003.9 646.3,1002.5 647.6,1003.8 648.8,1002.2 650.1,1003.7 651.4,1003.9 652.6,1004.5 653.9,1004.2 655.2,1002.1 656.4,1003.6 657.7,1004.9 659.0,1005.0 660.2,1003.3 661.5,1003.6 662.8,1003.7 664.1,1003.3 665.3,1005.2 666.6,1005.3 667.9,1004.5 669.1,1004.5 670.4,1003.0 671.7,1002.4 672.9,1003.5 674.2,1002.7 675.5,1002.7 676.7,1004.1 678.0,1003.5 679.3,1002.6 680.6,1002.1 681.8,1002.6 683.1,1004.0 684.4,1005.1 685.6,1004.6 686.9,1003.6 688.2,1004.7 689.4,1002.8 690.7,1004.5 692.0,1003.9 693.2,1004.0 694.5,1002.0 695.8,1003.9 697.1,1003.0 698.3,1002.1 699.6,1002.8 700.9,1002.9 702.1,1002.5 703.4,1004.0 704.7,1004.5 705.9,1004.6 707.2,1005.0 708.5,1005.1 709.7,1002.3 711.0,1002.1 712.3,1002.5 713.6,1004.6 714.8,1005.2 716.1,1002.7 717.4,1003.4 718.6,1003.3 719.9,1003.9 721.2,1003.2 722.4,1002.7 723.7,1003.6 725.0,1003.8 726.2,1003.8 727.5,1005.2 728.8,1004.0 730.1,1003.9 731.3,1004.4 732.6,1002.8 733.9,1002.4 735.1,1003.9 736.4,1002.7 737.7,1003.5 738.9,1004.2 740.2,1005.1 741.5,1004.2 742.7,1002.1 744.0,1002.3 745.3,1001.9 746.6,1002.4 747.8,1003.0 749.1,1005.0 750.4,1005.0 751.6,1002.2 752.9,1004.7 754.2,1004.8 755.4,1001.9 756.7,1003.7 758.0,1004.9 759.2,1004.4 760.5,1004.3 761.8,1003.4 763.1,1004.9 764.3,1003.3 765.6,1004.0 766.9,1004.9 768.1,1003.6 769.4,1003.0 770.7,1004.0 771.9,1003.9 773.2,1003.9 774.5,1001.7 775.7,1002.0 777.0,1003.9 778.3,1002.4 779.6,1002.0 780.8,1002.6 782.1,1002.5 783.4,1004.8 784.6,1002.1 785.9,1004.9 787.2,1001.5 788.4,1004.3 789.7,1004.2 791.0,1003.3 792.2,1003.6 793.5,1004.6 794.8,1004.4 796.1,1001.4 797.3,1004.3 798.6,1004.9 799.9,1003.8 801.1,1003.2 802.4,1004.8 803.7,1002.5 804.9,1003.2 806.2,1001.9 807.5,1004.1 808.7,1004.8 810.0,1002.9 811.3,1001.2 812.6,1004.8 813.8,1002.1 815.1,1003.3 816.4,1002.2 817.6,1003.6 818.9,1001.7 820.2,1002.8 821.4,1003.7 822.7,1003.7 824.0,1002.4 825.2,1003.8 826.5,1003.7 827.8,1001.2 829.1,1004.1 830.3,1002.2 831.6,1004.3 832.9,1004.1 834.1,1002.1 835.4,1003.4 836.7,1003.1 837.9,1004.0 839.2,1001.2 840.5,1002.0 841.7,1003.9 843.0,1003.4 844.3,1003.8 845.6,1001.6 846.8,1002.3 848.1,1003.5 849.4,1002.6 850.6,1001.6 851.9,1003.8 853.2,1003.2 854.4,1003.1 855.7,1002.5 857.0,1007.3 858.2,1003.4 859.5,1004.0 860.8,1004.3 862.1,1003.4 863.3,1003.9 864.6,1001.9 865.9,1004.4 867.1,1001.1 868.4,1000.9 869.7,1000.5 870.9,1004.4 872.2,1004.6 873.5,1000.4 874.7,1004.5 876.0,1004.3 877.3,1003.9 878.6,1002.0 879.8,1001.0 881.1,1004.6 882.4,1003.2 883.6,1003.0 884.9,1000.2 886.2,1001.8 887.4,1002.6 888.7,1003.0 890.0,1003.1 891.2,1003.6 892.5,1001.2 893.8,1004.1 895.1,1002.0 896.3,1000.8 897.6,1002.2 898.9,1002.6 900.1,1001.5 901.4,1004.7 902.7,1004.6 903.9,1004.5 905.2,1003.4 906.5,1002.7 907.7,1003.2 909.0,1003.0 910.3,1000.9 911.6,1000.3 912.8,1000.6 914.1,1000.8 915.4,1004.9 916.6,1001.3 917.9,1006.2" stroke="#ee2e27" stroke-width="2" marker-start="url(#n0)" marker-mid="url(#n0)" marker-end="url(#n0)"/>
<path d="M437.4 1435.2H590.8M919.3 1435.2H1087.2" stroke="#5cc5d8" stroke-width="9.0" stroke-linecap="round"/>
<path d="M590.8 1435.2L592.0 1005.1M916.9 1003.1L919.3 1435.2" stroke="#5cc5d8" stroke-width="2.3" stroke-dasharray="25 15" stroke-dashoffset="22"/>
<polyline points="592.0,1005.1 593.3,1005.6 594.5,1002.6 595.8,1003.3 597.1,1005.3 598.3,1004.7 599.6,1002.9 600.9,1005.2 602.2,1002.6 603.4,1005.2 604.7,1003.7 606.0,1005.0 607.2,1003.7 608.5,1005.0 609.8,1005.2 611.0,1004.3 612.3,1003.1 613.6,1003.8 614.8,1003.7 616.1,1003.8 617.4,1003.6 618.7,1005.1 619.9,1004.0 621.2,1005.3 622.5,1005.2 623.7,1004.8 625.0,1005.5 626.3,1005.0 627.5,1004.2 628.8,1005.5 630.1,1002.2 631.3,1002.5 632.6,1003.0 633.9,1004.6 635.2,1003.4 636.4,1004.9 637.7,1002.1 639.0,1003.1 640.2,1004.1 641.5,1003.9 642.8,1004.2 644.0,1002.6 645.3,1003.4 646.6,1005.2 647.8,1005.2 649.1,1002.8 650.4,1004.5 651.7,1004.0 652.9,1003.4 654.2,1004.5 655.5,1002.9 656.7,1003.1 658.0,1005.2 659.3,1003.5 660.5,1002.3 661.8,1003.2 663.1,1004.7 664.3,1004.5 665.6,1002.5 666.9,1002.8 668.2,1004.6 669.4,1003.7 670.7,1004.3 672.0,1002.6 673.2,1005.2 674.5,1005.4 675.8,1002.0 677.0,1004.7 678.3,1004.6 679.6,1002.5 680.8,1002.3 682.1,1003.4 683.4,1004.8 684.7,1004.6 685.9,1004.8 687.2,1005.4 688.5,1005.3 689.7,1003.9 691.0,1003.4 692.3,1004.9 693.5,1005.3 694.8,1004.7 696.1,1005.0 697.3,1005.1 698.6,1004.5 699.9,1004.5 701.2,1005.0 702.4,1005.0 703.7,1005.3 705.0,1003.7 706.2,1005.1 707.5,1003.1 708.8,1002.2 710.0,1004.6 711.3,1004.6 712.6,1002.8 713.8,1003.4 715.1,1005.1 716.4,1002.1 717.7,1005.2 718.9,1003.4 720.2,1004.6 721.5,1002.7 722.7,1004.8 724.0,1003.4 725.3,1003.6 726.5,1003.8 727.8,1003.7 729.1,1003.7 730.3,1004.3 731.6,1003.7 732.9,1004.8 734.2,1004.8 735.4,1003.3 736.7,1003.6 738.0,1003.2 739.2,1003.4 740.5,1003.1 741.8,1004.3 743.0,1001.8 744.3,1004.3 745.6,1004.3 746.8,1004.2 748.1,1005.1 749.4,1001.7 750.7,1002.2 751.9,1001.7 753.2,1003.6 754.5,1002.2 755.7,1002.4 757.0,1004.4 758.3,1003.3 759.5,1005.0 760.8,1002.3 762.1,1003.9 763.3,1002.2 764.6,1002.9 765.9,1003.1 767.2,1004.2 768.4,1002.3 769.7,1004.4 771.0,1004.7 772.2,1004.0 773.5,1002.7 774.8,1002.5 776.0,1004.8 777.3,1001.8 778.6,1004.4 779.8,1001.9 781.1,1003.1 782.4,1001.5 783.7,1004.8 784.9,1002.9 786.2,1008.4 787.5,1004.4 788.7,1002.3 790.0,1003.3 791.3,1001.9 792.5,1002.0 793.8,1004.2 795.1,1003.8 796.3,1004.1 797.6,1002.3 798.9,1001.9 800.2,1002.0 801.4,1005.0 802.7,1002.7 804.0,1004.9 805.2,1001.3 806.5,1001.6 807.8,1003.6 809.0,1003.7 810.3,1004.6 811.6,1002.9 812.8,1002.5 814.1,1002.2 815.4,1004.4 816.7,1002.9 817.9,1002.3 819.2,1001.8 820.5,1004.9 821.7,1003.1 823.0,1003.8 824.3,1002.8 825.5,1002.8 826.8,1003.4 828.1,1001.1 829.3,1002.4 830.6,1003.7 831.9,1001.2 833.2,1003.6 834.4,1001.8 835.7,1001.9 837.0,1004.4 838.2,1003.5 839.5,1003.9 840.8,1001.0 842.0,1003.1 843.3,1001.3 844.6,1002.3 845.8,1001.7 847.1,1003.9 848.4,1003.3 849.7,1001.4 850.9,1001.9 852.2,1000.9 853.5,1001.6 854.7,1002.0 856.0,1002.0 857.3,1003.7 858.5,1004.3 859.8,1002.3 861.1,1002.3 862.3,1001.0 863.6,1006.3 864.9,1003.8 866.2,1000.7 867.4,1002.7 868.7,1002.7 870.0,1001.9 871.2,1007.1 872.5,1004.0 873.8,1000.6 875.0,1004.3 876.3,1000.5 877.6,1000.5 878.8,1004.6 880.1,1002.4 881.4,1003.4 882.7,1001.6 883.9,1000.3 885.2,1003.4 886.5,1004.2 887.7,1000.2 889.0,1001.0 890.3,1003.0 891.5,1000.5 892.8,1002.2 894.1,1004.4 895.3,1003.0 896.6,1001.0 897.9,1003.3 899.2,1001.4 900.4,1004.1 901.7,1000.6 903.0,1003.9 904.2,1003.1 905.5,1000.6 906.8,1003.9 908.0,1002.4 909.3,1000.2 910.6,1001.2 911.8,1004.7 913.1,1004.5 914.4,1000.3 915.7,1008.2 916.9,1003.1" stroke="#5cc5d8" stroke-width="2" marker-start="url(#n1)" marker-mid="url(#n1)" marker-end="url(#n1)"/>
<path d="M437.4 1435.2H578.1M919.2 1435.2H1087.2" stroke="#a75cab" stroke-width="9.0" stroke-linecap="round"/>
<path d="M578.1 1435.2L579.3 1004.6M916.9 1006.3L919.2 1435.2" stroke="#a75cab" stroke-width="4.2" stroke-dashoffset="10"/>
<polyline points="579.3,1004.6 580.6,1003.3 581.8,1004.4 583.1,1004.4 584.4,1002.9 585.6,1002.3 586.9,1002.2 588.2,1004.7 589.5,1003.6 590.7,1004.9 592.0,1005.0 593.3,1004.8 594.5,1003.1 595.8,1003.0 597.1,1004.1 598.3,1004.5 599.6,1004.6 600.9,1004.5 602.1,1002.8 603.4,1004.2 604.7,1004.8 606.0,1002.7 607.2,1005.1 608.5,1002.3 609.8,1004.2 611.0,1002.9 612.3,1003.8 613.6,1003.2 614.8,1003.3 616.1,1003.6 617.4,1002.4 618.6,1003.7 619.9,1003.7 621.2,1002.9 622.5,1004.0 623.7,1004.3 625.0,1003.3 626.3,1004.0 627.5,1004.9 628.8,1003.5 630.1,1004.3 631.3,1003.8 632.6,1002.7 633.9,1002.2 635.1,1002.1 636.4,1005.2 637.7,1002.4 639.0,1002.2 640.2,1004.1 641.5,1004.2 642.8,1003.9 644.0,1005.2 645.3,1003.2 646.6,1004.7 647.8,1004.8 649.1,1003.9 650.4,1002.6 651.6,1005.3 652.9,1003.6 654.2,1002.3 655.5,1002.5 656.7,1005.0 658.0,1004.5 659.3,1005.4 660.5,1002.8 661.8,1005.3 663.1,1003.4 664.3,1002.6 665.6,1003.1 666.9,1002.5 668.1,1003.4 669.4,1005.3 670.7,1004.9 672.0,1002.4 673.2,1005.0 674.5,1004.2 675.8,1004.0 677.0,1002.9 678.3,1002.0 679.6,1002.7 680.8,1005.0 682.1,1005.2 683.4,1003.7 684.6,1004.9 685.9,1004.1 687.2,1003.3 688.5,1003.7 689.7,1004.2 691.0,1004.0 692.3,1001.9 693.5,1002.7 694.8,1005.0 696.1,1003.7 697.3,1002.9 698.6,1002.0 699.9,1004.3 701.1,1002.5 702.4,1002.8 703.7,1005.0 705.0,1005.2 706.2,1005.1 707.5,1005.0 708.8,1002.9 710.0,1005.2 711.3,1002.7 712.6,1003.3 713.8,1002.1 715.1,1004.3 716.4,1002.2 717.6,1002.1 718.9,1003.6 720.2,1004.0 721.5,1003.4 722.7,1002.4 724.0,1002.2 725.3,1003.1 726.5,1004.6 727.8,1005.2 729.1,1002.4 730.3,1002.5 731.6,1004.1 732.9,1004.3 734.1,1002.3 735.4,1004.0 736.7,1004.7 738.0,1003.0 739.2,1001.7 740.5,1003.1 741.8,1005.0 743.0,1004.5 744.3,1004.1 745.6,1001.7 746.8,1004.5 748.1,1004.2 749.4,1005.1 750.6,1004.1 751.9,1002.2 753.2,1004.1 754.5,1002.6 755.7,1001.6 757.0,1004.7 758.3,1004.3 759.5,1003.8 760.8,1005.1 762.1,1005.1 763.3,1001.9 764.6,1001.6 765.9,1003.6 767.1,1001.9 768.4,1004.4 769.7,1003.7 771.0,1002.7 772.2,1004.1 773.5,1002.7 774.8,1002.9 776.0,1001.6 777.3,1002.1 778.6,1003.9 779.8,1003.0 781.1,1003.3 782.4,1003.2 783.6,1003.1 784.9,1003.4 786.2,1005.0 787.5,1004.5 788.7,1004.2 790.0,1001.6 791.3,1001.6 792.5,1002.6 793.8,1001.7 795.1,1002.1 796.3,1002.7 797.6,1004.0 798.9,1004.3 800.1,1004.9 801.4,1001.5 802.7,1003.8 804.0,1001.3 805.2,1004.9 806.5,1003.0 807.8,1001.4 809.0,1004.8 810.3,1001.2 811.6,1002.1 812.8,1003.9 814.1,1001.2 815.4,1001.9 816.6,1003.9 817.9,1001.4 819.2,1004.0 820.5,1001.6 821.7,1001.7 823.0,1002.3 824.3,1002.9 825.5,1003.7 826.8,1004.3 828.1,1003.2 829.3,1004.4 830.6,1002.8 831.9,1002.6 833.1,1002.0 834.4,1003.4 835.7,1003.2 837.0,1001.9 838.2,1003.4 839.5,1004.5 840.8,1001.3 842.0,1004.3 843.3,1004.7 844.6,1003.9 845.8,1001.4 847.1,1001.7 848.4,1004.4 849.6,1002.2 850.9,1001.2 852.2,1000.9 853.5,1002.6 854.7,1001.1 856.0,1003.3 857.3,1004.8 858.5,1004.2 859.8,1003.7 861.1,1004.7 862.3,1000.6 863.6,1000.4 864.9,1000.9 866.1,1002.5 867.4,1002.9 868.7,1003.4 870.0,1002.3 871.2,1004.3 872.5,1001.3 873.8,1003.3 875.0,1001.1 876.3,1004.4 877.6,1003.6 878.8,1000.9 880.1,1001.1 881.4,1001.7 882.6,1002.1 883.9,1000.0 885.2,1001.6 886.5,1003.3 887.7,1003.9 889.0,1002.7 890.3,1000.1 891.5,1004.1 892.8,1000.4 894.1,1000.9 895.3,1008.4 896.6,1004.9 897.9,1004.7 899.1,1002.1 900.4,1003.6 901.7,1001.0 903.0,1001.9 904.2,1002.9 905.5,1001.8 906.8,1000.8 908.0,1000.9 909.3,1004.3 910.6,1003.6 911.8,1003.9 913.1,1001.4 914.4,999.2 915.6,1006.6 916.9,1006.3" stroke="#a75cab" stroke-width="2" marker-start="url(#n2)" marker-mid="url(#n2)" marker-end="url(#n2)"/>
<path d="M437.4 1435.2H565.1M919.2 1435.2H1087.2" stroke="#6cbd45" stroke-width="9.0" stroke-linecap="round"/>
<path d="M565.1 1435.2L566.3 1002.3M917.9 1004.5L919.2 1435.2" stroke="#6cbd45" stroke-width="2.3" stroke-dasharray="2.4 7.6" stroke-dashoffset="29"/>
<polyline points="566.3,1002.3 567.6,1004.7 568.8,1004.0 570.1,1004.5 571.4,1005.3 572.6,1002.6 573.9,1003.2 575.2,1002.5 576.5,1002.7 577.7,1003.6 579.0,1003.6 580.3,1003.2 581.5,1004.3 582.8,1003.1 584.1,1005.2 585.3,1003.6 586.6,1003.2 587.9,1005.2 589.1,1005.5 590.4,1004.2 591.7,1003.0 593.0,1004.5 594.2,1005.0 595.5,1003.2 596.8,1003.1 598.0,1004.6 599.3,1005.1 600.6,1004.1 601.8,1005.0 603.1,1005.6 604.4,1002.7 605.6,1003.8 606.9,1005.0 608.2,1004.6 609.5,1004.5 610.7,1004.1 612.0,1002.4 613.3,1002.8 614.5,1005.2 615.8,1003.1 617.1,1004.0 618.3,1004.7 619.6,1005.3 620.9,1003.4 622.1,1002.2 623.4,1005.5 624.7,1002.4 626.0,1002.6 627.2,1004.4 628.5,1003.1 629.8,1003.1 631.0,1003.1 632.3,1003.4 633.6,1002.7 634.8,1002.6 636.1,1004.7 637.4,1003.8 638.6,1002.4 639.9,1005.2 641.2,1003.6 642.5,1002.8 643.7,1002.4 645.0,1003.2 646.3,1003.7 647.5,1003.8 648.8,1004.6 650.1,1004.3 651.3,1003.1 652.6,1002.4 653.9,1002.2 655.1,1002.3 656.4,1004.6 657.7,1004.6 659.0,1005.2 660.2,1002.4 661.5,1003.5 662.8,1004.3 664.0,1003.2 665.3,1002.6 666.6,1003.0 667.8,1004.8 669.1,1003.5 670.4,1005.4 671.6,1004.5 672.9,1003.5 674.2,1003.2 675.5,1004.7 676.7,1003.1 678.0,1004.2 679.3,1005.2 680.5,1002.0 681.8,1003.5 683.1,1003.3 684.3,1004.9 685.6,1002.8 686.9,1005.2 688.1,1004.8 689.4,1002.5 690.7,1002.7 692.0,1003.9 693.2,1004.9 694.5,1003.7 695.8,1004.5 697.0,1004.1 698.3,1004.8 699.6,1002.2 700.8,1002.5 702.1,1001.9 703.4,1004.2 704.6,1003.9 705.9,1003.0 707.2,1002.2 708.5,1004.9 709.7,1004.9 711.0,1005.1 712.3,1005.2 713.5,1004.6 714.8,1004.3 716.1,1003.8 717.3,1002.9 718.6,1002.7 719.9,1002.2 721.1,1002.5 722.4,1004.2 723.7,1001.8 725.0,1004.1 726.2,1004.8 727.5,1002.2 728.8,1002.1 730.0,1003.8 731.3,1004.6 732.6,1004.2 733.8,1002.0 735.1,1004.9 736.4,1002.7 737.6,1005.1 738.9,1003.0 740.2,1002.4 741.5,1003.1 742.7,1005.2 744.0,1005.0 745.3,1003.5 746.5,1002.5 747.8,1004.8 749.1,1003.9 750.3,1001.8 751.6,1005.2 752.9,1001.7 754.1,1004.5 755.4,1004.5 756.7,1002.1 758.0,1001.7 759.2,1002.5 760.5,1005.2 761.8,1004.6 763.0,1001.7 764.3,1003.2 765.6,1002.3 766.8,1002.2 768.1,1003.1 769.4,1004.3 770.6,1004.0 771.9,1002.0 773.2,1001.6 774.5,1004.4 775.7,1002.6 777.0,1002.3 778.3,1004.5 779.5,1003.0 780.8,1002.7 782.1,1003.7 783.3,1003.7 784.6,1003.9 785.9,1002.4 787.1,1001.8 788.4,1002.9 789.7,1004.7 791.0,1002.3 792.2,1003.7 793.5,1001.6 794.8,1003.4 796.0,1002.8 797.3,1002.8 798.6,1001.7 799.8,1002.5 801.1,1003.0 802.4,1002.8 803.6,1002.7 804.9,1002.3 806.2,1001.5 807.5,1003.4 808.7,1003.1 810.0,1002.2 811.3,1001.7 812.5,1001.9 813.8,1002.3 815.1,1002.7 816.3,1004.5 817.6,1004.7 818.9,1004.5 820.1,1002.0 821.4,1004.7 822.7,1004.1 824.0,1002.4 825.2,1003.4 826.5,1004.8 827.8,1001.2 829.0,1001.5 830.3,1004.9 831.6,1002.6 832.8,1001.2 834.1,1004.5 835.4,1003.0 836.6,1003.4 837.9,1000.9 839.2,1004.6 840.5,1004.6 841.7,1003.1 843.0,1003.0 844.3,1003.3 845.5,1002.4 846.8,1003.7 848.1,1001.8 849.3,1003.1 850.6,1000.7 851.9,1004.6 853.1,1002.2 854.4,1004.0 855.7,1002.2 857.0,1002.5 858.2,1003.8 859.5,1003.2 860.8,1002.6 862.0,1002.1 863.3,1000.9 864.6,1002.3 865.8,1000.9 867.1,1002.2 868.4,1002.3 869.6,1004.2 870.9,1001.7 872.2,1000.2 873.5,1003.9 874.7,1001.1 876.0,1002.0 877.3,1004.5 878.5,1003.8 879.8,1002.5 881.1,1004.3 882.3,1004.5 883.6,1003.0 884.9,1000.1 886.1,1003.6 887.4,1000.0 888.7,1004.0 890.0,1002.9 891.2,1000.4 892.5,1002.8 893.8,1000.3 895.0,1001.9 896.3,1001.8 897.6,1000.5 898.8,1000.7 900.1,1004.3 901.4,1001.9 902.6,999.7 903.9,1003.3 905.2,1004.2 906.5,999.6 907.7,1001.2 909.0,1000.4 910.3,1001.3 911.5,1004.5 912.8,999.5 914.1,1003.8 915.3,999.8 916.6,1002.1 917.9,1004.5" stroke="#6cbd45" stroke-width="2" marker-start="url(#n3)" marker-mid="url(#n3)" marker-end="url(#n3)"/>
<path d="M437.4 1435.2H552.5M919.2 1435.2H1087.2" stroke="#1c1a1b" stroke-width="9.0" stroke-linecap="round"/>
<path d="M552.5 1435.2L553.7 1002.6M918.0 1000.2L919.2 1435.2" stroke="#1c1a1b" stroke-width="2.3" stroke-dasharray="25 15" stroke-dashoffset="4"/>
<polyline points="553.7,1002.6 555.0,1003.8 556.2,1005.2 557.5,1003.7 558.8,1002.4 560.0,1004.3 561.3,1005.6 562.6,1004.2 563.9,1004.8 565.1,1003.8 566.4,1005.1 567.7,1002.3 568.9,1002.7 570.2,1005.5 571.5,1002.4 572.7,1005.4 574.0,1005.6 575.3,1002.8 576.5,1005.6 577.8,1003.3 579.1,1004.1 580.4,1004.7 581.6,1004.4 582.9,1005.0 584.2,1005.2 585.4,1004.3 586.7,1004.1 588.0,1005.1 589.2,1005.6 590.5,1005.1 591.8,1003.1 593.0,1002.5 594.3,1002.2 595.6,1005.0 596.9,1004.0 598.1,1002.3 599.4,1005.1 600.7,1002.5 601.9,1005.4 603.2,1004.1 604.5,1004.4 605.7,1003.0 607.0,1002.2 608.3,1003.9 609.5,1002.4 610.8,1002.5 612.1,1002.9 613.4,1004.3 614.6,1005.5 615.9,1003.0 617.2,1005.0 618.4,1003.9 619.7,1003.3 621.0,1005.4 622.2,1003.6 623.5,1002.3 624.8,1003.3 626.0,1002.3 627.3,1002.8 628.6,1004.4 629.9,1004.0 631.1,1003.5 632.4,1004.0 633.7,1002.4 634.9,1002.3 636.2,1004.7 637.5,1005.4 638.7,1003.2 640.0,1003.2 641.3,1002.6 642.5,1004.2 643.8,1002.5 645.1,1004.2 646.4,1002.8 647.6,1003.0 648.9,1002.8 650.2,1003.4 651.4,1003.5 652.7,1002.6 654.0,1004.0 655.2,1004.1 656.5,1004.9 657.8,1005.1 659.0,1002.8 660.3,1003.2 661.6,1004.9 662.9,1004.4 664.1,1003.2 665.4,1004.3 666.7,1003.9 667.9,1003.9 669.2,1004.0 670.5,1004.7 671.7,1004.3 673.0,1002.8 674.3,1002.8 675.5,1002.3 676.8,1003.0 678.1,1002.3 679.4,1002.3 680.6,1002.2 681.9,1003.7 683.2,1002.6 684.4,1003.1 685.7,1004.0 687.0,1004.3 688.2,1003.8 689.5,1003.0 690.8,1002.7 692.0,1004.4 693.3,1004.7 694.6,1004.0 695.9,1004.1 697.1,1004.1 698.4,1002.3 699.7,1002.4 700.9,1005.2 702.2,1004.1 703.5,1004.4 704.7,1002.1 706.0,1001.9 707.3,1003.4 708.5,1004.9 709.8,1005.1 711.1,1003.7 712.4,1003.3 713.6,1005.0 714.9,1003.0 716.2,1005.2 717.4,1002.5 718.7,1005.2 720.0,1002.7 721.2,1002.6 722.5,1004.5 723.8,1004.6 725.0,1003.5 726.3,1005.1 727.6,1003.8 728.9,1002.7 730.1,1002.2 731.4,1003.8 732.7,1004.7 733.9,1004.8 735.2,1004.5 736.5,1004.4 737.7,1001.8 739.0,1001.8 740.3,1003.5 741.5,1002.1 742.8,1001.9 744.1,1004.5 745.4,1004.5 746.6,1002.3 747.9,1004.3 749.2,1004.1 750.4,1003.6 751.7,1004.0 753.0,1004.3 754.2,1005.0 755.5,1003.0 756.8,1003.0 758.0,1003.6 759.3,1003.5 760.6,1003.9 761.9,1001.9 763.1,1004.6 764.4,1004.7 765.7,1001.8 766.9,1004.2 768.2,1004.0 769.5,1003.8 770.7,1002.5 772.0,1002.5 773.3,1001.9 774.5,1004.4 775.8,1002.2 777.1,1005.0 778.4,1001.7 779.6,1002.2 780.9,1001.9 782.2,1003.7 783.4,1004.1 784.7,1004.0 786.0,1004.0 787.2,1002.3 788.5,1003.3 789.8,1001.8 791.0,1003.9 792.3,1005.0 793.6,1004.9 794.9,1001.9 796.1,1002.9 797.4,1001.8 798.7,1004.3 799.9,1003.7 801.2,1002.2 802.5,1003.1 803.7,1002.4 805.0,1001.9 806.3,1004.3 807.5,1004.6 808.8,1001.8 810.1,1003.4 811.4,1002.1 812.6,1001.2 813.9,1004.5 815.2,1003.9 816.4,1001.2 817.7,1003.6 819.0,1001.5 820.2,1002.6 821.5,1002.5 822.8,1004.7 824.0,1004.7 825.3,1002.1 826.6,1002.0 827.9,1003.7 829.1,1002.2 830.4,1001.4 831.7,1004.5 832.9,1003.1 834.2,1001.4 835.5,1004.5 836.7,1003.6 838.0,1002.0 839.3,1001.3 840.5,1001.7 841.8,1004.8 843.1,1003.2 844.4,1004.2 845.6,1004.7 846.9,1003.3 848.2,1003.5 849.4,1001.7 850.7,1002.6 852.0,1003.7 853.2,1002.6 854.5,1003.4 855.8,1003.5 857.0,1001.7 858.3,1004.2 859.6,1004.8 860.9,999.4 862.1,1003.4 863.4,1002.8 864.7,1000.5 865.9,1000.5 867.2,1004.2 868.5,1001.7 869.7,1004.8 871.0,1001.8 872.3,1000.2 873.5,1002.1 874.8,1001.6 876.1,1001.9 877.4,1004.9 878.6,1003.5 879.9,1002.8 881.2,1002.4 882.4,1002.2 883.7,1001.6 885.0,1002.7 886.2,1003.5 887.5,1001.4 888.8,1004.7 890.0,1004.6 891.3,1002.4 892.6,1003.0 893.9,1003.4 895.1,1003.4 896.4,1000.5 897.7,1001.6 898.9,1004.9 900.2,1003.7 901.5,1002.6 902.7,1003.7 904.0,1002.6 905.3,1002.3 906.5,1004.4 907.8,1002.9 909.1,997.7 910.4,1002.4 911.6,1001.3 912.9,1003.0 914.2,1003.0 915.4,1002.4 916.7,998.2 918.0,1000.2" stroke="#1c1a1b" stroke-width="2" marker-start="url(#n4)" marker-mid="url(#n4)" marker-end="url(#n4)"/>
<path d="M437.4 1435.2H541.1M919.2 1435.2H1087.2" stroke="#2d5fb4" stroke-width="9.0" stroke-linecap="round"/>
<path d="M541.1 1435.2L542.3 1002.8M918.0 1000.0L919.2 1435.2" stroke="#2d5fb4" stroke-width="2.3" stroke-dasharray="2.4 7.6" stroke-dashoffset="27"/>
<polyline points="542.3,1002.8 543.6,1005.7 544.8,1006.1 546.1,1001.7 547.4,1006.4 548.6,1005.0 549.9,1002.3 551.2,1006.3 552.5,1005.7 553.7,1002.7 555.0,1005.1 556.3,1006.0 557.5,1002.7 558.8,1002.2 560.1,1002.2 561.3,1005.6 562.6,1005.6 563.9,1005.9 565.1,1006.1 566.4,1001.5 567.7,1002.1 569.0,1006.4 570.2,1005.0 571.5,1002.7 572.8,1002.9 574.0,1002.5 575.3,1005.8 576.6,1006.5 577.8,1005.4 579.1,1002.7 580.4,1002.6 581.6,1002.7 582.9,1002.6 584.2,1005.3 585.5,1005.3 586.7,1002.2 588.0,1002.8 589.3,1002.5 590.5,1002.9 591.8,1001.8 593.1,1001.7 594.3,1001.3 595.6,1006.2 596.9,1006.2 598.1,1002.4 599.4,1006.3 600.7,1002.4 602.0,1006.0 603.2,1002.2 604.5,1005.8 605.8,1006.2 607.0,1002.6 608.3,1001.4 609.6,1001.9 610.8,1002.6 612.1,1005.7 613.4,1006.4 614.6,1002.6 615.9,1004.9 617.2,1005.0 618.5,1001.6 619.7,1005.3 621.0,1002.2 622.3,1005.7 623.5,1005.4 624.8,1005.2 626.1,1005.7 627.3,1001.8 628.6,1002.4 629.9,1006.1 631.1,1002.0 632.4,1002.6 633.7,1001.7 635.0,1005.4 636.2,1005.8 637.5,1006.1 638.8,1004.9 640.0,1002.1 641.3,1005.5 642.6,1002.4 643.8,1002.4 645.1,1002.3 646.4,1005.1 647.6,1004.9 648.9,1002.3 650.2,1005.3 651.5,1001.7 652.7,1001.7 654.0,1002.2 655.3,1005.8 656.5,1002.3 657.8,1002.0 659.1,1002.2 660.3,1002.6 661.6,1005.3 662.9,1001.4 664.1,1005.9 665.4,1005.1 666.7,1001.3 668.0,1005.9 669.2,1006.3 670.5,1005.1 671.8,1005.7 673.0,1001.6 674.3,1004.8 675.6,1005.4 676.8,1006.0 678.1,1006.1 679.4,1002.5 680.6,1002.2 681.9,1005.0 683.2,1001.7 684.5,1002.4 685.7,1006.0 687.0,1001.6 688.3,1002.3 689.5,1005.9 690.8,1002.4 692.1,1001.3 693.3,1005.0 694.6,1001.8 695.9,1002.6 697.1,1002.1 698.4,1005.1 699.7,1006.2 701.0,1001.5 702.2,1006.0 703.5,1001.4 704.8,1002.4 706.0,1001.7 707.3,1005.2 708.6,1002.0 709.8,1002.4 711.1,1005.8 712.4,1002.1 713.6,1004.9 714.9,1004.7 716.2,1001.4 717.5,1001.1 718.7,1002.3 720.0,1005.0 721.3,1001.7 722.5,1005.7 723.8,1001.7 725.1,1005.8 726.3,1001.2 727.6,1005.3 728.9,1001.4 730.1,1005.8 731.4,1004.8 732.7,1001.6 734.0,1005.1 735.2,1002.0 736.5,1006.0 737.8,1006.0 739.0,1004.8 740.3,1001.1 741.6,1001.2 742.8,1001.8 744.1,1005.1 745.4,1005.1 746.6,1005.9 747.9,1001.7 749.2,1001.6 750.5,1005.5 751.7,1004.7 753.0,1004.5 754.3,1005.7 755.5,1005.1 756.8,1005.8 758.1,1001.0 759.3,1004.6 760.6,1001.9 761.9,1001.8 763.1,1005.9 764.4,1004.9 765.7,1005.2 767.0,1001.3 768.2,1006.0 769.5,1001.7 770.8,1000.7 772.0,1001.0 773.3,1005.7 774.6,1005.2 775.8,1005.6 777.1,1004.5 778.4,1005.4 779.6,1005.0 780.9,1001.8 782.2,1000.7 783.5,1002.1 784.7,1001.5 786.0,1001.3 787.3,1000.5 788.5,1005.4 789.8,1001.9 791.1,1005.3 792.3,1000.8 793.6,1005.5 794.9,1001.2 796.1,1001.6 797.4,1001.4 798.7,1005.8 800.0,1002.0 801.2,1005.2 802.5,1004.7 803.8,1004.6 805.0,1001.7 806.3,1001.6 807.6,1000.5 808.8,1005.9 810.1,1000.6 811.4,1000.3 812.6,1001.7 813.9,1005.9 815.2,1004.6 816.5,1001.5 817.7,1001.3 819.0,1004.9 820.3,1000.3 821.5,1005.6 822.8,1001.6 824.1,1005.6 825.3,1005.3 826.6,1000.1 827.9,1005.3 829.1,1004.9 830.4,1000.9 831.7,1000.1 833.0,1004.2 834.2,1005.8 835.5,1000.8 836.8,1004.3 838.0,1000.0 839.3,1000.1 840.6,1004.6 841.8,1004.9 843.1,1001.0 844.4,1004.7 845.6,1005.4 846.9,1000.0 848.2,1004.4 849.5,1001.2 850.7,1001.1 852.0,999.9 853.3,1004.3 854.5,1004.9 855.8,1001.1 857.1,1000.7 858.3,1001.2 859.6,1004.4 860.9,1005.6 862.1,1000.0 863.4,1000.0 864.7,1000.6 866.0,1000.6 867.2,1004.1 868.5,1000.4 869.8,1005.7 871.0,1000.6 872.3,1000.7 873.6,1001.1 874.8,999.5 876.1,1004.2 877.4,1000.7 878.6,1000.9 879.9,999.7 881.2,1000.7 882.5,999.5 883.7,1005.3 885.0,998.8 886.3,1004.7 887.5,999.6 888.8,1006.1 890.1,1005.3 891.3,1005.6 892.6,1000.4 893.9,1006.1 895.1,999.6 896.4,1005.5 897.7,998.7 899.0,1004.7 900.2,1006.4 901.5,1005.1 902.8,998.5 904.0,1005.1 905.3,999.0 906.6,998.9 907.8,1004.9 909.1,999.2 910.4,1000.1 911.6,998.1 912.9,997.8 914.2,997.5 915.5,1000.1 916.7,998.1 918.0,1000.0" stroke="#2d5fb4" stroke-width="2" marker-start="url(#n5)" marker-mid="url(#n5)" marker-end="url(#n5)"/>
</g>
<use href="#bl" transform="translate(2174.50,0) scale(-1,1)"/>
<rect x="437.4" y="915.9" width="1299.7" height="519.3" fill="none" stroke="#2a2829" stroke-width="4.6"/>
<path d="M567.4 915.9v13M567.4 1435.2v-13M697.3 915.9v13M697.3 1435.2v-13M827.3 915.9v13M827.3 1435.2v-13M957.3 915.9v13M957.3 1435.2v-13M1087.2 915.9v13M1087.2 1435.2v-13M1217.2 915.9v13M1217.2 1435.2v-13M1347.2 915.9v13M1347.2 1435.2v-13M1477.2 915.9v13M1477.2 1435.2v-13M1607.1 915.9v13M1607.1 1435.2v-13M437.4 1348.9h13M1737.1 1348.9h-13M437.4 1262.5h13M1737.1 1262.5h-13M437.4 1176.2h13M1737.1 1176.2h-13M437.4 1089.8h13M1737.1 1089.8h-13M437.4 1003.5h13M1737.1 1003.5h-13M437.4 917.7h13M1737.1 917.7h-13" stroke="#2a2829" stroke-width="4.4" fill="none"/>
<g font-family="Liberation Serif, Times New Roman, serif" font-size="66.5" fill="#262324">
<text x="410" y="67.3" text-anchor="end">2 500</text>
<text x="410" y="172.5" text-anchor="end">2 000</text>
<text x="410" y="277" text-anchor="end">1 500</text>
<text x="410" y="380.5" text-anchor="end">1 000</text>
<text x="410" y="485.5" text-anchor="end">500</text>
<text x="410" y="588" text-anchor="end">0</text>
<text x="411" y="932.5" text-anchor="end">55</text>
<text x="411" y="1019" text-anchor="end">50</text>
<text x="411" y="1104.5" text-anchor="end">40</text>
<text x="411" y="1191.7" text-anchor="end">30</text>
<text x="411" y="1279.3" text-anchor="end">20</text>
<text x="411" y="1367" text-anchor="end">10</text>
<text x="411" y="1451.6" text-anchor="end">0</text>
<text x="434.9" y="643" text-anchor="middle">−5</text>
<text x="564.9" y="643" text-anchor="middle">−4</text>
<text x="694.8" y="643" text-anchor="middle">−3</text>
<text x="824.8" y="643" text-anchor="middle">−2</text>
<text x="954.8" y="643" text-anchor="middle">−1</text>
<text x="1087.2" y="643" text-anchor="middle">0</text>
<text x="1217.2" y="643" text-anchor="middle">1</text>
<text x="1347.2" y="643" text-anchor="middle">2</text>
<text x="1477.2" y="643" text-anchor="middle">3</text>
<text x="1607.1" y="643" text-anchor="middle">4</text>
<text x="1734.1" y="643" text-anchor="middle">5</text>
<text x="434.9" y="1505.5" text-anchor="middle">−5</text>
<text x="564.9" y="1505.5" text-anchor="middle">−4</text>
<text x="694.8" y="1505.5" text-anchor="middle">−3</text>
<text x="824.8" y="1505.5" text-anchor="middle">−2</text>
<text x="954.8" y="1505.5" text-anchor="middle">−1</text>
<text x="1087.2" y="1505.5" text-anchor="middle">0</text>
<text x="1217.2" y="1505.5" text-anchor="middle">1</text>
<text x="1347.2" y="1505.5" text-anchor="middle">2</text>
<text x="1477.2" y="1505.5" text-anchor="middle">3</text>
<text x="1607.1" y="1505.5" text-anchor="middle">4</text>
<text x="1734.1" y="1505.5" text-anchor="middle">5</text>
<text x="1087" y="725" text-anchor="middle">Frequency/Hz</text>
<text x="1630" y="725">×10<tspan font-size="38" dy="-23.5">8</tspan></text>
<text x="1087" y="1588.5" text-anchor="middle">Frequency/Hz</text>
<text x="1630" y="1588.5">×10<tspan font-size="38" dy="-23.5">8</tspan></text>
<text x="1078" y="816.5" text-anchor="middle">(a) Power spectrum by averaging two channels</text>
<text x="1086" y="1677.5" text-anchor="middle">(b) Angle estimation</text>
<text transform="translate(213,307) rotate(-90)" text-anchor="middle" letter-spacing="0.3">Spectrum/(V·Hz<tspan font-size="38" dy="-24">−1</tspan><tspan dy="24">)</tspan></text>
<text transform="translate(300,1175) rotate(-90)" text-anchor="middle">Angle/(°)</text>
</g>
</svg>
</body></html>
